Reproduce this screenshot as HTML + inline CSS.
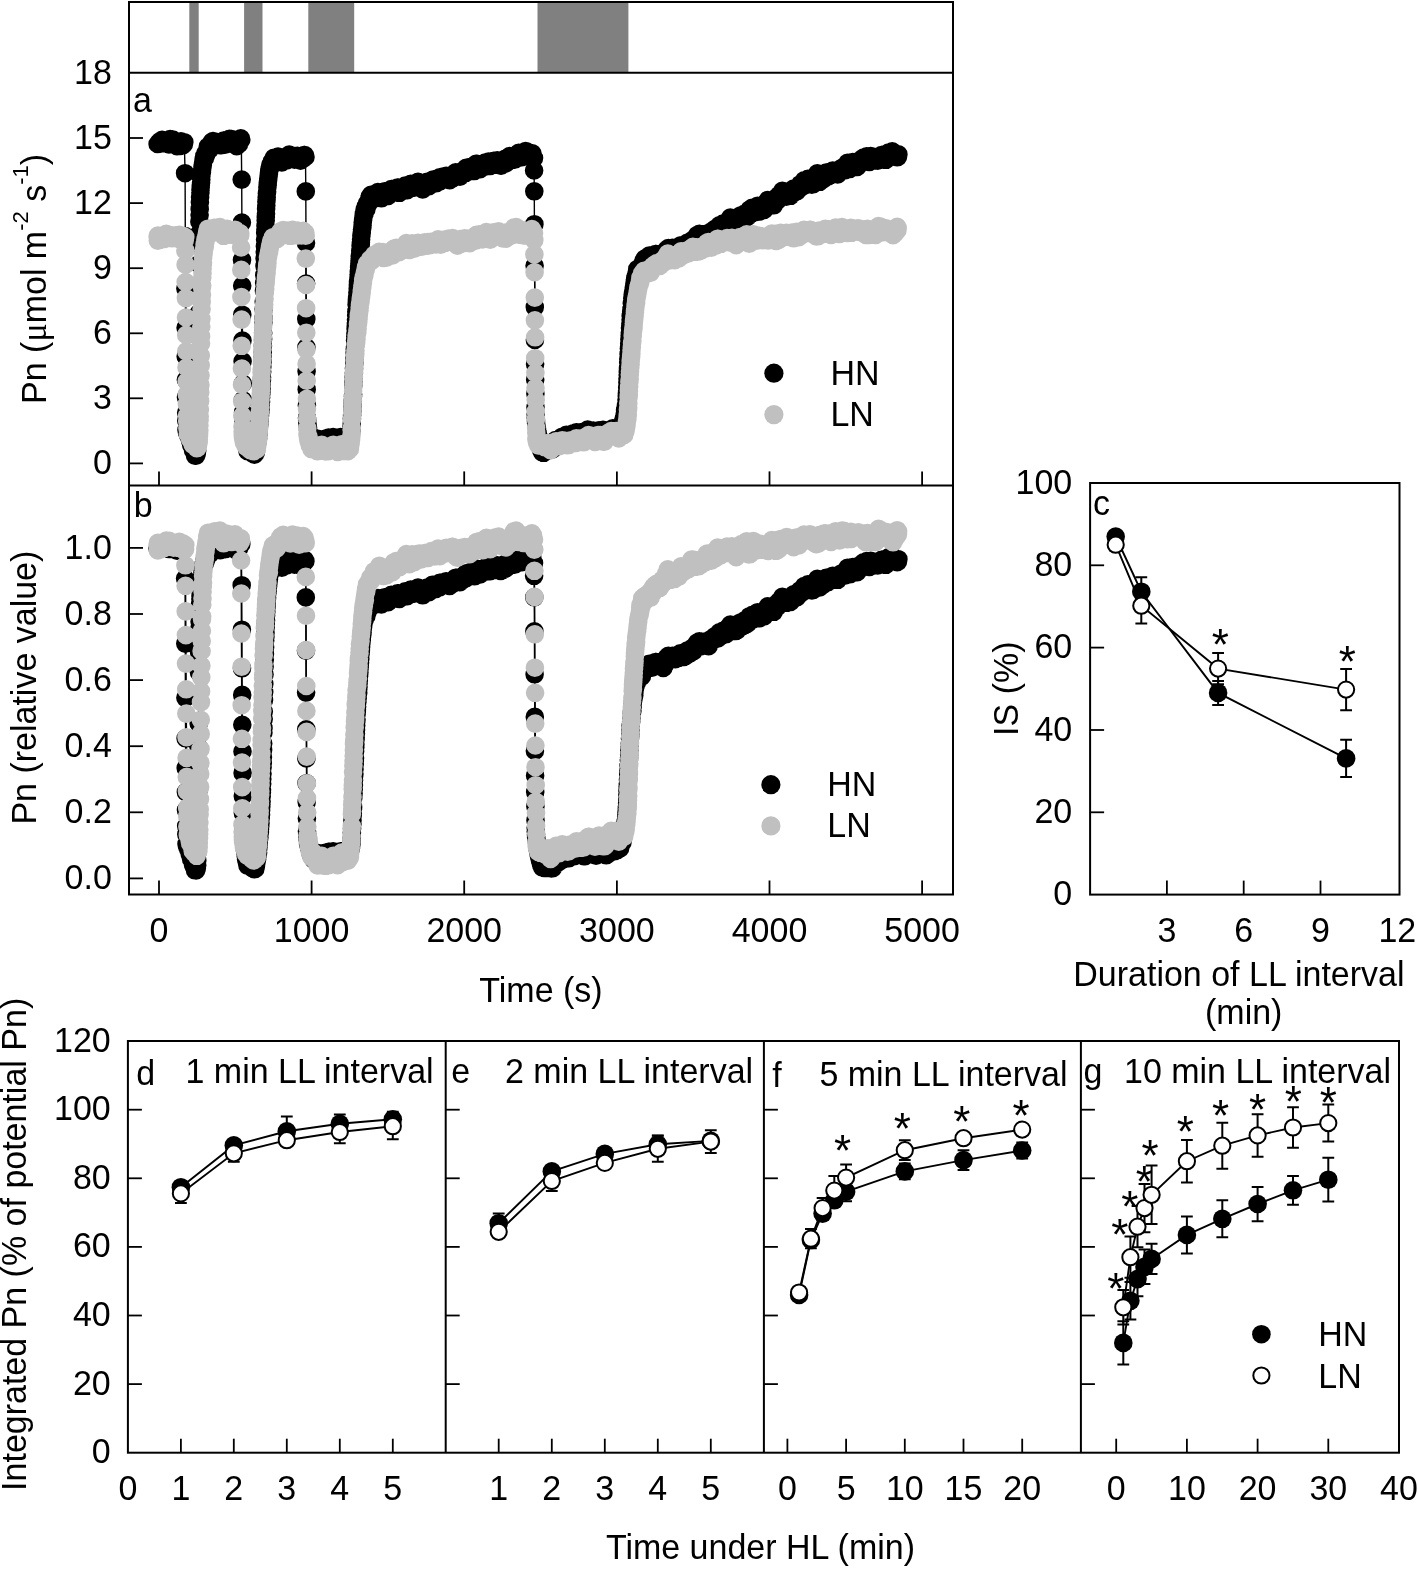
<!DOCTYPE html>
<html><head><meta charset="utf-8"><style>
html,body{margin:0;padding:0;background:#fff;}
svg{display:block;will-change:transform;}
text{font-family:"Liberation Sans",sans-serif;fill:#000;stroke:none;}
</style></head><body>
<svg width="1418" height="1570" viewBox="0 0 1418 1570" stroke="#000" fill="none">
<rect x="0" y="0" width="1418" height="1570" fill="#fff" stroke="none"/>
<g stroke="none" fill="#000">
</g>
<rect x="189.3" y="3.0" width="9.4" height="69.8" fill="#808080" stroke="none"/>
<rect x="244.1" y="3.0" width="18.4" height="69.8" fill="#808080" stroke="none"/>
<rect x="308.3" y="3.0" width="45.9" height="69.8" fill="#808080" stroke="none"/>
<rect x="537.5" y="3.0" width="90.9" height="69.8" fill="#808080" stroke="none"/>
<polyline points="157.6,144.0 158.7,142.6 160.2,141.0 160.4,143.6 160.5,141.5 161.6,143.0 161.7,141.5 162.1,139.9 162.2,141.4 162.5,143.1 162.7,141.0 163.0,142.8 163.1,140.7 163.4,142.9 163.7,140.8 164.0,143.3 164.2,141.7 164.6,143.3 165.1,141.2 166.5,142.6 167.5,141.4 168.2,143.9 168.3,141.8 168.5,143.7 168.6,140.7 168.9,144.5 169.1,141.7 169.5,144.0 169.8,141.1 170.1,139.0 170.3,141.3 170.4,142.9 170.6,139.4 170.8,142.4 171.2,140.7 171.5,142.6 172.0,141.1 172.9,139.6 173.2,141.8 174.1,143.8 174.4,142.2 175.3,144.0 175.6,141.5 175.8,143.1 176.2,144.9 176.7,143.0 177.0,146.2 177.3,143.2 177.6,144.7 178.2,143.3 178.5,145.3 179.5,143.2 180.1,146.0 180.2,142.8 180.5,145.0 181.0,141.4 181.1,143.9 181.3,142.0 181.4,143.6 182.7,145.4 183.9,144.1 184.3,142.2 185.1,173.2 185.3,236.1 185.4,288.6 185.6,327.8 185.7,356.5 185.9,379.8 186.0,397.3 186.2,412.8 186.3,420.7 186.5,430.1 186.9,432.0 188.0,434.0 188.3,435.7 189.2,437.3 190.0,440.4 190.3,438.9 190.6,441.1 191.1,444.6 191.2,441.8 191.4,445.2 191.8,442.6 192.0,445.0 192.7,447.8 193.0,450.2 193.2,448.5 193.3,450.2 193.5,448.6 193.8,451.8 194.9,453.3 195.0,455.6 195.9,454.2 196.1,455.7 196.7,452.0 196.8,453.8 197.2,450.7 197.3,446.0 197.5,438.1 197.6,432.4 197.8,421.4 197.9,412.0 198.1,396.5 198.2,379.8 198.4,359.5 198.5,336.2 198.7,313.4 198.8,287.6 199.0,264.0 199.1,244.6 199.3,233.4 199.4,221.7 199.6,214.9 199.7,209.2 199.9,202.3 200.1,197.3 200.4,192.8 200.5,190.2 200.7,187.3 200.8,185.4 201.1,182.7 201.3,179.6 201.4,175.9 201.9,172.6 202.0,170.5 202.5,167.2 202.8,165.3 203.1,162.7 203.6,159.4 204.3,156.0 204.9,158.2 205.2,154.7 205.4,156.8 205.5,153.4 205.9,155.1 206.0,152.3 206.3,154.2 206.5,151.8 207.5,148.9 207.8,146.7 208.0,148.5 208.6,146.6 209.8,149.5 210.0,144.9 210.3,147.1 210.9,144.4 211.5,142.3 212.0,143.8 212.1,141.5 212.3,143.5 212.4,141.8 212.9,143.7 213.0,141.1 213.2,142.7 213.8,141.2 213.9,143.0 214.1,141.2 214.4,143.1 214.6,144.7 214.7,143.1 215.8,144.2 215.9,142.4 216.1,145.1 216.2,143.2 217.3,144.5 217.9,142.4 218.2,144.0 219.4,142.8 220.0,145.3 220.8,143.4 221.1,145.1 221.3,143.6 222.5,144.8 222.6,142.7 222.8,144.3 223.6,140.6 223.9,143.8 224.0,141.5 224.2,143.1 225.1,144.7 225.2,142.5 225.7,144.5 225.8,142.9 226.5,141.1 227.2,139.7 228.4,141.9 228.6,140.2 229.5,138.9 229.7,141.2 231.2,141.3 231.6,139.0 231.8,142.6 232.1,140.2 232.9,143.7 233.8,141.9 234.1,143.6 234.4,141.1 234.5,143.7 235.9,142.4 236.4,144.1 236.7,146.2 236.8,143.8 237.0,145.5 237.6,143.3 238.8,141.8 239.0,144.2 239.4,140.0 239.6,142.1 240.2,140.2 240.8,138.4 241.3,139.8 241.7,179.6 241.9,222.6 242.0,260.0 242.2,285.8 242.3,314.7 242.5,340.6 242.6,361.3 242.8,383.5 242.9,400.1 243.1,412.4 243.2,415.3 243.4,417.5 243.6,421.8 244.0,426.5 244.3,429.8 244.6,431.8 244.8,435.0 245.1,437.2 245.5,439.2 245.8,442.2 246.1,445.1 246.8,447.8 246.9,445.5 247.1,449.1 247.2,447.1 247.5,451.1 247.8,448.4 248.0,450.0 248.9,448.5 249.5,450.2 250.1,448.9 250.3,446.5 250.6,449.2 250.7,451.2 250.9,449.2 251.3,446.8 251.5,450.2 251.8,448.4 251.9,450.8 252.3,453.5 252.4,448.5 252.6,450.2 253.0,452.3 253.9,453.6 254.2,450.8 254.4,454.6 254.5,452.5 255.0,454.0 255.6,451.7 255.8,449.1 255.9,451.9 256.1,450.0 256.5,448.1 256.7,446.5 257.3,442.8 257.7,439.4 257.9,436.5 258.1,438.6 258.2,435.2 258.4,433.5 258.7,430.2 258.8,428.5 259.1,425.9 259.4,423.9 259.7,419.9 260.0,415.8 260.3,412.5 260.5,410.1 260.8,404.8 261.0,402.0 261.1,397.5 261.3,394.0 261.4,391.9 261.6,389.0 261.7,384.0 261.9,380.2 262.0,377.6 262.2,371.8 262.3,367.1 262.5,362.2 262.6,355.8 262.8,351.9 262.9,346.1 263.1,339.2 263.2,332.9 263.4,322.3 263.5,318.0 263.7,309.0 263.8,301.8 264.0,290.7 264.2,283.0 264.3,275.2 264.5,266.0 264.6,258.5 264.8,251.8 264.9,246.3 265.1,239.7 265.2,233.1 265.4,229.7 265.5,226.0 265.7,220.4 265.8,217.2 266.0,213.7 266.1,209.0 266.3,205.6 266.4,201.7 266.6,199.8 266.7,197.4 266.9,193.4 267.1,191.7 267.4,187.4 267.7,185.0 267.8,182.7 268.1,180.6 268.3,178.5 268.6,176.3 268.9,174.1 269.2,171.2 269.6,169.2 270.1,165.9 270.4,167.6 270.7,164.4 271.8,163.2 271.9,164.8 272.1,161.2 272.2,163.7 272.9,162.1 273.6,160.8 273.8,157.8 274.1,159.9 274.5,158.1 274.7,160.7 275.1,158.8 276.2,160.3 276.5,158.5 276.8,160.2 277.0,158.3 277.1,160.0 277.4,157.6 277.6,159.4 278.0,156.6 278.2,159.2 279.0,157.2 279.1,158.7 279.7,157.1 280.0,159.1 280.3,157.0 280.5,158.7 280.6,160.9 280.8,157.5 280.9,161.3 281.9,162.5 282.0,159.9 282.5,161.3 283.7,159.4 285.1,156.9 285.2,159.3 285.4,157.7 285.5,159.9 285.8,158.2 286.0,160.3 286.6,158.6 286.7,160.4 286.9,157.7 287.5,159.6 287.8,157.9 288.0,155.7 288.3,158.2 288.6,156.1 289.2,154.6 289.3,157.6 289.5,156.1 290.7,157.3 291.0,155.5 291.2,158.1 292.5,157.4 293.6,156.2 294.5,159.7 294.7,156.1 295.0,158.3 295.1,156.5 295.6,158.5 295.7,156.4 295.9,159.3 296.2,157.7 297.0,156.4 297.1,158.0 297.3,155.7 297.7,157.2 298.2,159.5 298.3,157.0 298.5,158.6 298.6,157.0 300.2,156.9 300.5,160.6 300.8,157.4 301.1,158.9 302.2,157.9 303.2,156.4 303.7,158.3 304.0,155.0 304.3,156.8 304.8,155.0 305.5,156.9 305.8,191.4 306.0,242.9 306.1,283.5 306.3,319.0 306.4,347.3 306.6,371.3 306.7,389.4 306.9,405.4 307.0,417.9 307.2,420.2 307.3,422.7 307.7,426.0 308.0,427.6 308.1,430.2 309.0,432.9 309.5,434.3 309.9,436.0 310.2,438.2 310.7,436.4 310.9,439.2 311.3,440.9 312.1,442.2 312.8,443.6 313.5,445.0 314.2,443.7 314.4,445.5 314.5,443.4 315.9,441.8 316.2,443.3 316.4,439.9 316.5,442.0 317.4,439.4 317.7,441.4 317.9,438.8 318.2,442.2 318.3,440.4 318.5,442.1 319.4,440.8 319.6,443.4 319.7,441.7 320.3,444.4 320.8,441.7 322.2,440.7 322.6,443.3 322.8,441.7 323.7,439.0 323.8,441.0 325.4,440.7 326.6,438.4 326.9,439.9 327.0,438.2 327.6,439.7 328.4,441.8 328.6,437.6 328.7,439.4 329.2,437.8 329.3,440.0 329.9,442.1 330.1,440.5 331.3,438.0 331.8,441.5 331.9,439.7 333.1,437.1 333.3,439.0 334.5,440.0 334.7,437.6 335.4,439.0 336.6,441.7 336.8,439.6 337.1,441.9 337.6,443.7 337.9,441.4 338.9,439.5 339.4,441.1 340.3,439.1 340.6,437.1 340.8,439.8 340.9,437.5 341.2,439.2 341.8,437.4 342.0,439.5 342.3,441.6 342.4,440.0 343.4,442.7 343.5,439.9 343.7,441.8 343.8,439.8 344.1,442.3 344.6,440.4 344.9,442.2 345.0,439.1 346.6,439.2 347.5,437.1 347.6,438.6 348.6,440.6 348.9,438.3 349.0,439.8 349.9,437.7 350.5,435.3 350.8,432.2 351.0,434.1 351.1,432.2 351.5,430.1 351.6,426.4 351.8,424.0 351.9,419.1 352.1,415.2 352.4,410.9 352.5,407.3 352.7,402.7 352.8,400.4 353.0,396.3 353.1,394.5 353.3,385.5 353.4,383.0 353.6,381.3 353.7,377.3 353.9,372.9 354.0,368.4 354.2,363.9 354.4,362.2 354.5,357.8 354.7,353.1 354.8,349.3 355.0,346.8 355.1,340.4 355.3,336.5 355.4,333.7 355.6,329.0 355.7,327.2 355.9,323.3 356.0,319.8 356.2,315.4 356.3,311.8 356.5,309.8 356.6,304.5 356.8,302.3 356.9,300.2 357.1,297.3 357.4,292.7 357.7,289.1 357.9,285.2 358.0,282.1 358.2,284.1 358.3,280.2 358.5,278.0 358.6,274.8 358.8,272.1 359.1,267.3 359.2,265.8 359.4,264.0 359.5,260.9 359.7,259.0 359.8,256.8 360.0,254.7 360.3,251.0 360.6,246.0 360.8,244.4 360.9,242.4 361.1,239.5 361.4,236.0 361.5,234.5 361.8,232.5 362.0,229.8 362.4,227.4 362.6,225.3 362.7,222.7 363.1,220.0 363.5,217.2 363.8,214.2 364.4,212.7 364.6,209.7 364.7,213.1 364.9,211.1 365.0,208.9 365.8,206.4 366.4,209.3 366.6,205.3 367.3,203.2 367.5,205.6 367.6,203.5 367.9,202.0 368.7,203.3 369.0,199.8 369.5,198.1 370.1,196.2 371.0,194.8 371.3,196.9 371.4,195.0 371.8,196.6 372.8,198.1 373.1,196.4 373.4,198.8 373.6,197.0 374.8,196.0 375.6,194.1 375.7,195.9 376.2,194.2 377.4,192.9 377.7,194.9 377.9,192.0 378.2,194.2 378.6,192.6 378.9,194.3 379.1,196.6 379.2,194.6 380.1,196.4 380.3,194.8 380.5,197.8 380.9,196.3 381.4,198.3 382.4,195.9 383.0,192.7 383.2,196.5 383.4,194.3 384.4,192.3 384.6,194.4 384.7,191.4 384.9,193.5 385.2,191.6 385.3,193.5 385.6,191.2 385.8,193.5 386.3,191.6 386.4,194.0 387.5,192.8 387.9,194.2 388.1,196.0 388.4,193.9 389.8,192.9 389.9,194.4 390.1,191.2 391.3,189.0 391.6,191.9 391.7,189.5 392.8,190.7 393.4,188.8 393.7,190.7 393.9,189.1 394.0,191.3 394.2,189.6 394.6,192.3 394.8,188.8 396.3,188.4 397.5,187.5 397.7,190.4 398.2,187.5 398.5,189.9 399.2,187.8 399.4,192.8 399.5,190.0 401.1,189.3 401.7,187.5 402.1,189.1 402.9,190.6 403.2,189.0 403.5,187.2 404.0,189.1 404.3,186.9 405.0,188.2 405.2,185.5 405.3,187.9 405.6,185.9 405.9,188.8 406.1,186.2 406.2,187.8 407.2,190.1 407.3,186.0 407.5,189.0 407.8,187.0 407.9,189.3 408.5,187.2 409.3,185.5 410.2,184.2 410.5,186.4 410.8,183.9 411.1,186.8 412.0,184.9 412.3,187.1 413.3,185.5 414.2,187.7 414.9,185.6 415.4,187.1 415.9,184.7 416.0,187.2 416.2,184.8 417.2,183.7 417.5,185.2 417.7,183.5 418.0,181.9 418.5,184.0 419.2,185.3 420.1,187.2 420.3,183.4 420.4,185.3 421.2,187.2 421.4,184.5 421.8,186.2 422.3,188.2 422.4,186.5 422.7,189.4 423.0,185.6 423.2,187.7 423.9,186.1 424.7,183.5 425.0,185.7 425.2,182.8 425.5,184.3 426.1,182.5 426.5,185.2 426.7,183.3 427.0,181.9 427.2,184.1 427.3,181.9 427.6,184.6 428.2,183.1 428.4,184.8 429.0,186.2 429.3,184.2 430.2,182.8 431.0,181.3 431.3,183.3 431.4,180.7 431.6,182.7 431.7,180.6 433.0,179.6 433.7,181.1 434.5,179.3 434.6,180.9 434.8,182.7 435.1,181.1 436.0,183.3 436.2,178.8 436.5,182.2 437.4,180.9 437.5,179.2 437.8,181.3 438.1,179.8 438.3,181.6 438.6,179.5 439.5,181.7 439.7,177.4 440.0,179.0 440.9,180.4 441.0,178.9 442.6,178.2 442.9,176.6 443.8,178.5 444.1,176.5 445.2,177.8 446.1,175.9 446.2,178.2 447.6,178.9 448.2,177.4 448.8,178.8 449.7,180.2 449.9,176.9 450.0,178.4 450.4,176.8 450.5,178.4 451.3,175.7 451.6,178.5 451.9,176.0 453.1,174.3 453.4,177.8 453.6,175.1 455.1,175.6 455.4,173.9 455.7,172.3 455.8,174.3 456.2,172.5 456.3,174.5 457.1,172.7 457.5,174.7 457.7,176.3 458.3,173.6 458.4,175.9 459.8,175.0 460.0,176.7 460.1,175.0 461.0,173.4 461.3,171.9 462.6,173.9 462.9,170.6 463.0,173.5 463.2,170.5 463.5,172.4 464.4,173.6 464.7,171.8 465.8,172.9 465.9,170.9 466.1,167.9 466.4,170.1 467.3,168.5 468.5,170.7 469.0,168.8 469.6,170.2 470.5,166.8 470.7,170.7 472.0,169.9 473.5,169.0 474.5,170.9 474.6,167.3 475.4,166.0 476.0,163.8 476.8,165.3 477.1,163.8 478.3,164.9 479.2,167.6 480.1,169.2 480.3,166.3 480.9,168.2 481.0,166.3 481.3,164.4 481.5,166.9 481.6,165.0 482.4,166.3 482.6,164.1 483.3,165.6 483.6,163.8 485.0,164.6 485.1,162.5 485.3,164.8 485.8,162.7 485.9,166.5 486.1,164.5 486.2,162.8 486.4,165.4 486.7,163.4 486.8,165.0 487.1,162.4 487.6,164.5 487.7,162.3 487.9,164.0 488.2,161.7 488.4,163.7 488.5,161.5 489.1,163.6 489.3,161.7 489.6,164.8 489.9,162.9 490.2,165.9 490.3,163.0 490.5,165.2 491.3,163.3 491.6,165.3 491.7,163.6 492.2,161.7 492.5,164.4 492.9,162.3 493.8,160.9 494.5,164.8 494.6,161.7 494.9,164.1 495.1,161.5 495.4,163.3 496.0,161.6 496.4,163.3 497.2,160.3 497.4,162.7 498.6,163.8 498.9,162.1 499.2,164.1 499.3,162.0 499.5,163.6 499.6,161.8 499.8,165.2 500.3,163.5 500.7,165.7 501.0,163.6 501.2,165.6 501.5,162.8 501.9,164.7 502.1,162.5 502.2,164.5 502.5,160.3 502.9,164.7 503.0,161.0 503.6,159.6 504.2,161.1 504.4,159.2 504.7,161.3 505.0,158.9 505.3,163.5 505.4,160.9 506.4,162.9 506.5,160.3 506.8,162.4 507.0,160.7 508.0,158.7 508.2,160.7 508.5,158.8 508.8,157.3 509.0,160.5 509.3,157.4 509.6,156.0 509.9,159.9 510.3,157.7 510.8,159.3 511.4,157.6 512.3,159.8 512.6,156.8 513.1,159.0 513.8,157.6 515.1,159.4 515.2,157.9 515.8,155.8 516.1,157.6 516.3,156.0 516.4,158.0 516.6,156.4 516.7,154.7 516.9,156.6 517.5,154.6 518.6,155.9 518.7,152.9 518.9,155.3 519.2,153.2 519.3,155.1 519.8,153.1 519.9,155.4 520.4,157.4 520.6,154.5 521.2,156.3 521.5,154.8 521.9,157.2 522.1,155.3 523.2,156.5 523.3,154.8 524.4,156.3 524.5,154.0 524.7,151.9 525.1,153.8 525.6,151.1 526.2,152.5 526.4,154.2 526.5,151.4 526.8,154.2 527.1,152.6 527.4,154.6 528.2,152.3 528.3,156.5 528.5,154.6 530.0,153.3 530.2,154.9 530.6,153.5 531.1,155.0 532.3,153.3 532.6,155.0 532.8,156.5 534.0,158.1 534.1,170.5 534.3,191.3 534.4,224.2 534.6,265.8 534.8,307.1 534.9,339.9 535.1,363.9 535.2,379.7 535.4,393.7 535.5,407.3 535.7,414.5 535.8,418.1 536.0,421.1 536.1,423.2 536.4,425.3 536.6,427.0 537.0,428.6 537.3,431.7 537.7,435.6 537.8,433.4 538.0,436.3 538.3,438.8 538.6,436.7 538.7,440.6 539.0,442.2 539.5,443.8 539.9,445.8 540.7,448.6 541.3,450.4 542.2,452.3 542.5,450.7 542.7,452.3 543.4,450.7 543.6,452.8 544.1,449.4 544.2,452.0 544.8,450.2 545.1,448.6 545.7,450.0 545.9,448.1 546.7,446.2 546.8,449.2 547.0,447.5 547.7,445.9 547.9,448.5 548.5,450.1 548.8,448.3 549.4,449.9 549.7,447.6 550.5,449.0 551.2,447.6 551.4,449.7 551.7,446.8 552.0,448.3 552.5,446.1 552.8,449.2 552.9,444.9 553.1,447.9 553.2,445.0 554.4,442.2 554.9,443.7 555.5,440.0 555.7,443.1 556.4,441.3 557.5,442.8 557.9,441.4 559.0,442.6 559.5,440.7 559.6,439.1 559.8,440.9 560.1,438.6 560.7,440.7 561.0,438.4 561.2,440.1 561.8,438.6 562.1,436.7 562.2,439.3 562.8,437.1 563.0,439.2 563.1,437.3 563.6,439.8 564.1,436.4 564.2,438.2 564.7,436.1 564.8,438.6 565.6,435.7 565.7,437.8 566.3,434.8 566.5,436.4 568.0,436.6 569.1,439.0 569.2,436.9 570.5,435.5 570.6,437.5 570.8,435.9 572.1,436.6 572.3,433.8 572.6,435.5 573.4,433.4 573.7,436.3 573.8,433.2 574.0,437.1 574.3,433.7 574.4,435.4 574.7,433.6 575.0,436.4 575.2,434.6 575.3,433.0 575.5,435.8 576.0,434.2 576.3,432.4 576.4,434.8 576.7,432.4 577.5,435.2 578.2,433.8 578.9,435.3 579.0,433.0 579.3,435.9 579.5,434.0 580.5,435.2 580.8,433.6 581.5,432.1 581.6,436.4 581.8,434.3 582.2,436.1 582.8,433.4 583.1,436.6 583.6,433.8 583.7,437.1 583.9,434.7 584.4,432.9 584.5,435.1 584.8,433.5 585.0,436.9 585.1,433.7 585.3,435.5 585.6,432.3 585.7,434.0 585.9,432.5 587.1,431.3 587.6,433.0 587.7,429.5 588.2,431.3 588.8,433.1 589.4,430.7 589.7,432.5 590.0,434.8 590.2,430.3 590.3,432.3 590.6,433.9 590.9,431.3 591.2,433.6 592.3,432.2 592.6,434.1 592.7,432.6 593.1,430.5 593.2,432.4 593.5,434.0 594.7,435.8 596.1,436.5 596.9,433.6 597.2,435.5 597.3,433.3 598.7,432.5 599.0,430.4 599.2,432.9 599.6,431.0 600.4,432.4 601.4,434.0 601.6,431.5 601.8,433.1 602.1,430.8 602.4,432.8 603.0,429.7 603.3,431.2 604.0,433.0 604.5,431.5 604.8,433.3 605.0,430.8 605.1,435.0 605.9,433.0 606.2,436.2 606.3,433.9 607.9,435.0 608.0,433.1 608.6,434.6 608.9,432.6 609.4,431.0 609.5,433.5 610.0,432.1 610.8,430.4 612.0,429.4 612.9,428.2 613.0,431.8 613.3,430.1 614.4,432.6 614.7,429.8 614.9,431.6 615.6,430.2 616.9,432.3 617.0,430.6 617.5,428.5 618.1,430.9 618.2,428.6 618.5,430.7 618.7,428.9 619.0,430.6 619.1,429.1 619.3,431.0 619.9,428.7 620.1,431.5 620.2,428.9 621.4,426.4 622.2,424.6 622.4,426.8 622.5,423.0 622.7,425.1 622.8,423.2 623.1,421.3 623.6,418.9 624.2,416.9 624.8,413.6 625.1,410.2 625.6,408.3 625.9,406.2 626.2,403.8 626.5,399.9 626.8,396.2 626.9,394.0 627.1,390.9 627.2,387.4 627.4,382.4 627.5,378.8 627.7,374.9 627.8,372.0 628.0,368.2 628.2,362.4 628.3,359.3 628.6,354.2 628.9,348.5 629.1,346.7 629.2,343.6 629.4,339.4 629.7,336.1 629.8,332.9 630.0,327.9 630.3,325.5 630.4,323.7 630.6,319.8 630.7,316.0 631.2,311.4 631.5,307.9 631.8,303.3 632.1,301.7 632.3,298.4 632.4,301.3 632.6,297.6 632.7,294.7 633.0,292.5 633.5,289.9 633.8,287.7 634.3,286.1 634.4,283.7 634.9,279.9 635.3,278.1 635.8,276.3 636.4,274.4 636.7,272.5 636.9,274.0 637.0,272.5 637.3,269.0 637.5,271.6 638.5,269.3 639.8,267.5 640.5,268.9 640.8,266.7 641.3,268.3 641.7,265.4 642.0,267.3 642.3,265.5 643.0,264.0 643.1,262.3 643.7,260.4 643.9,262.5 644.2,260.0 644.6,261.8 644.8,258.5 645.2,261.2 645.4,258.4 645.7,260.5 646.0,259.0 647.5,259.1 648.3,257.7 649.2,255.6 649.4,257.6 650.3,255.5 650.6,258.0 651.4,259.5 651.5,256.9 652.0,259.4 652.9,257.4 653.5,255.9 653.6,257.7 654.1,256.1 654.6,258.0 654.7,255.8 655.5,254.0 655.8,255.8 656.1,254.0 656.2,257.3 656.5,255.1 656.7,256.7 657.2,254.4 657.3,256.4 657.6,254.7 657.8,256.5 657.9,254.8 658.1,256.5 658.4,254.8 658.5,257.2 658.8,255.6 659.0,254.0 660.2,255.2 661.6,256.6 662.5,258.5 662.8,256.4 663.3,259.7 663.4,256.8 663.7,258.4 664.5,255.8 665.1,254.3 665.5,252.9 666.2,251.3 666.3,254.0 666.5,251.7 666.6,249.6 668.1,250.0 668.3,248.0 668.6,250.2 669.1,248.7 669.2,250.7 669.5,249.2 670.1,250.9 670.7,249.4 672.1,250.3 672.4,247.8 672.6,249.4 673.3,252.0 673.5,250.4 674.9,251.8 675.2,249.2 675.3,251.2 675.5,249.3 676.4,247.9 676.8,249.4 678.4,249.8 678.5,248.1 678.8,246.5 680.3,245.5 680.7,247.3 681.0,245.4 681.9,248.2 682.0,245.4 682.2,247.8 682.5,245.9 683.1,247.3 683.2,245.3 683.4,248.2 683.7,246.5 684.0,249.1 684.2,245.8 684.3,247.7 684.6,246.1 684.8,248.4 684.9,245.6 685.5,247.8 685.7,245.0 685.8,247.9 686.0,246.0 686.5,244.3 687.1,246.0 687.2,242.9 688.1,245.0 688.3,243.1 688.7,245.1 688.9,242.7 689.4,244.2 690.1,245.6 690.4,244.1 690.9,242.0 691.3,243.8 691.5,241.6 691.6,244.0 691.8,242.3 691.9,240.4 692.1,242.5 692.4,241.0 693.2,242.3 693.3,240.1 693.6,243.4 693.8,240.1 693.9,241.9 694.1,240.3 694.4,242.2 694.7,239.2 695.9,237.7 696.4,236.2 697.0,238.5 697.1,235.1 697.3,237.7 697.4,235.3 697.7,237.4 699.1,238.6 699.3,233.9 699.4,237.5 699.7,235.6 699.9,237.6 700.6,239.0 700.8,236.2 701.4,237.8 701.9,234.2 702.0,236.3 703.5,236.3 704.8,237.5 704.9,235.1 706.0,233.8 706.3,236.4 706.4,234.4 707.5,236.2 708.1,234.1 708.4,236.0 708.6,238.6 708.7,236.1 709.3,234.0 710.7,231.8 711.0,233.8 711.9,231.7 713.2,230.6 714.1,232.3 714.4,229.3 714.7,232.0 715.0,228.8 715.3,230.6 715.8,229.1 716.2,230.6 717.1,228.8 717.9,231.1 718.0,229.1 718.5,227.5 719.4,225.3 719.6,227.4 720.3,225.5 720.8,226.9 721.1,225.4 721.3,227.8 721.6,225.9 721.9,228.5 722.2,226.9 722.3,224.5 722.5,227.8 722.8,225.4 722.9,223.6 723.1,227.5 723.2,225.4 723.7,227.1 724.3,225.5 725.1,223.8 725.5,225.9 725.7,223.7 725.8,227.1 726.0,225.3 726.3,223.8 726.6,226.5 726.7,224.8 726.9,223.0 727.1,225.3 727.4,223.6 727.7,225.2 727.8,221.0 728.0,224.3 728.1,222.2 729.0,220.2 729.8,218.7 730.1,220.4 730.3,217.6 731.3,221.3 731.6,219.2 732.1,221.5 732.2,219.8 733.6,221.1 733.9,218.6 734.1,220.8 734.8,222.7 735.0,218.9 735.1,222.1 735.3,220.5 735.6,222.6 736.5,224.3 736.7,220.5 736.8,223.3 737.0,220.2 737.1,223.4 738.2,221.3 738.5,219.7 738.7,221.3 738.8,219.6 739.3,217.9 739.9,215.9 740.9,217.3 741.2,215.4 741.7,218.0 741.9,216.1 742.3,219.5 742.5,215.4 743.1,218.4 743.2,216.5 744.3,213.9 744.5,218.0 745.1,215.0 745.2,217.9 745.4,215.9 746.3,214.4 746.4,216.9 746.6,215.4 746.7,217.3 746.9,215.7 747.4,213.0 747.5,214.5 748.0,216.3 748.1,212.9 749.0,214.1 749.2,212.5 749.5,209.6 749.9,211.9 750.1,210.3 750.9,211.8 751.5,209.8 751.9,207.8 752.1,211.1 752.4,208.3 752.5,210.3 752.7,212.9 752.8,209.5 753.5,211.9 753.6,209.9 755.1,210.3 755.6,211.9 756.0,208.5 756.8,210.3 757.0,207.3 757.6,205.7 757.7,209.9 757.9,207.7 758.8,209.2 759.6,207.5 759.7,211.5 759.9,207.7 760.0,210.5 760.2,208.3 760.8,210.0 761.5,207.4 762.6,209.7 762.9,207.6 764.1,209.9 764.3,205.2 764.4,207.7 765.2,205.6 765.7,207.1 766.3,204.3 767.2,202.3 767.8,200.1 768.0,202.4 768.4,200.5 768.6,202.7 768.9,200.6 769.2,203.4 769.3,201.9 769.5,204.2 769.6,201.1 769.8,203.9 770.1,201.8 770.4,203.7 770.5,201.5 770.7,204.0 771.0,200.4 771.2,203.1 771.6,200.0 771.8,203.5 772.2,201.6 772.7,203.8 772.8,201.4 773.3,203.7 773.4,202.0 773.8,205.3 773.9,202.8 774.4,201.2 775.1,199.1 775.3,201.9 775.7,199.8 776.5,198.1 776.7,199.7 777.0,197.1 777.1,198.6 777.6,200.4 777.7,198.6 778.9,195.2 779.1,197.2 780.3,195.2 780.6,197.7 780.8,194.1 780.9,196.2 781.4,194.7 781.8,192.8 782.3,190.8 782.5,194.8 782.6,193.2 784.1,193.8 784.6,196.4 784.9,194.5 785.4,196.5 785.8,193.9 786.0,196.1 786.1,194.0 786.3,196.6 786.4,194.9 786.9,192.2 787.0,193.9 787.8,191.5 787.9,193.3 789.3,194.1 789.5,192.0 790.1,193.9 790.5,195.8 790.7,193.1 791.3,191.3 791.6,193.1 792.4,191.2 793.1,192.9 793.4,190.8 793.6,188.5 793.7,190.7 794.7,192.2 795.0,190.4 795.3,192.0 796.8,191.3 797.6,188.1 797.7,189.8 797.9,187.7 798.3,189.6 798.6,188.0 798.8,186.3 800.2,184.2 800.3,185.8 801.4,184.5 801.5,187.1 802.4,185.6 803.7,184.6 804.1,180.4 804.3,184.0 805.2,181.5 805.3,184.8 805.5,181.9 806.9,180.3 807.3,182.3 807.9,178.8 808.1,180.5 809.0,183.9 809.2,180.8 809.9,182.1 810.2,184.0 810.4,182.1 810.7,184.1 811.3,181.0 811.6,182.7 811.9,184.6 812.2,182.2 813.3,184.1 813.4,182.1 814.0,180.0 814.4,181.5 814.7,179.8 815.4,177.5 816.2,175.5 816.5,177.4 817.3,173.4 817.6,177.5 818.8,179.1 818.9,177.6 819.1,179.7 819.7,181.8 819.8,180.0 820.8,178.8 821.5,180.2 822.3,176.6 822.9,178.3 823.2,175.3 823.4,179.1 823.7,177.0 824.1,175.4 824.4,176.9 824.6,174.4 824.7,176.4 825.5,174.7 826.1,172.5 826.7,174.6 827.0,172.5 827.2,174.0 828.4,176.5 828.5,173.0 829.5,175.3 829.8,173.0 830.8,174.9 831.1,172.5 831.7,174.4 832.1,172.8 832.7,170.6 833.0,173.4 833.3,171.7 833.4,174.0 834.0,172.3 834.6,173.8 834.8,171.3 835.4,173.9 835.6,170.8 836.0,173.1 836.3,171.4 836.6,173.0 837.7,174.4 837.9,171.3 839.2,169.9 839.7,171.8 839.8,170.1 840.6,168.6 840.8,171.0 840.9,168.9 841.5,171.0 841.7,168.2 841.8,169.7 842.4,167.6 842.6,169.7 843.2,167.7 844.1,170.0 845.0,168.3 845.3,170.1 845.9,168.7 846.4,166.4 847.0,168.8 847.2,165.9 847.5,162.8 847.6,166.5 847.9,164.6 848.1,166.6 848.5,168.2 849.9,169.0 850.1,167.2 850.8,165.1 851.1,166.6 851.4,164.6 851.6,166.1 852.0,163.9 852.4,162.4 852.5,165.1 852.8,162.1 853.4,164.9 853.6,163.0 854.9,164.8 855.1,162.8 855.3,164.7 856.3,161.7 856.5,163.9 856.6,166.1 856.8,163.8 857.2,166.9 857.4,164.8 857.5,166.5 858.5,165.2 858.9,162.4 859.2,164.0 859.7,162.0 860.0,160.2 860.3,161.9 860.9,159.7 861.8,161.1 862.4,158.4 862.7,160.0 863.5,157.5 863.6,159.6 864.3,158.1 864.7,160.4 865.3,158.2 866.4,159.5 866.7,156.2 866.9,159.5 867.0,161.2 868.5,161.5 869.3,159.4 869.4,161.9 869.6,157.9 869.8,160.0 870.5,158.5 870.8,156.0 871.0,158.1 871.4,159.5 872.0,158.0 872.2,159.9 873.7,160.5 874.3,158.3 874.5,160.5 874.6,157.6 874.9,159.8 875.4,157.6 875.6,159.2 876.0,157.3 876.3,160.3 876.6,158.4 877.7,160.6 877.8,158.5 878.9,156.2 879.1,158.0 879.5,156.6 880.6,159.1 880.7,157.5 881.4,155.1 881.5,156.8 881.8,155.1 882.3,156.8 883.3,155.5 883.6,157.9 884.1,155.8 884.4,157.6 885.8,159.8 885.9,157.7 886.7,155.9 887.9,154.6 888.5,152.6 888.7,156.0 888.8,152.5 889.1,154.1 889.9,156.1 890.0,154.2 890.7,155.9 891.0,153.1 891.1,155.2 891.6,153.6 892.2,151.4 892.3,154.4 892.6,152.2 892.8,154.6 892.9,152.3 893.1,154.5 893.6,152.9 893.7,154.4 894.5,156.3 895.1,154.8 895.7,156.7 896.9,155.5 897.2,157.3 897.7,154.3 898.0,156.8 898.4,154.4" fill="none" stroke="#000" stroke-width="1.4"/>
<path d="M157.6 144.0h0M158.7 142.6h0M160.2 141.0h0M160.4 143.6h0M160.5 141.5h0M161.6 143.0h0M161.7 141.5h0M162.1 139.9h0M162.2 141.4h0M162.5 143.1h0M162.7 141.0h0M163.0 142.8h0M163.1 140.7h0M163.4 142.9h0M163.7 140.8h0M164.0 143.3h0M164.2 141.7h0M164.6 143.3h0M165.1 141.2h0M166.5 142.6h0M167.5 141.4h0M168.2 143.9h0M168.3 141.8h0M168.5 143.7h0M168.6 140.7h0M168.9 144.5h0M169.1 141.7h0M169.5 144.0h0M169.8 141.1h0M170.1 139.0h0M170.3 141.3h0M170.4 142.9h0M170.6 139.4h0M170.8 142.4h0M171.2 140.7h0M171.5 142.6h0M172.0 141.1h0M172.9 139.6h0M173.2 141.8h0M174.1 143.8h0M174.4 142.2h0M175.3 144.0h0M175.6 141.5h0M175.8 143.1h0M176.2 144.9h0M176.7 143.0h0M177.0 146.2h0M177.3 143.2h0M177.6 144.7h0M178.2 143.3h0M178.5 145.3h0M179.5 143.2h0M180.1 146.0h0M180.2 142.8h0M180.5 145.0h0M181.0 141.4h0M181.1 143.9h0M181.3 142.0h0M181.4 143.6h0M182.7 145.4h0M183.9 144.1h0M184.3 142.2h0M185.1 173.2h0M185.3 236.1h0M185.4 288.6h0M185.6 327.8h0M185.7 356.5h0M185.9 379.8h0M186.0 397.3h0M186.2 412.8h0M186.3 420.7h0M186.5 430.1h0M186.9 432.0h0M188.0 434.0h0M188.3 435.7h0M189.2 437.3h0M190.0 440.4h0M190.3 438.9h0M190.6 441.1h0M191.1 444.6h0M191.2 441.8h0M191.4 445.2h0M191.8 442.6h0M192.0 445.0h0M192.7 447.8h0M193.0 450.2h0M193.2 448.5h0M193.3 450.2h0M193.5 448.6h0M193.8 451.8h0M194.9 453.3h0M195.0 455.6h0M195.9 454.2h0M196.1 455.7h0M196.7 452.0h0M196.8 453.8h0M197.2 450.7h0M197.3 446.0h0M197.5 438.1h0M197.6 432.4h0M197.8 421.4h0M197.9 412.0h0M198.1 396.5h0M198.2 379.8h0M198.4 359.5h0M198.5 336.2h0M198.7 313.4h0M198.8 287.6h0M199.0 264.0h0M199.1 244.6h0M199.3 233.4h0M199.4 221.7h0M199.6 214.9h0M199.7 209.2h0M199.9 202.3h0M200.1 197.3h0M200.4 192.8h0M200.5 190.2h0M200.7 187.3h0M200.8 185.4h0M201.1 182.7h0M201.3 179.6h0M201.4 175.9h0M201.9 172.6h0M202.0 170.5h0M202.5 167.2h0M202.8 165.3h0M203.1 162.7h0M203.6 159.4h0M204.3 156.0h0M204.9 158.2h0M205.2 154.7h0M205.4 156.8h0M205.5 153.4h0M205.9 155.1h0M206.0 152.3h0M206.3 154.2h0M206.5 151.8h0M207.5 148.9h0M207.8 146.7h0M208.0 148.5h0M208.6 146.6h0M209.8 149.5h0M210.0 144.9h0M210.3 147.1h0M210.9 144.4h0M211.5 142.3h0M212.0 143.8h0M212.1 141.5h0M212.3 143.5h0M212.4 141.8h0M212.9 143.7h0M213.0 141.1h0M213.2 142.7h0M213.8 141.2h0M213.9 143.0h0M214.1 141.2h0M214.4 143.1h0M214.6 144.7h0M214.7 143.1h0M215.8 144.2h0M215.9 142.4h0M216.1 145.1h0M216.2 143.2h0M217.3 144.5h0M217.9 142.4h0M218.2 144.0h0M219.4 142.8h0M220.0 145.3h0M220.8 143.4h0M221.1 145.1h0M221.3 143.6h0M222.5 144.8h0M222.6 142.7h0M222.8 144.3h0M223.6 140.6h0M223.9 143.8h0M224.0 141.5h0M224.2 143.1h0M225.1 144.7h0M225.2 142.5h0M225.7 144.5h0M225.8 142.9h0M226.5 141.1h0M227.2 139.7h0M228.4 141.9h0M228.6 140.2h0M229.5 138.9h0M229.7 141.2h0M231.2 141.3h0M231.6 139.0h0M231.8 142.6h0M232.1 140.2h0M232.9 143.7h0M233.8 141.9h0M234.1 143.6h0M234.4 141.1h0M234.5 143.7h0M235.9 142.4h0M236.4 144.1h0M236.7 146.2h0M236.8 143.8h0M237.0 145.5h0M237.6 143.3h0M238.8 141.8h0M239.0 144.2h0M239.4 140.0h0M239.6 142.1h0M240.2 140.2h0M240.8 138.4h0M241.3 139.8h0M241.7 179.6h0M241.9 222.6h0M242.0 260.0h0M242.2 285.8h0M242.3 314.7h0M242.5 340.6h0M242.6 361.3h0M242.8 383.5h0M242.9 400.1h0M243.1 412.4h0M243.2 415.3h0M243.4 417.5h0M243.6 421.8h0M244.0 426.5h0M244.3 429.8h0M244.6 431.8h0M244.8 435.0h0M245.1 437.2h0M245.5 439.2h0M245.8 442.2h0M246.1 445.1h0M246.8 447.8h0M246.9 445.5h0M247.1 449.1h0M247.2 447.1h0M247.5 451.1h0M247.8 448.4h0M248.0 450.0h0M248.9 448.5h0M249.5 450.2h0M250.1 448.9h0M250.3 446.5h0M250.6 449.2h0M250.7 451.2h0M250.9 449.2h0M251.3 446.8h0M251.5 450.2h0M251.8 448.4h0M251.9 450.8h0M252.3 453.5h0M252.4 448.5h0M252.6 450.2h0M253.0 452.3h0M253.9 453.6h0M254.2 450.8h0M254.4 454.6h0M254.5 452.5h0M255.0 454.0h0M255.6 451.7h0M255.8 449.1h0M255.9 451.9h0M256.1 450.0h0M256.5 448.1h0M256.7 446.5h0M257.3 442.8h0M257.7 439.4h0M257.9 436.5h0M258.1 438.6h0M258.2 435.2h0M258.4 433.5h0M258.7 430.2h0M258.8 428.5h0M259.1 425.9h0M259.4 423.9h0M259.7 419.9h0M260.0 415.8h0M260.3 412.5h0M260.5 410.1h0M260.8 404.8h0M261.0 402.0h0M261.1 397.5h0M261.3 394.0h0M261.4 391.9h0M261.6 389.0h0M261.7 384.0h0M261.9 380.2h0M262.0 377.6h0M262.2 371.8h0M262.3 367.1h0M262.5 362.2h0M262.6 355.8h0M262.8 351.9h0M262.9 346.1h0M263.1 339.2h0M263.2 332.9h0M263.4 322.3h0M263.5 318.0h0M263.7 309.0h0M263.8 301.8h0M264.0 290.7h0M264.2 283.0h0M264.3 275.2h0M264.5 266.0h0M264.6 258.5h0M264.8 251.8h0M264.9 246.3h0M265.1 239.7h0M265.2 233.1h0M265.4 229.7h0M265.5 226.0h0M265.7 220.4h0M265.8 217.2h0M266.0 213.7h0M266.1 209.0h0M266.3 205.6h0M266.4 201.7h0M266.6 199.8h0M266.7 197.4h0M266.9 193.4h0M267.1 191.7h0M267.4 187.4h0M267.7 185.0h0M267.8 182.7h0M268.1 180.6h0M268.3 178.5h0M268.6 176.3h0M268.9 174.1h0M269.2 171.2h0M269.6 169.2h0M270.1 165.9h0M270.4 167.6h0M270.7 164.4h0M271.8 163.2h0M271.9 164.8h0M272.1 161.2h0M272.2 163.7h0M272.9 162.1h0M273.6 160.8h0M273.8 157.8h0M274.1 159.9h0M274.5 158.1h0M274.7 160.7h0M275.1 158.8h0M276.2 160.3h0M276.5 158.5h0M276.8 160.2h0M277.0 158.3h0M277.1 160.0h0M277.4 157.6h0M277.6 159.4h0M278.0 156.6h0M278.2 159.2h0M279.0 157.2h0M279.1 158.7h0M279.7 157.1h0M280.0 159.1h0M280.3 157.0h0M280.5 158.7h0M280.6 160.9h0M280.8 157.5h0M280.9 161.3h0M281.9 162.5h0M282.0 159.9h0M282.5 161.3h0M283.7 159.4h0M285.1 156.9h0M285.2 159.3h0M285.4 157.7h0M285.5 159.9h0M285.8 158.2h0M286.0 160.3h0M286.6 158.6h0M286.7 160.4h0M286.9 157.7h0M287.5 159.6h0M287.8 157.9h0M288.0 155.7h0M288.3 158.2h0M288.6 156.1h0M289.2 154.6h0M289.3 157.6h0M289.5 156.1h0M290.7 157.3h0M291.0 155.5h0M291.2 158.1h0M292.5 157.4h0M293.6 156.2h0M294.5 159.7h0M294.7 156.1h0M295.0 158.3h0M295.1 156.5h0M295.6 158.5h0M295.7 156.4h0M295.9 159.3h0M296.2 157.7h0M297.0 156.4h0M297.1 158.0h0M297.3 155.7h0M297.7 157.2h0M298.2 159.5h0M298.3 157.0h0M298.5 158.6h0M298.6 157.0h0M300.2 156.9h0M300.5 160.6h0M300.8 157.4h0M301.1 158.9h0M302.2 157.9h0M303.2 156.4h0M303.7 158.3h0M304.0 155.0h0M304.3 156.8h0M304.8 155.0h0M305.5 156.9h0M305.8 191.4h0M306.0 242.9h0M306.1 283.5h0M306.3 319.0h0M306.4 347.3h0M306.6 371.3h0M306.7 389.4h0M306.9 405.4h0M307.0 417.9h0M307.2 420.2h0M307.3 422.7h0M307.7 426.0h0M308.0 427.6h0M308.1 430.2h0M309.0 432.9h0M309.5 434.3h0M309.9 436.0h0M310.2 438.2h0M310.7 436.4h0M310.9 439.2h0M311.3 440.9h0M312.1 442.2h0M312.8 443.6h0M313.5 445.0h0M314.2 443.7h0M314.4 445.5h0M314.5 443.4h0M315.9 441.8h0M316.2 443.3h0M316.4 439.9h0M316.5 442.0h0M317.4 439.4h0M317.7 441.4h0M317.9 438.8h0M318.2 442.2h0M318.3 440.4h0M318.5 442.1h0M319.4 440.8h0M319.6 443.4h0M319.7 441.7h0M320.3 444.4h0M320.8 441.7h0M322.2 440.7h0M322.6 443.3h0M322.8 441.7h0M323.7 439.0h0M323.8 441.0h0M325.4 440.7h0M326.6 438.4h0M326.9 439.9h0M327.0 438.2h0M327.6 439.7h0M328.4 441.8h0M328.6 437.6h0M328.7 439.4h0M329.2 437.8h0M329.3 440.0h0M329.9 442.1h0M330.1 440.5h0M331.3 438.0h0M331.8 441.5h0M331.9 439.7h0M333.1 437.1h0M333.3 439.0h0M334.5 440.0h0M334.7 437.6h0M335.4 439.0h0M336.6 441.7h0M336.8 439.6h0M337.1 441.9h0M337.6 443.7h0M337.9 441.4h0M338.9 439.5h0M339.4 441.1h0M340.3 439.1h0M340.6 437.1h0M340.8 439.8h0M340.9 437.5h0M341.2 439.2h0M341.8 437.4h0M342.0 439.5h0M342.3 441.6h0M342.4 440.0h0M343.4 442.7h0M343.5 439.9h0M343.7 441.8h0M343.8 439.8h0M344.1 442.3h0M344.6 440.4h0M344.9 442.2h0M345.0 439.1h0M346.6 439.2h0M347.5 437.1h0M347.6 438.6h0M348.6 440.6h0M348.9 438.3h0M349.0 439.8h0M349.9 437.7h0M350.5 435.3h0M350.8 432.2h0M351.0 434.1h0M351.1 432.2h0M351.5 430.1h0M351.6 426.4h0M351.8 424.0h0M351.9 419.1h0M352.1 415.2h0M352.4 410.9h0M352.5 407.3h0M352.7 402.7h0M352.8 400.4h0M353.0 396.3h0M353.1 394.5h0M353.3 385.5h0M353.4 383.0h0M353.6 381.3h0M353.7 377.3h0M353.9 372.9h0M354.0 368.4h0M354.2 363.9h0M354.4 362.2h0M354.5 357.8h0M354.7 353.1h0M354.8 349.3h0M355.0 346.8h0M355.1 340.4h0M355.3 336.5h0M355.4 333.7h0M355.6 329.0h0M355.7 327.2h0M355.9 323.3h0M356.0 319.8h0M356.2 315.4h0M356.3 311.8h0M356.5 309.8h0M356.6 304.5h0M356.8 302.3h0M356.9 300.2h0M357.1 297.3h0M357.4 292.7h0M357.7 289.1h0M357.9 285.2h0M358.0 282.1h0M358.2 284.1h0M358.3 280.2h0M358.5 278.0h0M358.6 274.8h0M358.8 272.1h0M359.1 267.3h0M359.2 265.8h0M359.4 264.0h0M359.5 260.9h0M359.7 259.0h0M359.8 256.8h0M360.0 254.7h0M360.3 251.0h0M360.6 246.0h0M360.8 244.4h0M360.9 242.4h0M361.1 239.5h0M361.4 236.0h0M361.5 234.5h0M361.8 232.5h0M362.0 229.8h0M362.4 227.4h0M362.6 225.3h0M362.7 222.7h0M363.1 220.0h0M363.5 217.2h0M363.8 214.2h0M364.4 212.7h0M364.6 209.7h0M364.7 213.1h0M364.9 211.1h0M365.0 208.9h0M365.8 206.4h0M366.4 209.3h0M366.6 205.3h0M367.3 203.2h0M367.5 205.6h0M367.6 203.5h0M367.9 202.0h0M368.7 203.3h0M369.0 199.8h0M369.5 198.1h0M370.1 196.2h0M371.0 194.8h0M371.3 196.9h0M371.4 195.0h0M371.8 196.6h0M372.8 198.1h0M373.1 196.4h0M373.4 198.8h0M373.6 197.0h0M374.8 196.0h0M375.6 194.1h0M375.7 195.9h0M376.2 194.2h0M377.4 192.9h0M377.7 194.9h0M377.9 192.0h0M378.2 194.2h0M378.6 192.6h0M378.9 194.3h0M379.1 196.6h0M379.2 194.6h0M380.1 196.4h0M380.3 194.8h0M380.5 197.8h0M380.9 196.3h0M381.4 198.3h0M382.4 195.9h0M383.0 192.7h0M383.2 196.5h0M383.4 194.3h0M384.4 192.3h0M384.6 194.4h0M384.7 191.4h0M384.9 193.5h0M385.2 191.6h0M385.3 193.5h0M385.6 191.2h0M385.8 193.5h0M386.3 191.6h0M386.4 194.0h0M387.5 192.8h0M387.9 194.2h0M388.1 196.0h0M388.4 193.9h0M389.8 192.9h0M389.9 194.4h0M390.1 191.2h0M391.3 189.0h0M391.6 191.9h0M391.7 189.5h0M392.8 190.7h0M393.4 188.8h0M393.7 190.7h0M393.9 189.1h0M394.0 191.3h0M394.2 189.6h0M394.6 192.3h0M394.8 188.8h0M396.3 188.4h0M397.5 187.5h0M397.7 190.4h0M398.2 187.5h0M398.5 189.9h0M399.2 187.8h0M399.4 192.8h0M399.5 190.0h0M401.1 189.3h0M401.7 187.5h0M402.1 189.1h0M402.9 190.6h0M403.2 189.0h0M403.5 187.2h0M404.0 189.1h0M404.3 186.9h0M405.0 188.2h0M405.2 185.5h0M405.3 187.9h0M405.6 185.9h0M405.9 188.8h0M406.1 186.2h0M406.2 187.8h0M407.2 190.1h0M407.3 186.0h0M407.5 189.0h0M407.8 187.0h0M407.9 189.3h0M408.5 187.2h0M409.3 185.5h0M410.2 184.2h0M410.5 186.4h0M410.8 183.9h0M411.1 186.8h0M412.0 184.9h0M412.3 187.1h0M413.3 185.5h0M414.2 187.7h0M414.9 185.6h0M415.4 187.1h0M415.9 184.7h0M416.0 187.2h0M416.2 184.8h0M417.2 183.7h0M417.5 185.2h0M417.7 183.5h0M418.0 181.9h0M418.5 184.0h0M419.2 185.3h0M420.1 187.2h0M420.3 183.4h0M420.4 185.3h0M421.2 187.2h0M421.4 184.5h0M421.8 186.2h0M422.3 188.2h0M422.4 186.5h0M422.7 189.4h0M423.0 185.6h0M423.2 187.7h0M423.9 186.1h0M424.7 183.5h0M425.0 185.7h0M425.2 182.8h0M425.5 184.3h0M426.1 182.5h0M426.5 185.2h0M426.7 183.3h0M427.0 181.9h0M427.2 184.1h0M427.3 181.9h0M427.6 184.6h0M428.2 183.1h0M428.4 184.8h0M429.0 186.2h0M429.3 184.2h0M430.2 182.8h0M431.0 181.3h0M431.3 183.3h0M431.4 180.7h0M431.6 182.7h0M431.7 180.6h0M433.0 179.6h0M433.7 181.1h0M434.5 179.3h0M434.6 180.9h0M434.8 182.7h0M435.1 181.1h0M436.0 183.3h0M436.2 178.8h0M436.5 182.2h0M437.4 180.9h0M437.5 179.2h0M437.8 181.3h0M438.1 179.8h0M438.3 181.6h0M438.6 179.5h0M439.5 181.7h0M439.7 177.4h0M440.0 179.0h0M440.9 180.4h0M441.0 178.9h0M442.6 178.2h0M442.9 176.6h0M443.8 178.5h0M444.1 176.5h0M445.2 177.8h0M446.1 175.9h0M446.2 178.2h0M447.6 178.9h0M448.2 177.4h0M448.8 178.8h0M449.7 180.2h0M449.9 176.9h0M450.0 178.4h0M450.4 176.8h0M450.5 178.4h0M451.3 175.7h0M451.6 178.5h0M451.9 176.0h0M453.1 174.3h0M453.4 177.8h0M453.6 175.1h0M455.1 175.6h0M455.4 173.9h0M455.7 172.3h0M455.8 174.3h0M456.2 172.5h0M456.3 174.5h0M457.1 172.7h0M457.5 174.7h0M457.7 176.3h0M458.3 173.6h0M458.4 175.9h0M459.8 175.0h0M460.0 176.7h0M460.1 175.0h0M461.0 173.4h0M461.3 171.9h0M462.6 173.9h0M462.9 170.6h0M463.0 173.5h0M463.2 170.5h0M463.5 172.4h0M464.4 173.6h0M464.7 171.8h0M465.8 172.9h0M465.9 170.9h0M466.1 167.9h0M466.4 170.1h0M467.3 168.5h0M468.5 170.7h0M469.0 168.8h0M469.6 170.2h0M470.5 166.8h0M470.7 170.7h0M472.0 169.9h0M473.5 169.0h0M474.5 170.9h0M474.6 167.3h0M475.4 166.0h0M476.0 163.8h0M476.8 165.3h0M477.1 163.8h0M478.3 164.9h0M479.2 167.6h0M480.1 169.2h0M480.3 166.3h0M480.9 168.2h0M481.0 166.3h0M481.3 164.4h0M481.5 166.9h0M481.6 165.0h0M482.4 166.3h0M482.6 164.1h0M483.3 165.6h0M483.6 163.8h0M485.0 164.6h0M485.1 162.5h0M485.3 164.8h0M485.8 162.7h0M485.9 166.5h0M486.1 164.5h0M486.2 162.8h0M486.4 165.4h0M486.7 163.4h0M486.8 165.0h0M487.1 162.4h0M487.6 164.5h0M487.7 162.3h0M487.9 164.0h0M488.2 161.7h0M488.4 163.7h0M488.5 161.5h0M489.1 163.6h0M489.3 161.7h0M489.6 164.8h0M489.9 162.9h0M490.2 165.9h0M490.3 163.0h0M490.5 165.2h0M491.3 163.3h0M491.6 165.3h0M491.7 163.6h0M492.2 161.7h0M492.5 164.4h0M492.9 162.3h0M493.8 160.9h0M494.5 164.8h0M494.6 161.7h0M494.9 164.1h0M495.1 161.5h0M495.4 163.3h0M496.0 161.6h0M496.4 163.3h0M497.2 160.3h0M497.4 162.7h0M498.6 163.8h0M498.9 162.1h0M499.2 164.1h0M499.3 162.0h0M499.5 163.6h0M499.6 161.8h0M499.8 165.2h0M500.3 163.5h0M500.7 165.7h0M501.0 163.6h0M501.2 165.6h0M501.5 162.8h0M501.9 164.7h0M502.1 162.5h0M502.2 164.5h0M502.5 160.3h0M502.9 164.7h0M503.0 161.0h0M503.6 159.6h0M504.2 161.1h0M504.4 159.2h0M504.7 161.3h0M505.0 158.9h0M505.3 163.5h0M505.4 160.9h0M506.4 162.9h0M506.5 160.3h0M506.8 162.4h0M507.0 160.7h0M508.0 158.7h0M508.2 160.7h0M508.5 158.8h0M508.8 157.3h0M509.0 160.5h0M509.3 157.4h0M509.6 156.0h0M509.9 159.9h0M510.3 157.7h0M510.8 159.3h0M511.4 157.6h0M512.3 159.8h0M512.6 156.8h0M513.1 159.0h0M513.8 157.6h0M515.1 159.4h0M515.2 157.9h0M515.8 155.8h0M516.1 157.6h0M516.3 156.0h0M516.4 158.0h0M516.6 156.4h0M516.7 154.7h0M516.9 156.6h0M517.5 154.6h0M518.6 155.9h0M518.7 152.9h0M518.9 155.3h0M519.2 153.2h0M519.3 155.1h0M519.8 153.1h0M519.9 155.4h0M520.4 157.4h0M520.6 154.5h0M521.2 156.3h0M521.5 154.8h0M521.9 157.2h0M522.1 155.3h0M523.2 156.5h0M523.3 154.8h0M524.4 156.3h0M524.5 154.0h0M524.7 151.9h0M525.1 153.8h0M525.6 151.1h0M526.2 152.5h0M526.4 154.2h0M526.5 151.4h0M526.8 154.2h0M527.1 152.6h0M527.4 154.6h0M528.2 152.3h0M528.3 156.5h0M528.5 154.6h0M530.0 153.3h0M530.2 154.9h0M530.6 153.5h0M531.1 155.0h0M532.3 153.3h0M532.6 155.0h0M532.8 156.5h0M534.0 158.1h0M534.1 170.5h0M534.3 191.3h0M534.4 224.2h0M534.6 265.8h0M534.8 307.1h0M534.9 339.9h0M535.1 363.9h0M535.2 379.7h0M535.4 393.7h0M535.5 407.3h0M535.7 414.5h0M535.8 418.1h0M536.0 421.1h0M536.1 423.2h0M536.4 425.3h0M536.6 427.0h0M537.0 428.6h0M537.3 431.7h0M537.7 435.6h0M537.8 433.4h0M538.0 436.3h0M538.3 438.8h0M538.6 436.7h0M538.7 440.6h0M539.0 442.2h0M539.5 443.8h0M539.9 445.8h0M540.7 448.6h0M541.3 450.4h0M542.2 452.3h0M542.5 450.7h0M542.7 452.3h0M543.4 450.7h0M543.6 452.8h0M544.1 449.4h0M544.2 452.0h0M544.8 450.2h0M545.1 448.6h0M545.7 450.0h0M545.9 448.1h0M546.7 446.2h0M546.8 449.2h0M547.0 447.5h0M547.7 445.9h0M547.9 448.5h0M548.5 450.1h0M548.8 448.3h0M549.4 449.9h0M549.7 447.6h0M550.5 449.0h0M551.2 447.6h0M551.4 449.7h0M551.7 446.8h0M552.0 448.3h0M552.5 446.1h0M552.8 449.2h0M552.9 444.9h0M553.1 447.9h0M553.2 445.0h0M554.4 442.2h0M554.9 443.7h0M555.5 440.0h0M555.7 443.1h0M556.4 441.3h0M557.5 442.8h0M557.9 441.4h0M559.0 442.6h0M559.5 440.7h0M559.6 439.1h0M559.8 440.9h0M560.1 438.6h0M560.7 440.7h0M561.0 438.4h0M561.2 440.1h0M561.8 438.6h0M562.1 436.7h0M562.2 439.3h0M562.8 437.1h0M563.0 439.2h0M563.1 437.3h0M563.6 439.8h0M564.1 436.4h0M564.2 438.2h0M564.7 436.1h0M564.8 438.6h0M565.6 435.7h0M565.7 437.8h0M566.3 434.8h0M566.5 436.4h0M568.0 436.6h0M569.1 439.0h0M569.2 436.9h0M570.5 435.5h0M570.6 437.5h0M570.8 435.9h0M572.1 436.6h0M572.3 433.8h0M572.6 435.5h0M573.4 433.4h0M573.7 436.3h0M573.8 433.2h0M574.0 437.1h0M574.3 433.7h0M574.4 435.4h0M574.7 433.6h0M575.0 436.4h0M575.2 434.6h0M575.3 433.0h0M575.5 435.8h0M576.0 434.2h0M576.3 432.4h0M576.4 434.8h0M576.7 432.4h0M577.5 435.2h0M578.2 433.8h0M578.9 435.3h0M579.0 433.0h0M579.3 435.9h0M579.5 434.0h0M580.5 435.2h0M580.8 433.6h0M581.5 432.1h0M581.6 436.4h0M581.8 434.3h0M582.2 436.1h0M582.8 433.4h0M583.1 436.6h0M583.6 433.8h0M583.7 437.1h0M583.9 434.7h0M584.4 432.9h0M584.5 435.1h0M584.8 433.5h0M585.0 436.9h0M585.1 433.7h0M585.3 435.5h0M585.6 432.3h0M585.7 434.0h0M585.9 432.5h0M587.1 431.3h0M587.6 433.0h0M587.7 429.5h0M588.2 431.3h0M588.8 433.1h0M589.4 430.7h0M589.7 432.5h0M590.0 434.8h0M590.2 430.3h0M590.3 432.3h0M590.6 433.9h0M590.9 431.3h0M591.2 433.6h0M592.3 432.2h0M592.6 434.1h0M592.7 432.6h0M593.1 430.5h0M593.2 432.4h0M593.5 434.0h0M594.7 435.8h0M596.1 436.5h0M596.9 433.6h0M597.2 435.5h0M597.3 433.3h0M598.7 432.5h0M599.0 430.4h0M599.2 432.9h0M599.6 431.0h0M600.4 432.4h0M601.4 434.0h0M601.6 431.5h0M601.8 433.1h0M602.1 430.8h0M602.4 432.8h0M603.0 429.7h0M603.3 431.2h0M604.0 433.0h0M604.5 431.5h0M604.8 433.3h0M605.0 430.8h0M605.1 435.0h0M605.9 433.0h0M606.2 436.2h0M606.3 433.9h0M607.9 435.0h0M608.0 433.1h0M608.6 434.6h0M608.9 432.6h0M609.4 431.0h0M609.5 433.5h0M610.0 432.1h0M610.8 430.4h0M612.0 429.4h0M612.9 428.2h0M613.0 431.8h0M613.3 430.1h0M614.4 432.6h0M614.7 429.8h0M614.9 431.6h0M615.6 430.2h0M616.9 432.3h0M617.0 430.6h0M617.5 428.5h0M618.1 430.9h0M618.2 428.6h0M618.5 430.7h0M618.7 428.9h0M619.0 430.6h0M619.1 429.1h0M619.3 431.0h0M619.9 428.7h0M620.1 431.5h0M620.2 428.9h0M621.4 426.4h0M622.2 424.6h0M622.4 426.8h0M622.5 423.0h0M622.7 425.1h0M622.8 423.2h0M623.1 421.3h0M623.6 418.9h0M624.2 416.9h0M624.8 413.6h0M625.1 410.2h0M625.6 408.3h0M625.9 406.2h0M626.2 403.8h0M626.5 399.9h0M626.8 396.2h0M626.9 394.0h0M627.1 390.9h0M627.2 387.4h0M627.4 382.4h0M627.5 378.8h0M627.7 374.9h0M627.8 372.0h0M628.0 368.2h0M628.2 362.4h0M628.3 359.3h0M628.6 354.2h0M628.9 348.5h0M629.1 346.7h0M629.2 343.6h0M629.4 339.4h0M629.7 336.1h0M629.8 332.9h0M630.0 327.9h0M630.3 325.5h0M630.4 323.7h0M630.6 319.8h0M630.7 316.0h0M631.2 311.4h0M631.5 307.9h0M631.8 303.3h0M632.1 301.7h0M632.3 298.4h0M632.4 301.3h0M632.6 297.6h0M632.7 294.7h0M633.0 292.5h0M633.5 289.9h0M633.8 287.7h0M634.3 286.1h0M634.4 283.7h0M634.9 279.9h0M635.3 278.1h0M635.8 276.3h0M636.4 274.4h0M636.7 272.5h0M636.9 274.0h0M637.0 272.5h0M637.3 269.0h0M637.5 271.6h0M638.5 269.3h0M639.8 267.5h0M640.5 268.9h0M640.8 266.7h0M641.3 268.3h0M641.7 265.4h0M642.0 267.3h0M642.3 265.5h0M643.0 264.0h0M643.1 262.3h0M643.7 260.4h0M643.9 262.5h0M644.2 260.0h0M644.6 261.8h0M644.8 258.5h0M645.2 261.2h0M645.4 258.4h0M645.7 260.5h0M646.0 259.0h0M647.5 259.1h0M648.3 257.7h0M649.2 255.6h0M649.4 257.6h0M650.3 255.5h0M650.6 258.0h0M651.4 259.5h0M651.5 256.9h0M652.0 259.4h0M652.9 257.4h0M653.5 255.9h0M653.6 257.7h0M654.1 256.1h0M654.6 258.0h0M654.7 255.8h0M655.5 254.0h0M655.8 255.8h0M656.1 254.0h0M656.2 257.3h0M656.5 255.1h0M656.7 256.7h0M657.2 254.4h0M657.3 256.4h0M657.6 254.7h0M657.8 256.5h0M657.9 254.8h0M658.1 256.5h0M658.4 254.8h0M658.5 257.2h0M658.8 255.6h0M659.0 254.0h0M660.2 255.2h0M661.6 256.6h0M662.5 258.5h0M662.8 256.4h0M663.3 259.7h0M663.4 256.8h0M663.7 258.4h0M664.5 255.8h0M665.1 254.3h0M665.5 252.9h0M666.2 251.3h0M666.3 254.0h0M666.5 251.7h0M666.6 249.6h0M668.1 250.0h0M668.3 248.0h0M668.6 250.2h0M669.1 248.7h0M669.2 250.7h0M669.5 249.2h0M670.1 250.9h0M670.7 249.4h0M672.1 250.3h0M672.4 247.8h0M672.6 249.4h0M673.3 252.0h0M673.5 250.4h0M674.9 251.8h0M675.2 249.2h0M675.3 251.2h0M675.5 249.3h0M676.4 247.9h0M676.8 249.4h0M678.4 249.8h0M678.5 248.1h0M678.8 246.5h0M680.3 245.5h0M680.7 247.3h0M681.0 245.4h0M681.9 248.2h0M682.0 245.4h0M682.2 247.8h0M682.5 245.9h0M683.1 247.3h0M683.2 245.3h0M683.4 248.2h0M683.7 246.5h0M684.0 249.1h0M684.2 245.8h0M684.3 247.7h0M684.6 246.1h0M684.8 248.4h0M684.9 245.6h0M685.5 247.8h0M685.7 245.0h0M685.8 247.9h0M686.0 246.0h0M686.5 244.3h0M687.1 246.0h0M687.2 242.9h0M688.1 245.0h0M688.3 243.1h0M688.7 245.1h0M688.9 242.7h0M689.4 244.2h0M690.1 245.6h0M690.4 244.1h0M690.9 242.0h0M691.3 243.8h0M691.5 241.6h0M691.6 244.0h0M691.8 242.3h0M691.9 240.4h0M692.1 242.5h0M692.4 241.0h0M693.2 242.3h0M693.3 240.1h0M693.6 243.4h0M693.8 240.1h0M693.9 241.9h0M694.1 240.3h0M694.4 242.2h0M694.7 239.2h0M695.9 237.7h0M696.4 236.2h0M697.0 238.5h0M697.1 235.1h0M697.3 237.7h0M697.4 235.3h0M697.7 237.4h0M699.1 238.6h0M699.3 233.9h0M699.4 237.5h0M699.7 235.6h0M699.9 237.6h0M700.6 239.0h0M700.8 236.2h0M701.4 237.8h0M701.9 234.2h0M702.0 236.3h0M703.5 236.3h0M704.8 237.5h0M704.9 235.1h0M706.0 233.8h0M706.3 236.4h0M706.4 234.4h0M707.5 236.2h0M708.1 234.1h0M708.4 236.0h0M708.6 238.6h0M708.7 236.1h0M709.3 234.0h0M710.7 231.8h0M711.0 233.8h0M711.9 231.7h0M713.2 230.6h0M714.1 232.3h0M714.4 229.3h0M714.7 232.0h0M715.0 228.8h0M715.3 230.6h0M715.8 229.1h0M716.2 230.6h0M717.1 228.8h0M717.9 231.1h0M718.0 229.1h0M718.5 227.5h0M719.4 225.3h0M719.6 227.4h0M720.3 225.5h0M720.8 226.9h0M721.1 225.4h0M721.3 227.8h0M721.6 225.9h0M721.9 228.5h0M722.2 226.9h0M722.3 224.5h0M722.5 227.8h0M722.8 225.4h0M722.9 223.6h0M723.1 227.5h0M723.2 225.4h0M723.7 227.1h0M724.3 225.5h0M725.1 223.8h0M725.5 225.9h0M725.7 223.7h0M725.8 227.1h0M726.0 225.3h0M726.3 223.8h0M726.6 226.5h0M726.7 224.8h0M726.9 223.0h0M727.1 225.3h0M727.4 223.6h0M727.7 225.2h0M727.8 221.0h0M728.0 224.3h0M728.1 222.2h0M729.0 220.2h0M729.8 218.7h0M730.1 220.4h0M730.3 217.6h0M731.3 221.3h0M731.6 219.2h0M732.1 221.5h0M732.2 219.8h0M733.6 221.1h0M733.9 218.6h0M734.1 220.8h0M734.8 222.7h0M735.0 218.9h0M735.1 222.1h0M735.3 220.5h0M735.6 222.6h0M736.5 224.3h0M736.7 220.5h0M736.8 223.3h0M737.0 220.2h0M737.1 223.4h0M738.2 221.3h0M738.5 219.7h0M738.7 221.3h0M738.8 219.6h0M739.3 217.9h0M739.9 215.9h0M740.9 217.3h0M741.2 215.4h0M741.7 218.0h0M741.9 216.1h0M742.3 219.5h0M742.5 215.4h0M743.1 218.4h0M743.2 216.5h0M744.3 213.9h0M744.5 218.0h0M745.1 215.0h0M745.2 217.9h0M745.4 215.9h0M746.3 214.4h0M746.4 216.9h0M746.6 215.4h0M746.7 217.3h0M746.9 215.7h0M747.4 213.0h0M747.5 214.5h0M748.0 216.3h0M748.1 212.9h0M749.0 214.1h0M749.2 212.5h0M749.5 209.6h0M749.9 211.9h0M750.1 210.3h0M750.9 211.8h0M751.5 209.8h0M751.9 207.8h0M752.1 211.1h0M752.4 208.3h0M752.5 210.3h0M752.7 212.9h0M752.8 209.5h0M753.5 211.9h0M753.6 209.9h0M755.1 210.3h0M755.6 211.9h0M756.0 208.5h0M756.8 210.3h0M757.0 207.3h0M757.6 205.7h0M757.7 209.9h0M757.9 207.7h0M758.8 209.2h0M759.6 207.5h0M759.7 211.5h0M759.9 207.7h0M760.0 210.5h0M760.2 208.3h0M760.8 210.0h0M761.5 207.4h0M762.6 209.7h0M762.9 207.6h0M764.1 209.9h0M764.3 205.2h0M764.4 207.7h0M765.2 205.6h0M765.7 207.1h0M766.3 204.3h0M767.2 202.3h0M767.8 200.1h0M768.0 202.4h0M768.4 200.5h0M768.6 202.7h0M768.9 200.6h0M769.2 203.4h0M769.3 201.9h0M769.5 204.2h0M769.6 201.1h0M769.8 203.9h0M770.1 201.8h0M770.4 203.7h0M770.5 201.5h0M770.7 204.0h0M771.0 200.4h0M771.2 203.1h0M771.6 200.0h0M771.8 203.5h0M772.2 201.6h0M772.7 203.8h0M772.8 201.4h0M773.3 203.7h0M773.4 202.0h0M773.8 205.3h0M773.9 202.8h0M774.4 201.2h0M775.1 199.1h0M775.3 201.9h0M775.7 199.8h0M776.5 198.1h0M776.7 199.7h0M777.0 197.1h0M777.1 198.6h0M777.6 200.4h0M777.7 198.6h0M778.9 195.2h0M779.1 197.2h0M780.3 195.2h0M780.6 197.7h0M780.8 194.1h0M780.9 196.2h0M781.4 194.7h0M781.8 192.8h0M782.3 190.8h0M782.5 194.8h0M782.6 193.2h0M784.1 193.8h0M784.6 196.4h0M784.9 194.5h0M785.4 196.5h0M785.8 193.9h0M786.0 196.1h0M786.1 194.0h0M786.3 196.6h0M786.4 194.9h0M786.9 192.2h0M787.0 193.9h0M787.8 191.5h0M787.9 193.3h0M789.3 194.1h0M789.5 192.0h0M790.1 193.9h0M790.5 195.8h0M790.7 193.1h0M791.3 191.3h0M791.6 193.1h0M792.4 191.2h0M793.1 192.9h0M793.4 190.8h0M793.6 188.5h0M793.7 190.7h0M794.7 192.2h0M795.0 190.4h0M795.3 192.0h0M796.8 191.3h0M797.6 188.1h0M797.7 189.8h0M797.9 187.7h0M798.3 189.6h0M798.6 188.0h0M798.8 186.3h0M800.2 184.2h0M800.3 185.8h0M801.4 184.5h0M801.5 187.1h0M802.4 185.6h0M803.7 184.6h0M804.1 180.4h0M804.3 184.0h0M805.2 181.5h0M805.3 184.8h0M805.5 181.9h0M806.9 180.3h0M807.3 182.3h0M807.9 178.8h0M808.1 180.5h0M809.0 183.9h0M809.2 180.8h0M809.9 182.1h0M810.2 184.0h0M810.4 182.1h0M810.7 184.1h0M811.3 181.0h0M811.6 182.7h0M811.9 184.6h0M812.2 182.2h0M813.3 184.1h0M813.4 182.1h0M814.0 180.0h0M814.4 181.5h0M814.7 179.8h0M815.4 177.5h0M816.2 175.5h0M816.5 177.4h0M817.3 173.4h0M817.6 177.5h0M818.8 179.1h0M818.9 177.6h0M819.1 179.7h0M819.7 181.8h0M819.8 180.0h0M820.8 178.8h0M821.5 180.2h0M822.3 176.6h0M822.9 178.3h0M823.2 175.3h0M823.4 179.1h0M823.7 177.0h0M824.1 175.4h0M824.4 176.9h0M824.6 174.4h0M824.7 176.4h0M825.5 174.7h0M826.1 172.5h0M826.7 174.6h0M827.0 172.5h0M827.2 174.0h0M828.4 176.5h0M828.5 173.0h0M829.5 175.3h0M829.8 173.0h0M830.8 174.9h0M831.1 172.5h0M831.7 174.4h0M832.1 172.8h0M832.7 170.6h0M833.0 173.4h0M833.3 171.7h0M833.4 174.0h0M834.0 172.3h0M834.6 173.8h0M834.8 171.3h0M835.4 173.9h0M835.6 170.8h0M836.0 173.1h0M836.3 171.4h0M836.6 173.0h0M837.7 174.4h0M837.9 171.3h0M839.2 169.9h0M839.7 171.8h0M839.8 170.1h0M840.6 168.6h0M840.8 171.0h0M840.9 168.9h0M841.5 171.0h0M841.7 168.2h0M841.8 169.7h0M842.4 167.6h0M842.6 169.7h0M843.2 167.7h0M844.1 170.0h0M845.0 168.3h0M845.3 170.1h0M845.9 168.7h0M846.4 166.4h0M847.0 168.8h0M847.2 165.9h0M847.5 162.8h0M847.6 166.5h0M847.9 164.6h0M848.1 166.6h0M848.5 168.2h0M849.9 169.0h0M850.1 167.2h0M850.8 165.1h0M851.1 166.6h0M851.4 164.6h0M851.6 166.1h0M852.0 163.9h0M852.4 162.4h0M852.5 165.1h0M852.8 162.1h0M853.4 164.9h0M853.6 163.0h0M854.9 164.8h0M855.1 162.8h0M855.3 164.7h0M856.3 161.7h0M856.5 163.9h0M856.6 166.1h0M856.8 163.8h0M857.2 166.9h0M857.4 164.8h0M857.5 166.5h0M858.5 165.2h0M858.9 162.4h0M859.2 164.0h0M859.7 162.0h0M860.0 160.2h0M860.3 161.9h0M860.9 159.7h0M861.8 161.1h0M862.4 158.4h0M862.7 160.0h0M863.5 157.5h0M863.6 159.6h0M864.3 158.1h0M864.7 160.4h0M865.3 158.2h0M866.4 159.5h0M866.7 156.2h0M866.9 159.5h0M867.0 161.2h0M868.5 161.5h0M869.3 159.4h0M869.4 161.9h0M869.6 157.9h0M869.8 160.0h0M870.5 158.5h0M870.8 156.0h0M871.0 158.1h0M871.4 159.5h0M872.0 158.0h0M872.2 159.9h0M873.7 160.5h0M874.3 158.3h0M874.5 160.5h0M874.6 157.6h0M874.9 159.8h0M875.4 157.6h0M875.6 159.2h0M876.0 157.3h0M876.3 160.3h0M876.6 158.4h0M877.7 160.6h0M877.8 158.5h0M878.9 156.2h0M879.1 158.0h0M879.5 156.6h0M880.6 159.1h0M880.7 157.5h0M881.4 155.1h0M881.5 156.8h0M881.8 155.1h0M882.3 156.8h0M883.3 155.5h0M883.6 157.9h0M884.1 155.8h0M884.4 157.6h0M885.8 159.8h0M885.9 157.7h0M886.7 155.9h0M887.9 154.6h0M888.5 152.6h0M888.7 156.0h0M888.8 152.5h0M889.1 154.1h0M889.9 156.1h0M890.0 154.2h0M890.7 155.9h0M891.0 153.1h0M891.1 155.2h0M891.6 153.6h0M892.2 151.4h0M892.3 154.4h0M892.6 152.2h0M892.8 154.6h0M892.9 152.3h0M893.1 154.5h0M893.6 152.9h0M893.7 154.4h0M894.5 156.3h0M895.1 154.8h0M895.7 156.7h0M896.9 155.5h0M897.2 157.3h0M897.7 154.3h0M898.0 156.8h0M898.4 154.4h0" fill="none" stroke="#000" stroke-width="18.6" stroke-linecap="round"/>
<polyline points="157.6,236.7 157.8,240.6 157.9,235.5 158.1,238.8 159.6,239.9 160.2,238.1 160.8,239.6 161.0,237.0 161.7,239.1 162.5,237.1 162.8,238.6 163.0,236.7 163.3,239.0 163.4,237.5 164.2,238.9 164.3,235.6 165.4,236.9 165.7,235.3 166.0,236.9 166.3,233.9 166.5,235.5 166.6,237.8 166.8,235.8 167.9,237.2 168.8,235.5 170.3,236.7 170.4,235.1 170.8,236.6 171.7,235.2 172.1,238.3 172.3,236.6 173.0,237.9 174.0,236.0 174.9,237.2 175.3,235.5 175.5,237.0 175.6,235.4 176.4,236.7 177.8,237.4 178.5,235.9 179.1,238.9 179.3,234.7 179.5,236.6 180.5,238.0 180.8,236.3 181.1,238.5 181.3,236.7 182.2,238.3 182.7,235.7 183.1,237.5 183.7,240.4 183.9,236.3 184.0,238.9 184.3,237.2 184.8,240.0 185.3,237.0 185.4,250.7 185.6,264.7 185.7,282.1 185.9,298.1 186.0,317.5 186.2,334.9 186.3,351.4 186.5,367.5 186.6,381.5 186.8,394.4 186.9,404.1 187.1,415.5 187.2,421.3 187.4,428.3 187.8,433.9 189.1,434.8 189.5,437.2 190.1,439.5 190.3,437.6 190.4,435.9 190.6,438.0 190.7,436.3 190.9,438.7 191.2,440.7 192.3,442.9 192.4,440.7 192.6,442.2 192.7,444.7 192.9,442.1 193.0,444.7 193.2,441.7 193.5,444.8 194.4,443.2 194.7,445.5 195.2,443.9 195.3,446.3 196.1,444.7 196.2,446.4 196.7,448.1 197.3,446.2 197.5,447.8 197.6,445.9 198.2,443.7 198.7,442.2 198.8,439.5 199.0,436.1 199.1,433.4 199.3,430.4 199.4,425.5 199.6,419.9 199.7,416.5 199.9,409.6 200.1,401.2 200.2,392.4 200.4,384.9 200.5,375.6 200.7,365.3 200.8,355.6 201.0,343.6 201.1,336.4 201.3,326.8 201.4,319.0 201.6,308.9 201.7,302.1 201.9,295.2 202.0,287.3 202.2,285.5 202.3,277.5 202.5,273.3 202.6,268.7 202.8,265.1 203.0,262.5 203.1,258.1 203.4,255.1 203.6,253.5 203.9,250.5 204.3,247.7 204.6,244.4 204.8,246.7 205.1,242.6 205.4,239.6 205.5,241.5 205.7,239.8 206.0,237.7 206.5,235.6 207.2,231.5 207.4,233.0 208.0,228.7 208.1,232.7 208.3,229.9 208.4,232.0 209.2,233.9 209.4,230.5 209.7,232.3 210.0,234.0 210.3,231.6 210.9,233.2 211.5,231.2 212.4,232.5 212.6,230.2 213.3,228.0 214.6,229.3 214.7,227.7 215.2,230.9 215.3,228.7 215.9,230.7 216.2,228.6 216.4,230.5 216.7,232.1 217.6,230.7 218.2,232.3 218.5,230.1 218.7,227.7 219.1,229.5 219.9,227.1 220.2,229.2 221.4,230.4 221.9,232.7 222.3,230.7 222.5,233.0 222.6,231.2 223.1,232.9 223.6,235.8 223.9,232.6 224.8,234.7 225.1,233.0 225.5,230.8 226.3,229.2 226.5,230.9 227.1,228.8 227.2,230.5 228.0,232.2 228.6,230.2 229.2,232.0 230.6,231.3 231.6,234.8 231.8,233.2 232.3,230.6 232.4,233.7 232.9,232.2 233.3,233.9 233.8,231.8 234.1,230.1 234.2,232.6 234.4,230.8 234.5,233.2 234.9,231.7 235.0,229.7 235.2,232.1 236.7,232.8 237.6,234.1 239.1,234.2 239.9,233.0 240.2,235.5 240.3,233.5 241.1,247.5 241.3,269.9 241.4,297.0 241.6,319.6 241.7,345.8 241.9,368.6 242.0,384.7 242.2,401.4 242.3,415.8 242.5,426.7 242.6,431.8 242.8,435.0 242.9,437.1 243.1,438.8 243.2,437.1 243.4,438.7 243.9,442.4 244.0,440.8 244.2,442.5 244.9,444.2 246.1,446.8 246.3,445.1 246.9,446.7 248.4,446.6 249.5,448.1 250.3,450.1 250.4,447.9 251.2,449.3 252.1,450.7 252.7,448.1 253.2,449.8 253.5,451.3 253.6,449.4 253.8,447.3 254.1,450.2 255.0,447.3 255.2,449.9 256.1,448.0 256.4,449.5 256.7,447.4 256.8,449.3 257.0,447.5 257.4,445.2 257.7,442.4 258.1,440.3 258.4,437.4 258.7,432.7 258.8,430.8 259.1,428.4 259.3,425.1 259.4,423.4 259.6,419.8 259.7,417.4 259.9,413.1 260.0,411.3 260.2,406.7 260.3,404.3 260.5,400.1 260.6,397.1 260.8,393.6 261.0,390.0 261.1,387.2 261.3,383.8 261.4,378.5 261.6,372.7 261.7,369.5 261.9,363.8 262.0,361.2 262.2,354.9 262.3,349.7 262.5,345.6 262.6,340.4 262.8,337.2 262.9,332.8 263.1,327.2 263.2,325.3 263.4,320.4 263.5,318.1 263.7,311.9 264.0,307.4 264.2,304.6 264.5,298.9 264.8,293.1 265.2,288.9 265.4,284.8 265.7,282.7 265.8,280.3 266.0,278.1 266.3,274.8 266.6,272.9 266.7,270.3 267.1,267.3 267.2,265.2 267.5,262.8 268.0,257.6 268.3,255.6 269.0,252.4 269.3,250.6 269.8,248.3 270.1,246.3 270.9,242.7 271.3,240.9 272.4,239.3 273.0,237.2 273.3,238.9 273.8,237.1 274.1,239.6 274.5,237.1 275.9,238.3 277.0,236.8 277.3,238.8 277.7,236.7 278.8,234.2 279.3,235.9 279.7,234.2 279.9,236.0 280.0,232.0 280.2,235.1 280.5,233.0 280.8,235.4 280.9,231.0 281.1,233.2 282.3,231.9 282.6,233.9 283.2,230.1 283.4,234.9 284.3,232.9 285.7,233.6 286.6,232.2 286.7,230.6 287.0,232.4 287.8,231.0 288.0,233.2 288.6,231.7 289.2,234.1 289.5,231.5 289.6,234.4 290.3,232.1 290.4,235.8 290.7,233.9 291.6,231.6 292.5,229.9 293.2,232.5 293.6,230.6 293.9,235.3 294.1,231.4 295.1,232.5 296.7,232.6 297.3,230.5 297.4,234.3 297.6,232.1 298.0,235.5 298.5,233.4 298.8,235.2 300.0,233.3 300.6,234.9 301.1,232.6 301.4,235.5 301.5,232.7 302.0,234.6 302.3,233.0 303.2,230.9 303.8,232.9 305.1,234.8 305.4,232.8 305.7,235.7 305.8,258.6 306.0,285.0 306.1,308.2 306.3,332.7 306.4,349.6 306.6,363.9 306.7,380.7 306.9,398.8 307.0,408.9 307.2,418.7 307.3,428.4 307.5,434.3 307.7,436.1 308.1,438.9 308.6,436.8 308.7,441.7 309.2,439.8 309.3,442.4 309.8,445.5 310.9,446.6 311.5,449.0 311.8,447.0 311.9,449.3 312.1,447.3 312.7,445.7 313.0,447.6 313.1,445.4 314.1,446.7 315.0,447.9 316.4,449.2 317.6,451.3 317.7,448.5 317.9,450.7 318.0,448.6 318.2,450.6 318.5,448.5 318.6,451.0 318.8,448.2 319.6,449.7 320.2,448.2 320.9,445.9 321.1,447.6 321.5,450.4 321.7,444.7 321.8,446.3 322.2,448.8 322.5,446.8 322.8,448.4 323.2,447.0 323.8,448.6 324.9,450.7 325.2,446.9 325.4,450.0 325.7,451.5 326.0,447.8 326.4,450.8 326.6,449.2 327.0,450.8 327.2,448.3 327.5,450.7 328.3,448.4 328.4,451.1 328.6,449.6 329.2,447.9 329.5,449.5 329.8,446.9 330.9,448.4 331.0,446.8 331.2,448.3 331.3,445.9 331.6,448.2 332.2,445.9 332.4,448.9 332.5,446.6 333.1,448.5 333.3,444.7 333.7,446.7 334.1,448.3 335.1,449.5 335.9,447.6 336.0,450.7 337.6,451.9 337.9,448.5 338.2,450.5 338.3,448.9 339.1,447.6 340.0,449.5 340.2,446.4 340.3,448.1 340.5,446.5 340.9,448.2 341.1,446.1 341.7,444.2 341.8,447.6 342.0,446.0 342.4,448.0 342.8,450.9 342.9,449.1 343.4,447.3 343.5,450.0 344.1,447.5 344.3,449.7 344.6,447.9 344.7,449.8 344.9,448.0 345.0,450.5 345.2,446.7 345.3,448.6 346.9,448.2 347.5,449.6 347.6,447.8 347.9,451.2 348.1,447.0 348.4,449.7 349.0,447.2 349.2,449.2 349.3,446.3 349.9,449.0 350.1,446.6 350.5,444.4 350.7,442.9 351.1,439.7 351.3,437.1 351.5,435.3 351.6,429.8 351.8,427.8 351.9,419.6 352.1,417.9 352.2,413.2 352.4,411.2 352.5,408.2 352.7,402.6 352.8,400.3 353.0,396.5 353.1,391.3 353.4,387.0 353.6,383.4 353.7,380.2 353.9,376.4 354.0,372.1 354.2,370.1 354.4,365.8 354.7,360.8 355.0,357.0 355.3,354.1 355.4,350.7 355.7,345.1 356.2,342.8 356.3,340.6 356.5,339.0 356.6,335.7 357.3,332.8 357.4,330.5 357.6,328.9 358.0,324.2 358.3,321.8 358.6,318.8 358.8,315.7 358.9,313.9 359.5,310.5 359.7,307.5 360.0,304.4 360.5,302.1 360.8,299.1 361.1,297.2 361.4,294.6 361.7,293.1 361.8,290.5 362.3,287.5 362.4,285.8 362.9,283.3 363.2,280.0 363.7,277.4 364.3,275.7 364.7,272.9 365.2,270.8 365.8,269.2 366.1,267.0 367.0,263.7 368.5,262.6 369.3,261.1 370.2,259.3 370.4,261.7 371.0,260.1 371.3,258.4 371.8,260.6 372.2,258.6 373.4,257.2 374.2,254.8 374.3,256.5 375.3,254.9 376.2,256.7 376.3,255.1 377.7,253.1 378.0,254.7 378.6,253.2 379.1,251.8 379.5,254.3 379.7,252.7 379.8,254.9 380.1,252.8 380.6,254.7 380.9,252.7 381.1,254.3 382.0,256.6 382.1,254.9 382.6,252.0 382.7,255.3 383.0,257.0 383.2,254.9 383.5,257.9 383.7,255.8 384.3,253.8 384.4,256.1 385.5,255.0 385.9,253.2 386.1,255.6 386.3,254.1 386.4,257.6 386.6,255.2 386.7,253.5 387.0,255.5 387.3,253.9 388.7,254.6 388.8,252.1 389.9,253.6 390.4,251.9 390.5,253.5 391.0,254.9 391.1,253.0 391.3,254.5 391.6,252.7 392.5,255.4 392.7,252.2 393.4,250.4 394.0,248.6 394.6,250.2 395.0,248.6 396.0,250.4 396.2,247.8 397.1,249.3 397.7,250.9 397.9,248.9 398.6,250.7 399.2,252.1 399.5,249.4 400.8,251.2 401.5,248.9 402.9,247.7 404.1,248.6 404.9,246.0 405.2,247.9 405.6,245.3 405.8,247.5 405.9,244.7 406.1,247.2 406.2,245.1 406.4,243.0 406.5,245.4 407.0,243.6 407.2,245.1 408.1,243.9 408.4,246.5 409.4,250.0 409.6,248.4 411.0,246.5 411.1,249.4 411.3,246.6 411.6,248.1 412.0,246.3 412.3,243.3 412.5,245.5 413.0,247.0 413.3,245.3 413.7,246.9 414.0,244.1 414.2,246.0 414.3,248.6 414.5,245.0 415.1,247.9 415.4,244.0 416.9,244.1 417.1,246.0 417.2,243.9 417.8,245.7 418.0,242.9 418.3,244.4 419.4,246.5 419.8,244.0 420.6,246.4 420.7,244.7 421.2,246.7 421.7,243.7 422.6,244.9 423.0,242.9 423.2,244.7 423.3,246.2 423.5,244.4 424.7,242.4 425.2,244.4 426.2,243.3 427.5,245.5 427.6,243.8 427.9,242.1 428.1,245.7 428.2,243.6 429.6,245.3 430.1,243.3 431.1,241.7 431.6,243.4 432.5,242.0 433.6,244.1 434.0,242.2 434.2,243.7 435.5,243.0 436.2,244.5 436.3,241.3 436.8,243.0 437.4,241.0 438.1,239.4 438.3,241.6 439.1,243.2 439.8,244.5 440.3,242.9 440.7,244.6 440.9,243.1 441.8,240.7 442.0,242.4 442.1,240.7 442.6,242.1 443.9,241.4 444.9,242.8 445.5,240.9 445.6,239.2 446.4,240.7 446.5,239.2 446.7,240.8 447.3,239.1 447.5,240.7 447.6,239.2 447.9,240.7 448.8,238.5 449.3,241.7 449.7,240.3 450.4,241.8 451.0,240.0 451.9,241.3 452.2,238.2 452.5,241.7 452.6,238.1 452.9,239.7 454.2,238.8 454.3,241.5 455.2,243.0 456.0,244.5 457.4,243.4 457.5,245.6 457.8,243.6 458.4,242.1 459.2,244.0 459.4,242.5 459.7,240.5 460.1,239.0 460.3,242.2 460.4,239.7 460.6,243.9 460.7,240.3 461.2,243.1 461.3,241.1 462.7,239.8 462.9,243.2 463.0,240.3 464.4,239.5 464.5,241.6 464.7,238.4 464.9,241.3 465.0,239.6 465.9,241.3 466.1,239.5 466.4,242.1 466.5,239.7 467.8,238.6 468.1,240.3 469.6,238.8 469.7,243.1 469.9,241.0 470.0,238.9 471.0,240.1 471.6,238.3 472.0,240.7 472.2,238.8 473.1,240.4 473.2,238.2 473.4,240.8 473.5,239.2 474.6,240.5 475.1,237.2 475.7,240.6 475.8,237.2 476.4,234.9 476.8,237.7 477.4,236.3 478.4,234.6 479.7,236.8 480.0,234.3 480.1,235.8 480.9,238.5 482.2,237.6 482.4,239.4 483.3,237.9 484.2,235.9 484.7,233.4 484.8,236.7 485.1,233.3 485.5,234.9 485.9,232.4 486.1,234.6 486.4,232.0 486.5,233.6 486.7,235.2 486.8,232.8 487.1,235.3 487.3,233.4 487.4,235.0 487.6,233.1 487.7,236.3 488.8,237.5 490.2,239.7 490.5,236.9 491.4,234.8 491.6,237.3 491.7,235.3 492.8,236.7 492.9,234.2 493.1,235.9 493.2,233.4 493.4,236.8 493.5,232.2 493.7,234.3 493.8,232.5 494.0,234.2 494.3,232.7 494.6,235.0 494.9,233.2 495.2,234.9 495.4,232.3 496.7,233.9 497.2,232.0 497.5,234.0 497.7,232.5 498.4,234.8 498.6,231.3 498.7,233.3 500.3,234.5 500.6,232.9 500.7,235.2 502.1,236.9 502.9,238.5 503.0,236.2 504.4,237.3 504.7,235.3 505.3,237.1 505.6,232.6 505.8,238.6 505.9,236.7 506.1,233.7 506.5,236.7 506.7,233.3 506.8,235.3 507.4,232.8 508.2,235.7 508.5,234.0 508.7,236.6 508.8,234.9 510.2,235.7 510.3,233.5 510.5,235.4 511.4,233.6 511.9,235.2 512.2,232.9 512.8,230.4 514.0,227.6 514.1,230.9 514.3,228.1 514.5,230.4 515.2,229.0 515.4,230.5 516.1,227.1 516.3,233.1 516.7,230.6 517.5,232.6 518.6,234.6 519.3,232.3 519.8,234.7 519.9,231.7 521.2,233.0 521.5,230.4 521.9,232.3 522.4,230.5 522.7,232.5 523.0,234.8 523.2,232.0 523.3,230.4 523.5,235.5 523.8,232.1 524.2,234.7 524.7,232.6 525.0,235.4 525.1,232.7 525.4,235.3 525.6,233.7 526.2,232.1 526.4,235.6 526.5,233.8 527.3,232.5 527.7,234.1 528.8,231.9 529.0,233.4 529.3,230.7 529.4,233.1 529.7,231.5 530.9,229.9 531.2,231.9 531.4,230.2 531.7,232.2 531.9,229.0 532.0,231.4 533.1,233.8 533.2,231.7 534.0,233.3 534.3,240.1 534.4,254.4 534.6,272.2 534.8,297.6 534.9,320.3 535.1,337.3 535.2,358.2 535.4,373.1 535.5,387.9 535.7,400.1 535.8,411.3 536.0,419.1 536.1,427.6 536.3,433.1 536.4,439.0 536.6,440.5 537.0,442.3 537.5,440.3 537.7,443.8 537.8,441.8 538.3,445.5 538.4,442.3 538.9,444.0 539.2,445.5 540.7,443.4 540.9,445.3 541.6,442.7 541.9,445.3 543.4,446.0 544.1,443.4 544.2,445.6 544.7,447.2 544.8,445.0 545.0,447.1 545.6,444.0 545.9,446.0 546.3,444.2 546.8,446.6 547.1,444.3 547.3,446.9 547.4,444.7 547.9,443.0 548.0,446.2 548.6,444.5 548.8,447.4 548.9,445.8 549.1,447.9 549.2,445.5 549.6,448.4 549.7,446.4 549.9,447.9 550.3,449.8 550.5,448.2 550.6,450.2 551.2,448.2 552.1,445.2 552.3,447.6 552.5,446.0 552.8,447.6 552.9,444.2 553.1,446.6 553.5,443.9 554.4,442.1 554.6,444.2 554.7,442.0 555.4,443.9 556.1,441.3 556.3,444.5 556.9,442.7 557.0,444.5 557.5,442.7 557.9,444.8 559.2,446.2 559.3,443.0 559.8,445.3 560.8,443.5 561.2,445.1 561.3,443.0 561.6,440.5 561.8,443.2 562.2,440.3 562.4,442.1 562.5,443.7 563.1,442.1 563.4,444.5 563.6,442.5 563.9,444.5 564.4,442.9 564.7,444.4 564.8,442.4 565.1,440.8 565.3,442.8 566.2,444.2 567.3,442.7 567.6,445.3 567.7,443.6 568.6,441.2 568.9,444.8 569.4,441.8 569.9,443.4 570.0,441.5 570.9,440.3 571.1,442.5 571.4,440.8 571.5,443.1 571.7,441.5 571.8,443.4 573.1,440.9 573.4,443.2 573.8,441.1 574.1,442.8 574.6,440.2 575.7,443.0 575.8,439.9 576.4,438.2 576.6,440.0 576.9,441.7 577.2,440.1 578.2,438.7 578.4,440.5 578.9,438.6 579.5,442.0 579.6,439.4 580.2,441.6 581.8,441.7 582.5,439.6 583.0,441.5 583.1,439.9 583.7,442.3 583.9,439.3 584.7,437.7 586.2,436.5 586.6,438.1 587.1,436.3 588.3,438.5 588.5,435.1 589.2,437.1 590.5,435.5 591.2,439.1 591.4,437.6 592.1,436.3 592.6,438.2 593.5,439.6 593.8,438.0 594.1,440.4 595.0,441.9 595.2,439.9 596.0,437.1 596.3,439.4 596.4,436.9 596.6,439.4 596.9,436.7 598.1,435.0 598.5,437.9 598.9,435.5 599.9,437.0 600.1,435.1 600.5,436.7 601.1,435.2 601.3,437.0 601.9,439.5 602.1,437.8 602.4,440.9 602.5,439.0 603.0,441.6 603.1,439.9 604.5,441.6 604.8,438.2 605.0,440.2 605.7,438.7 606.3,437.1 607.4,436.0 608.0,434.0 608.2,436.1 608.3,432.9 608.6,434.7 608.9,433.1 609.2,435.2 609.8,433.7 610.4,435.2 610.6,433.7 611.2,431.1 611.4,434.1 611.5,431.5 611.7,434.0 612.1,431.8 612.3,434.1 612.6,432.3 612.7,434.0 612.9,436.2 613.2,434.6 614.1,435.9 614.4,434.2 615.3,435.9 615.5,432.8 616.1,431.1 616.4,432.7 616.9,431.2 617.0,433.8 617.3,436.5 617.5,433.3 617.9,436.4 618.2,434.9 618.8,438.5 619.0,436.9 619.9,435.2 621.0,432.9 621.1,434.6 621.6,431.9 621.7,435.1 622.0,433.1 622.2,435.5 622.4,432.9 622.7,435.3 623.0,433.5 624.2,435.0 624.3,432.8 624.5,431.3 624.9,429.4 625.3,431.7 625.4,428.7 625.7,430.2 626.0,427.7 626.2,424.9 626.3,426.7 626.6,424.8 626.8,422.4 627.4,419.2 627.7,416.1 627.8,414.4 628.0,410.0 628.2,407.7 628.3,403.4 628.6,397.3 628.8,395.0 628.9,391.1 629.1,387.0 629.4,382.0 629.7,378.9 629.8,374.8 630.0,371.6 630.3,367.4 630.6,364.4 630.7,361.2 631.1,357.7 631.2,356.2 631.4,353.5 631.5,350.5 631.8,347.4 632.1,343.2 632.4,340.9 632.7,336.0 633.0,332.1 633.2,330.2 633.5,328.6 633.6,326.7 633.8,323.8 634.0,321.2 634.3,318.8 634.4,317.3 634.6,315.7 634.9,312.6 635.0,310.5 635.2,308.9 635.5,306.4 635.6,304.5 636.1,303.0 636.2,300.2 636.5,298.4 636.9,296.4 637.5,293.3 637.8,290.9 638.2,289.2 638.4,287.4 639.1,285.2 639.8,283.8 639.9,282.2 640.2,279.6 640.4,278.0 640.5,281.2 640.7,279.1 640.8,277.2 641.0,279.4 641.3,277.6 641.7,275.4 642.3,273.1 642.7,274.8 643.7,273.2 644.0,270.9 644.2,274.9 645.1,273.3 646.0,271.1 646.2,272.9 647.1,271.6 647.2,273.4 647.5,270.2 647.7,273.1 647.8,271.3 648.3,273.2 648.5,270.2 648.8,272.1 648.9,270.6 649.1,272.1 649.2,270.4 649.4,272.0 649.7,268.8 649.8,271.9 650.1,269.9 650.6,272.7 650.7,270.2 651.8,268.6 652.7,266.0 653.5,267.8 653.9,266.1 654.9,264.3 655.0,266.6 655.3,264.6 655.5,266.7 655.8,264.7 656.5,263.3 656.7,265.0 657.9,263.3 658.7,264.9 659.4,263.5 659.9,266.0 660.1,264.2 661.1,262.5 661.3,264.5 661.4,262.6 662.2,260.5 662.5,262.7 663.3,260.8 663.4,262.9 663.9,261.3 664.3,259.5 664.5,261.3 664.9,259.3 665.5,261.5 665.7,259.2 666.0,256.5 667.5,256.2 667.7,257.9 667.8,253.5 668.0,256.2 668.1,258.4 668.3,256.6 668.9,258.6 669.8,259.9 670.4,255.5 670.6,260.1 671.0,258.4 672.0,257.1 672.1,259.0 672.6,256.1 672.7,259.3 672.9,256.3 673.0,258.7 673.2,255.3 673.5,258.2 674.4,256.3 674.7,260.1 674.9,257.6 675.0,256.1 675.2,258.8 676.2,257.1 677.3,255.5 677.5,257.9 677.6,255.9 678.8,258.4 679.0,253.6 680.5,253.3 681.1,251.4 681.3,253.5 682.0,252.1 682.2,255.5 682.3,253.8 683.2,255.4 683.9,253.9 684.6,252.2 685.7,250.7 686.0,254.0 686.3,251.8 686.5,253.5 687.1,251.2 687.7,253.7 688.0,250.8 688.3,253.4 688.6,250.6 688.7,253.0 689.4,250.0 690.3,251.5 690.4,249.8 691.3,248.1 692.7,249.1 692.9,246.8 693.0,249.2 693.2,247.5 693.5,249.5 694.8,248.7 695.0,251.8 695.2,249.7 696.2,248.0 696.5,249.6 696.7,247.4 697.1,248.9 698.4,247.6 699.0,251.4 699.1,248.5 699.3,250.9 699.6,249.1 700.5,247.5 700.6,249.4 701.3,247.6 701.7,250.1 701.9,248.6 702.0,246.5 702.2,249.5 702.8,246.3 703.2,248.5 703.9,247.1 704.2,248.7 705.2,246.4 705.8,248.4 706.0,244.3 706.9,242.9 707.8,244.3 708.4,242.0 708.7,243.6 710.1,245.1 710.3,247.0 710.6,244.0 710.7,247.1 710.9,244.9 711.3,247.6 711.5,243.7 711.6,245.4 712.2,242.8 712.4,246.0 712.7,241.9 712.9,243.6 713.8,241.8 714.2,243.8 715.1,240.9 715.3,243.7 715.9,245.7 716.1,242.0 716.5,243.7 717.0,240.9 717.1,243.0 717.4,240.8 717.6,238.7 717.7,242.2 718.0,238.9 718.2,242.5 718.5,239.4 718.7,242.1 719.0,240.7 719.4,243.1 719.6,241.2 720.5,239.9 720.8,242.3 720.9,243.8 721.1,241.9 721.9,240.1 722.0,242.2 722.3,240.8 722.6,242.4 723.1,240.8 723.5,242.3 724.2,240.0 724.5,241.6 724.6,239.5 724.8,241.7 725.2,240.0 726.7,239.9 727.1,238.0 727.2,241.0 727.5,239.2 727.8,241.0 729.2,241.7 730.3,240.0 730.4,242.7 730.6,239.3 730.7,241.2 731.9,237.8 732.1,241.6 732.2,240.1 733.5,238.4 733.6,240.4 734.8,241.3 735.3,242.9 735.4,241.0 735.9,243.4 736.2,245.2 736.4,242.8 737.0,240.7 738.2,241.7 738.3,239.2 739.0,240.6 739.6,238.7 740.0,237.1 740.3,239.2 740.9,237.2 741.7,238.6 743.1,237.2 743.2,238.7 743.5,236.7 743.7,238.3 744.1,235.8 744.3,237.7 745.2,236.1 746.3,238.4 746.4,235.4 746.6,237.6 746.7,234.4 746.9,239.2 747.8,240.6 748.0,238.6 748.1,240.3 748.4,242.1 749.2,243.7 749.9,241.3 750.1,243.1 750.6,241.5 750.9,238.9 751.2,240.6 751.5,238.6 751.9,237.0 752.7,235.7 753.3,234.3 753.5,237.7 753.8,234.8 753.9,236.6 754.7,234.7 754.8,239.0 755.1,237.1 755.3,235.6 755.7,238.2 756.4,239.9 756.5,237.6 757.0,235.6 757.1,239.8 757.6,238.3 757.7,240.4 757.9,238.8 758.5,237.1 758.8,239.8 758.9,236.4 759.6,238.1 759.9,236.1 760.0,238.2 760.3,236.4 761.4,238.5 761.7,236.6 762.0,238.5 762.5,236.9 762.6,240.2 762.8,236.6 763.2,238.6 763.4,237.0 763.7,239.6 764.0,238.1 765.1,236.6 765.4,239.6 765.5,237.2 766.3,238.7 767.2,240.0 767.3,237.3 767.6,239.8 768.3,237.2 768.4,240.4 768.6,238.3 769.0,236.8 769.2,239.4 769.3,236.6 769.9,238.1 770.1,235.3 770.9,237.7 771.0,234.6 771.6,236.6 771.8,233.6 771.9,235.6 772.1,237.8 772.2,235.9 773.6,234.3 774.1,236.0 775.0,233.7 775.1,237.6 776.2,240.9 776.3,237.6 776.7,239.1 777.3,240.6 777.4,238.5 777.7,240.3 777.9,237.5 778.0,240.2 778.8,238.8 778.9,237.0 779.1,239.6 779.7,237.7 779.9,236.1 780.3,238.8 780.5,237.0 780.6,232.9 780.8,235.4 780.9,233.8 781.4,235.5 782.3,236.9 782.5,235.2 783.1,237.3 783.2,235.7 783.7,237.2 783.8,235.3 785.2,234.5 786.4,232.8 787.0,234.2 787.3,236.6 787.5,234.3 788.1,236.3 789.2,234.4 789.5,236.3 789.9,234.0 790.1,236.8 790.7,234.2 791.2,236.8 791.9,234.7 792.1,232.6 792.2,235.7 793.0,237.1 793.3,234.9 793.4,236.4 793.6,238.3 793.7,235.5 794.4,237.6 794.5,235.4 795.3,233.8 795.9,236.5 796.2,232.7 796.3,236.1 796.5,231.9 796.6,235.4 796.8,233.0 797.6,236.1 798.0,232.7 798.2,234.4 798.8,237.2 798.9,234.7 800.0,233.4 800.5,235.8 800.6,234.2 801.1,232.7 801.2,234.3 801.4,232.3 801.7,234.3 802.3,232.6 802.9,231.0 803.1,233.0 803.2,230.7 803.8,232.3 804.0,229.9 804.3,231.8 805.0,233.2 806.0,231.3 806.4,233.3 806.9,231.6 807.9,232.7 809.0,230.3 809.2,233.0 809.8,229.7 809.9,232.9 810.5,229.9 810.7,232.6 811.3,230.4 811.5,233.4 811.6,231.8 812.5,233.2 812.8,230.9 813.0,232.9 814.2,234.8 814.4,232.8 814.5,234.5 815.3,232.0 815.4,234.1 815.9,236.1 816.0,233.6 816.3,236.4 816.5,234.1 817.1,235.8 817.3,233.1 817.6,234.6 818.2,236.1 818.3,233.4 819.1,230.6 819.2,234.1 819.4,230.9 820.1,232.4 820.8,231.0 821.4,232.8 821.5,231.2 822.7,232.2 823.4,230.0 823.5,232.2 823.7,230.5 824.7,232.2 824.9,229.5 825.0,231.1 825.2,228.9 825.3,232.6 825.6,230.1 825.9,232.4 826.1,230.5 826.4,233.8 826.9,231.8 827.2,233.4 827.3,230.2 827.5,232.9 827.9,230.8 828.2,229.2 828.4,232.6 828.7,231.0 829.3,232.4 829.5,230.4 829.8,233.1 829.9,231.3 831.0,232.9 831.1,234.9 831.4,230.5 831.6,232.2 833.0,231.3 833.1,228.7 833.3,231.5 833.4,230.0 833.7,232.5 834.0,229.6 835.1,228.4 835.4,230.4 835.6,227.6 835.7,231.2 836.0,227.9 836.2,230.7 836.3,228.4 836.6,230.8 836.8,229.1 837.9,231.8 838.0,233.3 838.2,230.9 838.5,229.2 838.6,231.1 838.9,229.4 839.2,232.0 839.4,230.4 839.5,233.9 839.7,231.8 840.0,228.9 840.3,231.3 840.6,232.9 840.8,228.9 841.1,230.6 841.8,229.0 842.0,227.1 842.1,230.5 842.3,228.4 842.4,230.2 843.2,228.1 843.5,230.1 843.7,227.9 844.4,229.7 845.2,228.2 845.5,231.1 845.6,229.1 846.4,230.7 847.3,233.0 847.5,231.3 847.6,229.7 848.1,231.2 849.0,232.8 849.1,229.5 849.5,231.3 849.8,229.3 849.9,231.9 850.1,229.8 850.5,232.3 850.7,230.5 850.8,227.9 851.0,230.8 851.3,232.8 851.7,229.7 853.3,229.1 853.9,231.6 854.3,229.8 855.1,231.3 855.3,229.1 855.9,230.9 856.3,228.6 856.5,231.5 857.1,230.1 857.8,231.5 858.0,229.5 858.2,231.5 858.3,228.4 858.5,230.1 859.8,231.9 860.0,230.1 861.4,230.7 861.7,229.1 862.0,230.8 862.4,229.2 862.7,230.9 863.8,233.2 864.0,231.5 864.4,233.8 864.7,229.2 864.9,231.9 865.0,234.5 865.2,231.8 865.6,233.5 865.8,235.0 865.9,232.1 866.7,230.7 866.9,232.4 867.2,230.3 867.6,228.8 867.8,232.2 868.7,230.1 869.3,235.0 869.4,232.0 869.9,233.9 870.8,232.1 871.7,230.5 872.8,231.7 873.1,229.7 873.3,231.7 874.2,233.9 874.5,231.5 875.7,234.9 876.0,231.6 877.1,230.0 877.5,228.2 877.8,230.1 878.0,228.2 878.5,226.0 878.6,229.2 879.2,227.7 880.0,230.1 880.4,226.6 880.6,228.2 880.9,229.9 881.8,228.5 882.3,230.0 882.6,231.5 882.7,229.8 883.3,232.1 883.9,228.5 884.1,231.7 884.9,229.9 885.9,228.2 887.0,229.3 887.9,230.6 888.7,232.7 890.2,232.8 890.5,231.2 890.7,232.8 891.0,231.2 892.0,229.8 892.2,232.6 892.6,230.8 892.9,233.5 893.1,235.1 893.4,232.2 894.2,233.5 894.3,231.9 894.9,233.5 895.1,230.1 895.2,232.4 895.8,231.1 896.6,229.1 896.8,231.0 896.9,229.2 897.2,226.9 897.5,230.1 897.7,228.0" fill="none" stroke="#000" stroke-width="1.4"/>
<path d="M157.6 236.7h0M157.8 240.6h0M157.9 235.5h0M158.1 238.8h0M159.6 239.9h0M160.2 238.1h0M160.8 239.6h0M161.0 237.0h0M161.7 239.1h0M162.5 237.1h0M162.8 238.6h0M163.0 236.7h0M163.3 239.0h0M163.4 237.5h0M164.2 238.9h0M164.3 235.6h0M165.4 236.9h0M165.7 235.3h0M166.0 236.9h0M166.3 233.9h0M166.5 235.5h0M166.6 237.8h0M166.8 235.8h0M167.9 237.2h0M168.8 235.5h0M170.3 236.7h0M170.4 235.1h0M170.8 236.6h0M171.7 235.2h0M172.1 238.3h0M172.3 236.6h0M173.0 237.9h0M174.0 236.0h0M174.9 237.2h0M175.3 235.5h0M175.5 237.0h0M175.6 235.4h0M176.4 236.7h0M177.8 237.4h0M178.5 235.9h0M179.1 238.9h0M179.3 234.7h0M179.5 236.6h0M180.5 238.0h0M180.8 236.3h0M181.1 238.5h0M181.3 236.7h0M182.2 238.3h0M182.7 235.7h0M183.1 237.5h0M183.7 240.4h0M183.9 236.3h0M184.0 238.9h0M184.3 237.2h0M184.8 240.0h0M185.3 237.0h0M185.4 250.7h0M185.6 264.7h0M185.7 282.1h0M185.9 298.1h0M186.0 317.5h0M186.2 334.9h0M186.3 351.4h0M186.5 367.5h0M186.6 381.5h0M186.8 394.4h0M186.9 404.1h0M187.1 415.5h0M187.2 421.3h0M187.4 428.3h0M187.8 433.9h0M189.1 434.8h0M189.5 437.2h0M190.1 439.5h0M190.3 437.6h0M190.4 435.9h0M190.6 438.0h0M190.7 436.3h0M190.9 438.7h0M191.2 440.7h0M192.3 442.9h0M192.4 440.7h0M192.6 442.2h0M192.7 444.7h0M192.9 442.1h0M193.0 444.7h0M193.2 441.7h0M193.5 444.8h0M194.4 443.2h0M194.7 445.5h0M195.2 443.9h0M195.3 446.3h0M196.1 444.7h0M196.2 446.4h0M196.7 448.1h0M197.3 446.2h0M197.5 447.8h0M197.6 445.9h0M198.2 443.7h0M198.7 442.2h0M198.8 439.5h0M199.0 436.1h0M199.1 433.4h0M199.3 430.4h0M199.4 425.5h0M199.6 419.9h0M199.7 416.5h0M199.9 409.6h0M200.1 401.2h0M200.2 392.4h0M200.4 384.9h0M200.5 375.6h0M200.7 365.3h0M200.8 355.6h0M201.0 343.6h0M201.1 336.4h0M201.3 326.8h0M201.4 319.0h0M201.6 308.9h0M201.7 302.1h0M201.9 295.2h0M202.0 287.3h0M202.2 285.5h0M202.3 277.5h0M202.5 273.3h0M202.6 268.7h0M202.8 265.1h0M203.0 262.5h0M203.1 258.1h0M203.4 255.1h0M203.6 253.5h0M203.9 250.5h0M204.3 247.7h0M204.6 244.4h0M204.8 246.7h0M205.1 242.6h0M205.4 239.6h0M205.5 241.5h0M205.7 239.8h0M206.0 237.7h0M206.5 235.6h0M207.2 231.5h0M207.4 233.0h0M208.0 228.7h0M208.1 232.7h0M208.3 229.9h0M208.4 232.0h0M209.2 233.9h0M209.4 230.5h0M209.7 232.3h0M210.0 234.0h0M210.3 231.6h0M210.9 233.2h0M211.5 231.2h0M212.4 232.5h0M212.6 230.2h0M213.3 228.0h0M214.6 229.3h0M214.7 227.7h0M215.2 230.9h0M215.3 228.7h0M215.9 230.7h0M216.2 228.6h0M216.4 230.5h0M216.7 232.1h0M217.6 230.7h0M218.2 232.3h0M218.5 230.1h0M218.7 227.7h0M219.1 229.5h0M219.9 227.1h0M220.2 229.2h0M221.4 230.4h0M221.9 232.7h0M222.3 230.7h0M222.5 233.0h0M222.6 231.2h0M223.1 232.9h0M223.6 235.8h0M223.9 232.6h0M224.8 234.7h0M225.1 233.0h0M225.5 230.8h0M226.3 229.2h0M226.5 230.9h0M227.1 228.8h0M227.2 230.5h0M228.0 232.2h0M228.6 230.2h0M229.2 232.0h0M230.6 231.3h0M231.6 234.8h0M231.8 233.2h0M232.3 230.6h0M232.4 233.7h0M232.9 232.2h0M233.3 233.9h0M233.8 231.8h0M234.1 230.1h0M234.2 232.6h0M234.4 230.8h0M234.5 233.2h0M234.9 231.7h0M235.0 229.7h0M235.2 232.1h0M236.7 232.8h0M237.6 234.1h0M239.1 234.2h0M239.9 233.0h0M240.2 235.5h0M240.3 233.5h0M241.1 247.5h0M241.3 269.9h0M241.4 297.0h0M241.6 319.6h0M241.7 345.8h0M241.9 368.6h0M242.0 384.7h0M242.2 401.4h0M242.3 415.8h0M242.5 426.7h0M242.6 431.8h0M242.8 435.0h0M242.9 437.1h0M243.1 438.8h0M243.2 437.1h0M243.4 438.7h0M243.9 442.4h0M244.0 440.8h0M244.2 442.5h0M244.9 444.2h0M246.1 446.8h0M246.3 445.1h0M246.9 446.7h0M248.4 446.6h0M249.5 448.1h0M250.3 450.1h0M250.4 447.9h0M251.2 449.3h0M252.1 450.7h0M252.7 448.1h0M253.2 449.8h0M253.5 451.3h0M253.6 449.4h0M253.8 447.3h0M254.1 450.2h0M255.0 447.3h0M255.2 449.9h0M256.1 448.0h0M256.4 449.5h0M256.7 447.4h0M256.8 449.3h0M257.0 447.5h0M257.4 445.2h0M257.7 442.4h0M258.1 440.3h0M258.4 437.4h0M258.7 432.7h0M258.8 430.8h0M259.1 428.4h0M259.3 425.1h0M259.4 423.4h0M259.6 419.8h0M259.7 417.4h0M259.9 413.1h0M260.0 411.3h0M260.2 406.7h0M260.3 404.3h0M260.5 400.1h0M260.6 397.1h0M260.8 393.6h0M261.0 390.0h0M261.1 387.2h0M261.3 383.8h0M261.4 378.5h0M261.6 372.7h0M261.7 369.5h0M261.9 363.8h0M262.0 361.2h0M262.2 354.9h0M262.3 349.7h0M262.5 345.6h0M262.6 340.4h0M262.8 337.2h0M262.9 332.8h0M263.1 327.2h0M263.2 325.3h0M263.4 320.4h0M263.5 318.1h0M263.7 311.9h0M264.0 307.4h0M264.2 304.6h0M264.5 298.9h0M264.8 293.1h0M265.2 288.9h0M265.4 284.8h0M265.7 282.7h0M265.8 280.3h0M266.0 278.1h0M266.3 274.8h0M266.6 272.9h0M266.7 270.3h0M267.1 267.3h0M267.2 265.2h0M267.5 262.8h0M268.0 257.6h0M268.3 255.6h0M269.0 252.4h0M269.3 250.6h0M269.8 248.3h0M270.1 246.3h0M270.9 242.7h0M271.3 240.9h0M272.4 239.3h0M273.0 237.2h0M273.3 238.9h0M273.8 237.1h0M274.1 239.6h0M274.5 237.1h0M275.9 238.3h0M277.0 236.8h0M277.3 238.8h0M277.7 236.7h0M278.8 234.2h0M279.3 235.9h0M279.7 234.2h0M279.9 236.0h0M280.0 232.0h0M280.2 235.1h0M280.5 233.0h0M280.8 235.4h0M280.9 231.0h0M281.1 233.2h0M282.3 231.9h0M282.6 233.9h0M283.2 230.1h0M283.4 234.9h0M284.3 232.9h0M285.7 233.6h0M286.6 232.2h0M286.7 230.6h0M287.0 232.4h0M287.8 231.0h0M288.0 233.2h0M288.6 231.7h0M289.2 234.1h0M289.5 231.5h0M289.6 234.4h0M290.3 232.1h0M290.4 235.8h0M290.7 233.9h0M291.6 231.6h0M292.5 229.9h0M293.2 232.5h0M293.6 230.6h0M293.9 235.3h0M294.1 231.4h0M295.1 232.5h0M296.7 232.6h0M297.3 230.5h0M297.4 234.3h0M297.6 232.1h0M298.0 235.5h0M298.5 233.4h0M298.8 235.2h0M300.0 233.3h0M300.6 234.9h0M301.1 232.6h0M301.4 235.5h0M301.5 232.7h0M302.0 234.6h0M302.3 233.0h0M303.2 230.9h0M303.8 232.9h0M305.1 234.8h0M305.4 232.8h0M305.7 235.7h0M305.8 258.6h0M306.0 285.0h0M306.1 308.2h0M306.3 332.7h0M306.4 349.6h0M306.6 363.9h0M306.7 380.7h0M306.9 398.8h0M307.0 408.9h0M307.2 418.7h0M307.3 428.4h0M307.5 434.3h0M307.7 436.1h0M308.1 438.9h0M308.6 436.8h0M308.7 441.7h0M309.2 439.8h0M309.3 442.4h0M309.8 445.5h0M310.9 446.6h0M311.5 449.0h0M311.8 447.0h0M311.9 449.3h0M312.1 447.3h0M312.7 445.7h0M313.0 447.6h0M313.1 445.4h0M314.1 446.7h0M315.0 447.9h0M316.4 449.2h0M317.6 451.3h0M317.7 448.5h0M317.9 450.7h0M318.0 448.6h0M318.2 450.6h0M318.5 448.5h0M318.6 451.0h0M318.8 448.2h0M319.6 449.7h0M320.2 448.2h0M320.9 445.9h0M321.1 447.6h0M321.5 450.4h0M321.7 444.7h0M321.8 446.3h0M322.2 448.8h0M322.5 446.8h0M322.8 448.4h0M323.2 447.0h0M323.8 448.6h0M324.9 450.7h0M325.2 446.9h0M325.4 450.0h0M325.7 451.5h0M326.0 447.8h0M326.4 450.8h0M326.6 449.2h0M327.0 450.8h0M327.2 448.3h0M327.5 450.7h0M328.3 448.4h0M328.4 451.1h0M328.6 449.6h0M329.2 447.9h0M329.5 449.5h0M329.8 446.9h0M330.9 448.4h0M331.0 446.8h0M331.2 448.3h0M331.3 445.9h0M331.6 448.2h0M332.2 445.9h0M332.4 448.9h0M332.5 446.6h0M333.1 448.5h0M333.3 444.7h0M333.7 446.7h0M334.1 448.3h0M335.1 449.5h0M335.9 447.6h0M336.0 450.7h0M337.6 451.9h0M337.9 448.5h0M338.2 450.5h0M338.3 448.9h0M339.1 447.6h0M340.0 449.5h0M340.2 446.4h0M340.3 448.1h0M340.5 446.5h0M340.9 448.2h0M341.1 446.1h0M341.7 444.2h0M341.8 447.6h0M342.0 446.0h0M342.4 448.0h0M342.8 450.9h0M342.9 449.1h0M343.4 447.3h0M343.5 450.0h0M344.1 447.5h0M344.3 449.7h0M344.6 447.9h0M344.7 449.8h0M344.9 448.0h0M345.0 450.5h0M345.2 446.7h0M345.3 448.6h0M346.9 448.2h0M347.5 449.6h0M347.6 447.8h0M347.9 451.2h0M348.1 447.0h0M348.4 449.7h0M349.0 447.2h0M349.2 449.2h0M349.3 446.3h0M349.9 449.0h0M350.1 446.6h0M350.5 444.4h0M350.7 442.9h0M351.1 439.7h0M351.3 437.1h0M351.5 435.3h0M351.6 429.8h0M351.8 427.8h0M351.9 419.6h0M352.1 417.9h0M352.2 413.2h0M352.4 411.2h0M352.5 408.2h0M352.7 402.6h0M352.8 400.3h0M353.0 396.5h0M353.1 391.3h0M353.4 387.0h0M353.6 383.4h0M353.7 380.2h0M353.9 376.4h0M354.0 372.1h0M354.2 370.1h0M354.4 365.8h0M354.7 360.8h0M355.0 357.0h0M355.3 354.1h0M355.4 350.7h0M355.7 345.1h0M356.2 342.8h0M356.3 340.6h0M356.5 339.0h0M356.6 335.7h0M357.3 332.8h0M357.4 330.5h0M357.6 328.9h0M358.0 324.2h0M358.3 321.8h0M358.6 318.8h0M358.8 315.7h0M358.9 313.9h0M359.5 310.5h0M359.7 307.5h0M360.0 304.4h0M360.5 302.1h0M360.8 299.1h0M361.1 297.2h0M361.4 294.6h0M361.7 293.1h0M361.8 290.5h0M362.3 287.5h0M362.4 285.8h0M362.9 283.3h0M363.2 280.0h0M363.7 277.4h0M364.3 275.7h0M364.7 272.9h0M365.2 270.8h0M365.8 269.2h0M366.1 267.0h0M367.0 263.7h0M368.5 262.6h0M369.3 261.1h0M370.2 259.3h0M370.4 261.7h0M371.0 260.1h0M371.3 258.4h0M371.8 260.6h0M372.2 258.6h0M373.4 257.2h0M374.2 254.8h0M374.3 256.5h0M375.3 254.9h0M376.2 256.7h0M376.3 255.1h0M377.7 253.1h0M378.0 254.7h0M378.6 253.2h0M379.1 251.8h0M379.5 254.3h0M379.7 252.7h0M379.8 254.9h0M380.1 252.8h0M380.6 254.7h0M380.9 252.7h0M381.1 254.3h0M382.0 256.6h0M382.1 254.9h0M382.6 252.0h0M382.7 255.3h0M383.0 257.0h0M383.2 254.9h0M383.5 257.9h0M383.7 255.8h0M384.3 253.8h0M384.4 256.1h0M385.5 255.0h0M385.9 253.2h0M386.1 255.6h0M386.3 254.1h0M386.4 257.6h0M386.6 255.2h0M386.7 253.5h0M387.0 255.5h0M387.3 253.9h0M388.7 254.6h0M388.8 252.1h0M389.9 253.6h0M390.4 251.9h0M390.5 253.5h0M391.0 254.9h0M391.1 253.0h0M391.3 254.5h0M391.6 252.7h0M392.5 255.4h0M392.7 252.2h0M393.4 250.4h0M394.0 248.6h0M394.6 250.2h0M395.0 248.6h0M396.0 250.4h0M396.2 247.8h0M397.1 249.3h0M397.7 250.9h0M397.9 248.9h0M398.6 250.7h0M399.2 252.1h0M399.5 249.4h0M400.8 251.2h0M401.5 248.9h0M402.9 247.7h0M404.1 248.6h0M404.9 246.0h0M405.2 247.9h0M405.6 245.3h0M405.8 247.5h0M405.9 244.7h0M406.1 247.2h0M406.2 245.1h0M406.4 243.0h0M406.5 245.4h0M407.0 243.6h0M407.2 245.1h0M408.1 243.9h0M408.4 246.5h0M409.4 250.0h0M409.6 248.4h0M411.0 246.5h0M411.1 249.4h0M411.3 246.6h0M411.6 248.1h0M412.0 246.3h0M412.3 243.3h0M412.5 245.5h0M413.0 247.0h0M413.3 245.3h0M413.7 246.9h0M414.0 244.1h0M414.2 246.0h0M414.3 248.6h0M414.5 245.0h0M415.1 247.9h0M415.4 244.0h0M416.9 244.1h0M417.1 246.0h0M417.2 243.9h0M417.8 245.7h0M418.0 242.9h0M418.3 244.4h0M419.4 246.5h0M419.8 244.0h0M420.6 246.4h0M420.7 244.7h0M421.2 246.7h0M421.7 243.7h0M422.6 244.9h0M423.0 242.9h0M423.2 244.7h0M423.3 246.2h0M423.5 244.4h0M424.7 242.4h0M425.2 244.4h0M426.2 243.3h0M427.5 245.5h0M427.6 243.8h0M427.9 242.1h0M428.1 245.7h0M428.2 243.6h0M429.6 245.3h0M430.1 243.3h0M431.1 241.7h0M431.6 243.4h0M432.5 242.0h0M433.6 244.1h0M434.0 242.2h0M434.2 243.7h0M435.5 243.0h0M436.2 244.5h0M436.3 241.3h0M436.8 243.0h0M437.4 241.0h0M438.1 239.4h0M438.3 241.6h0M439.1 243.2h0M439.8 244.5h0M440.3 242.9h0M440.7 244.6h0M440.9 243.1h0M441.8 240.7h0M442.0 242.4h0M442.1 240.7h0M442.6 242.1h0M443.9 241.4h0M444.9 242.8h0M445.5 240.9h0M445.6 239.2h0M446.4 240.7h0M446.5 239.2h0M446.7 240.8h0M447.3 239.1h0M447.5 240.7h0M447.6 239.2h0M447.9 240.7h0M448.8 238.5h0M449.3 241.7h0M449.7 240.3h0M450.4 241.8h0M451.0 240.0h0M451.9 241.3h0M452.2 238.2h0M452.5 241.7h0M452.6 238.1h0M452.9 239.7h0M454.2 238.8h0M454.3 241.5h0M455.2 243.0h0M456.0 244.5h0M457.4 243.4h0M457.5 245.6h0M457.8 243.6h0M458.4 242.1h0M459.2 244.0h0M459.4 242.5h0M459.7 240.5h0M460.1 239.0h0M460.3 242.2h0M460.4 239.7h0M460.6 243.9h0M460.7 240.3h0M461.2 243.1h0M461.3 241.1h0M462.7 239.8h0M462.9 243.2h0M463.0 240.3h0M464.4 239.5h0M464.5 241.6h0M464.7 238.4h0M464.9 241.3h0M465.0 239.6h0M465.9 241.3h0M466.1 239.5h0M466.4 242.1h0M466.5 239.7h0M467.8 238.6h0M468.1 240.3h0M469.6 238.8h0M469.7 243.1h0M469.9 241.0h0M470.0 238.9h0M471.0 240.1h0M471.6 238.3h0M472.0 240.7h0M472.2 238.8h0M473.1 240.4h0M473.2 238.2h0M473.4 240.8h0M473.5 239.2h0M474.6 240.5h0M475.1 237.2h0M475.7 240.6h0M475.8 237.2h0M476.4 234.9h0M476.8 237.7h0M477.4 236.3h0M478.4 234.6h0M479.7 236.8h0M480.0 234.3h0M480.1 235.8h0M480.9 238.5h0M482.2 237.6h0M482.4 239.4h0M483.3 237.9h0M484.2 235.9h0M484.7 233.4h0M484.8 236.7h0M485.1 233.3h0M485.5 234.9h0M485.9 232.4h0M486.1 234.6h0M486.4 232.0h0M486.5 233.6h0M486.7 235.2h0M486.8 232.8h0M487.1 235.3h0M487.3 233.4h0M487.4 235.0h0M487.6 233.1h0M487.7 236.3h0M488.8 237.5h0M490.2 239.7h0M490.5 236.9h0M491.4 234.8h0M491.6 237.3h0M491.7 235.3h0M492.8 236.7h0M492.9 234.2h0M493.1 235.9h0M493.2 233.4h0M493.4 236.8h0M493.5 232.2h0M493.7 234.3h0M493.8 232.5h0M494.0 234.2h0M494.3 232.7h0M494.6 235.0h0M494.9 233.2h0M495.2 234.9h0M495.4 232.3h0M496.7 233.9h0M497.2 232.0h0M497.5 234.0h0M497.7 232.5h0M498.4 234.8h0M498.6 231.3h0M498.7 233.3h0M500.3 234.5h0M500.6 232.9h0M500.7 235.2h0M502.1 236.9h0M502.9 238.5h0M503.0 236.2h0M504.4 237.3h0M504.7 235.3h0M505.3 237.1h0M505.6 232.6h0M505.8 238.6h0M505.9 236.7h0M506.1 233.7h0M506.5 236.7h0M506.7 233.3h0M506.8 235.3h0M507.4 232.8h0M508.2 235.7h0M508.5 234.0h0M508.7 236.6h0M508.8 234.9h0M510.2 235.7h0M510.3 233.5h0M510.5 235.4h0M511.4 233.6h0M511.9 235.2h0M512.2 232.9h0M512.8 230.4h0M514.0 227.6h0M514.1 230.9h0M514.3 228.1h0M514.5 230.4h0M515.2 229.0h0M515.4 230.5h0M516.1 227.1h0M516.3 233.1h0M516.7 230.6h0M517.5 232.6h0M518.6 234.6h0M519.3 232.3h0M519.8 234.7h0M519.9 231.7h0M521.2 233.0h0M521.5 230.4h0M521.9 232.3h0M522.4 230.5h0M522.7 232.5h0M523.0 234.8h0M523.2 232.0h0M523.3 230.4h0M523.5 235.5h0M523.8 232.1h0M524.2 234.7h0M524.7 232.6h0M525.0 235.4h0M525.1 232.7h0M525.4 235.3h0M525.6 233.7h0M526.2 232.1h0M526.4 235.6h0M526.5 233.8h0M527.3 232.5h0M527.7 234.1h0M528.8 231.9h0M529.0 233.4h0M529.3 230.7h0M529.4 233.1h0M529.7 231.5h0M530.9 229.9h0M531.2 231.9h0M531.4 230.2h0M531.7 232.2h0M531.9 229.0h0M532.0 231.4h0M533.1 233.8h0M533.2 231.7h0M534.0 233.3h0M534.3 240.1h0M534.4 254.4h0M534.6 272.2h0M534.8 297.6h0M534.9 320.3h0M535.1 337.3h0M535.2 358.2h0M535.4 373.1h0M535.5 387.9h0M535.7 400.1h0M535.8 411.3h0M536.0 419.1h0M536.1 427.6h0M536.3 433.1h0M536.4 439.0h0M536.6 440.5h0M537.0 442.3h0M537.5 440.3h0M537.7 443.8h0M537.8 441.8h0M538.3 445.5h0M538.4 442.3h0M538.9 444.0h0M539.2 445.5h0M540.7 443.4h0M540.9 445.3h0M541.6 442.7h0M541.9 445.3h0M543.4 446.0h0M544.1 443.4h0M544.2 445.6h0M544.7 447.2h0M544.8 445.0h0M545.0 447.1h0M545.6 444.0h0M545.9 446.0h0M546.3 444.2h0M546.8 446.6h0M547.1 444.3h0M547.3 446.9h0M547.4 444.7h0M547.9 443.0h0M548.0 446.2h0M548.6 444.5h0M548.8 447.4h0M548.9 445.8h0M549.1 447.9h0M549.2 445.5h0M549.6 448.4h0M549.7 446.4h0M549.9 447.9h0M550.3 449.8h0M550.5 448.2h0M550.6 450.2h0M551.2 448.2h0M552.1 445.2h0M552.3 447.6h0M552.5 446.0h0M552.8 447.6h0M552.9 444.2h0M553.1 446.6h0M553.5 443.9h0M554.4 442.1h0M554.6 444.2h0M554.7 442.0h0M555.4 443.9h0M556.1 441.3h0M556.3 444.5h0M556.9 442.7h0M557.0 444.5h0M557.5 442.7h0M557.9 444.8h0M559.2 446.2h0M559.3 443.0h0M559.8 445.3h0M560.8 443.5h0M561.2 445.1h0M561.3 443.0h0M561.6 440.5h0M561.8 443.2h0M562.2 440.3h0M562.4 442.1h0M562.5 443.7h0M563.1 442.1h0M563.4 444.5h0M563.6 442.5h0M563.9 444.5h0M564.4 442.9h0M564.7 444.4h0M564.8 442.4h0M565.1 440.8h0M565.3 442.8h0M566.2 444.2h0M567.3 442.7h0M567.6 445.3h0M567.7 443.6h0M568.6 441.2h0M568.9 444.8h0M569.4 441.8h0M569.9 443.4h0M570.0 441.5h0M570.9 440.3h0M571.1 442.5h0M571.4 440.8h0M571.5 443.1h0M571.7 441.5h0M571.8 443.4h0M573.1 440.9h0M573.4 443.2h0M573.8 441.1h0M574.1 442.8h0M574.6 440.2h0M575.7 443.0h0M575.8 439.9h0M576.4 438.2h0M576.6 440.0h0M576.9 441.7h0M577.2 440.1h0M578.2 438.7h0M578.4 440.5h0M578.9 438.6h0M579.5 442.0h0M579.6 439.4h0M580.2 441.6h0M581.8 441.7h0M582.5 439.6h0M583.0 441.5h0M583.1 439.9h0M583.7 442.3h0M583.9 439.3h0M584.7 437.7h0M586.2 436.5h0M586.6 438.1h0M587.1 436.3h0M588.3 438.5h0M588.5 435.1h0M589.2 437.1h0M590.5 435.5h0M591.2 439.1h0M591.4 437.6h0M592.1 436.3h0M592.6 438.2h0M593.5 439.6h0M593.8 438.0h0M594.1 440.4h0M595.0 441.9h0M595.2 439.9h0M596.0 437.1h0M596.3 439.4h0M596.4 436.9h0M596.6 439.4h0M596.9 436.7h0M598.1 435.0h0M598.5 437.9h0M598.9 435.5h0M599.9 437.0h0M600.1 435.1h0M600.5 436.7h0M601.1 435.2h0M601.3 437.0h0M601.9 439.5h0M602.1 437.8h0M602.4 440.9h0M602.5 439.0h0M603.0 441.6h0M603.1 439.9h0M604.5 441.6h0M604.8 438.2h0M605.0 440.2h0M605.7 438.7h0M606.3 437.1h0M607.4 436.0h0M608.0 434.0h0M608.2 436.1h0M608.3 432.9h0M608.6 434.7h0M608.9 433.1h0M609.2 435.2h0M609.8 433.7h0M610.4 435.2h0M610.6 433.7h0M611.2 431.1h0M611.4 434.1h0M611.5 431.5h0M611.7 434.0h0M612.1 431.8h0M612.3 434.1h0M612.6 432.3h0M612.7 434.0h0M612.9 436.2h0M613.2 434.6h0M614.1 435.9h0M614.4 434.2h0M615.3 435.9h0M615.5 432.8h0M616.1 431.1h0M616.4 432.7h0M616.9 431.2h0M617.0 433.8h0M617.3 436.5h0M617.5 433.3h0M617.9 436.4h0M618.2 434.9h0M618.8 438.5h0M619.0 436.9h0M619.9 435.2h0M621.0 432.9h0M621.1 434.6h0M621.6 431.9h0M621.7 435.1h0M622.0 433.1h0M622.2 435.5h0M622.4 432.9h0M622.7 435.3h0M623.0 433.5h0M624.2 435.0h0M624.3 432.8h0M624.5 431.3h0M624.9 429.4h0M625.3 431.7h0M625.4 428.7h0M625.7 430.2h0M626.0 427.7h0M626.2 424.9h0M626.3 426.7h0M626.6 424.8h0M626.8 422.4h0M627.4 419.2h0M627.7 416.1h0M627.8 414.4h0M628.0 410.0h0M628.2 407.7h0M628.3 403.4h0M628.6 397.3h0M628.8 395.0h0M628.9 391.1h0M629.1 387.0h0M629.4 382.0h0M629.7 378.9h0M629.8 374.8h0M630.0 371.6h0M630.3 367.4h0M630.6 364.4h0M630.7 361.2h0M631.1 357.7h0M631.2 356.2h0M631.4 353.5h0M631.5 350.5h0M631.8 347.4h0M632.1 343.2h0M632.4 340.9h0M632.7 336.0h0M633.0 332.1h0M633.2 330.2h0M633.5 328.6h0M633.6 326.7h0M633.8 323.8h0M634.0 321.2h0M634.3 318.8h0M634.4 317.3h0M634.6 315.7h0M634.9 312.6h0M635.0 310.5h0M635.2 308.9h0M635.5 306.4h0M635.6 304.5h0M636.1 303.0h0M636.2 300.2h0M636.5 298.4h0M636.9 296.4h0M637.5 293.3h0M637.8 290.9h0M638.2 289.2h0M638.4 287.4h0M639.1 285.2h0M639.8 283.8h0M639.9 282.2h0M640.2 279.6h0M640.4 278.0h0M640.5 281.2h0M640.7 279.1h0M640.8 277.2h0M641.0 279.4h0M641.3 277.6h0M641.7 275.4h0M642.3 273.1h0M642.7 274.8h0M643.7 273.2h0M644.0 270.9h0M644.2 274.9h0M645.1 273.3h0M646.0 271.1h0M646.2 272.9h0M647.1 271.6h0M647.2 273.4h0M647.5 270.2h0M647.7 273.1h0M647.8 271.3h0M648.3 273.2h0M648.5 270.2h0M648.8 272.1h0M648.9 270.6h0M649.1 272.1h0M649.2 270.4h0M649.4 272.0h0M649.7 268.8h0M649.8 271.9h0M650.1 269.9h0M650.6 272.7h0M650.7 270.2h0M651.8 268.6h0M652.7 266.0h0M653.5 267.8h0M653.9 266.1h0M654.9 264.3h0M655.0 266.6h0M655.3 264.6h0M655.5 266.7h0M655.8 264.7h0M656.5 263.3h0M656.7 265.0h0M657.9 263.3h0M658.7 264.9h0M659.4 263.5h0M659.9 266.0h0M660.1 264.2h0M661.1 262.5h0M661.3 264.5h0M661.4 262.6h0M662.2 260.5h0M662.5 262.7h0M663.3 260.8h0M663.4 262.9h0M663.9 261.3h0M664.3 259.5h0M664.5 261.3h0M664.9 259.3h0M665.5 261.5h0M665.7 259.2h0M666.0 256.5h0M667.5 256.2h0M667.7 257.9h0M667.8 253.5h0M668.0 256.2h0M668.1 258.4h0M668.3 256.6h0M668.9 258.6h0M669.8 259.9h0M670.4 255.5h0M670.6 260.1h0M671.0 258.4h0M672.0 257.1h0M672.1 259.0h0M672.6 256.1h0M672.7 259.3h0M672.9 256.3h0M673.0 258.7h0M673.2 255.3h0M673.5 258.2h0M674.4 256.3h0M674.7 260.1h0M674.9 257.6h0M675.0 256.1h0M675.2 258.8h0M676.2 257.1h0M677.3 255.5h0M677.5 257.9h0M677.6 255.9h0M678.8 258.4h0M679.0 253.6h0M680.5 253.3h0M681.1 251.4h0M681.3 253.5h0M682.0 252.1h0M682.2 255.5h0M682.3 253.8h0M683.2 255.4h0M683.9 253.9h0M684.6 252.2h0M685.7 250.7h0M686.0 254.0h0M686.3 251.8h0M686.5 253.5h0M687.1 251.2h0M687.7 253.7h0M688.0 250.8h0M688.3 253.4h0M688.6 250.6h0M688.7 253.0h0M689.4 250.0h0M690.3 251.5h0M690.4 249.8h0M691.3 248.1h0M692.7 249.1h0M692.9 246.8h0M693.0 249.2h0M693.2 247.5h0M693.5 249.5h0M694.8 248.7h0M695.0 251.8h0M695.2 249.7h0M696.2 248.0h0M696.5 249.6h0M696.7 247.4h0M697.1 248.9h0M698.4 247.6h0M699.0 251.4h0M699.1 248.5h0M699.3 250.9h0M699.6 249.1h0M700.5 247.5h0M700.6 249.4h0M701.3 247.6h0M701.7 250.1h0M701.9 248.6h0M702.0 246.5h0M702.2 249.5h0M702.8 246.3h0M703.2 248.5h0M703.9 247.1h0M704.2 248.7h0M705.2 246.4h0M705.8 248.4h0M706.0 244.3h0M706.9 242.9h0M707.8 244.3h0M708.4 242.0h0M708.7 243.6h0M710.1 245.1h0M710.3 247.0h0M710.6 244.0h0M710.7 247.1h0M710.9 244.9h0M711.3 247.6h0M711.5 243.7h0M711.6 245.4h0M712.2 242.8h0M712.4 246.0h0M712.7 241.9h0M712.9 243.6h0M713.8 241.8h0M714.2 243.8h0M715.1 240.9h0M715.3 243.7h0M715.9 245.7h0M716.1 242.0h0M716.5 243.7h0M717.0 240.9h0M717.1 243.0h0M717.4 240.8h0M717.6 238.7h0M717.7 242.2h0M718.0 238.9h0M718.2 242.5h0M718.5 239.4h0M718.7 242.1h0M719.0 240.7h0M719.4 243.1h0M719.6 241.2h0M720.5 239.9h0M720.8 242.3h0M720.9 243.8h0M721.1 241.9h0M721.9 240.1h0M722.0 242.2h0M722.3 240.8h0M722.6 242.4h0M723.1 240.8h0M723.5 242.3h0M724.2 240.0h0M724.5 241.6h0M724.6 239.5h0M724.8 241.7h0M725.2 240.0h0M726.7 239.9h0M727.1 238.0h0M727.2 241.0h0M727.5 239.2h0M727.8 241.0h0M729.2 241.7h0M730.3 240.0h0M730.4 242.7h0M730.6 239.3h0M730.7 241.2h0M731.9 237.8h0M732.1 241.6h0M732.2 240.1h0M733.5 238.4h0M733.6 240.4h0M734.8 241.3h0M735.3 242.9h0M735.4 241.0h0M735.9 243.4h0M736.2 245.2h0M736.4 242.8h0M737.0 240.7h0M738.2 241.7h0M738.3 239.2h0M739.0 240.6h0M739.6 238.7h0M740.0 237.1h0M740.3 239.2h0M740.9 237.2h0M741.7 238.6h0M743.1 237.2h0M743.2 238.7h0M743.5 236.7h0M743.7 238.3h0M744.1 235.8h0M744.3 237.7h0M745.2 236.1h0M746.3 238.4h0M746.4 235.4h0M746.6 237.6h0M746.7 234.4h0M746.9 239.2h0M747.8 240.6h0M748.0 238.6h0M748.1 240.3h0M748.4 242.1h0M749.2 243.7h0M749.9 241.3h0M750.1 243.1h0M750.6 241.5h0M750.9 238.9h0M751.2 240.6h0M751.5 238.6h0M751.9 237.0h0M752.7 235.7h0M753.3 234.3h0M753.5 237.7h0M753.8 234.8h0M753.9 236.6h0M754.7 234.7h0M754.8 239.0h0M755.1 237.1h0M755.3 235.6h0M755.7 238.2h0M756.4 239.9h0M756.5 237.6h0M757.0 235.6h0M757.1 239.8h0M757.6 238.3h0M757.7 240.4h0M757.9 238.8h0M758.5 237.1h0M758.8 239.8h0M758.9 236.4h0M759.6 238.1h0M759.9 236.1h0M760.0 238.2h0M760.3 236.4h0M761.4 238.5h0M761.7 236.6h0M762.0 238.5h0M762.5 236.9h0M762.6 240.2h0M762.8 236.6h0M763.2 238.6h0M763.4 237.0h0M763.7 239.6h0M764.0 238.1h0M765.1 236.6h0M765.4 239.6h0M765.5 237.2h0M766.3 238.7h0M767.2 240.0h0M767.3 237.3h0M767.6 239.8h0M768.3 237.2h0M768.4 240.4h0M768.6 238.3h0M769.0 236.8h0M769.2 239.4h0M769.3 236.6h0M769.9 238.1h0M770.1 235.3h0M770.9 237.7h0M771.0 234.6h0M771.6 236.6h0M771.8 233.6h0M771.9 235.6h0M772.1 237.8h0M772.2 235.9h0M773.6 234.3h0M774.1 236.0h0M775.0 233.7h0M775.1 237.6h0M776.2 240.9h0M776.3 237.6h0M776.7 239.1h0M777.3 240.6h0M777.4 238.5h0M777.7 240.3h0M777.9 237.5h0M778.0 240.2h0M778.8 238.8h0M778.9 237.0h0M779.1 239.6h0M779.7 237.7h0M779.9 236.1h0M780.3 238.8h0M780.5 237.0h0M780.6 232.9h0M780.8 235.4h0M780.9 233.8h0M781.4 235.5h0M782.3 236.9h0M782.5 235.2h0M783.1 237.3h0M783.2 235.7h0M783.7 237.2h0M783.8 235.3h0M785.2 234.5h0M786.4 232.8h0M787.0 234.2h0M787.3 236.6h0M787.5 234.3h0M788.1 236.3h0M789.2 234.4h0M789.5 236.3h0M789.9 234.0h0M790.1 236.8h0M790.7 234.2h0M791.2 236.8h0M791.9 234.7h0M792.1 232.6h0M792.2 235.7h0M793.0 237.1h0M793.3 234.9h0M793.4 236.4h0M793.6 238.3h0M793.7 235.5h0M794.4 237.6h0M794.5 235.4h0M795.3 233.8h0M795.9 236.5h0M796.2 232.7h0M796.3 236.1h0M796.5 231.9h0M796.6 235.4h0M796.8 233.0h0M797.6 236.1h0M798.0 232.7h0M798.2 234.4h0M798.8 237.2h0M798.9 234.7h0M800.0 233.4h0M800.5 235.8h0M800.6 234.2h0M801.1 232.7h0M801.2 234.3h0M801.4 232.3h0M801.7 234.3h0M802.3 232.6h0M802.9 231.0h0M803.1 233.0h0M803.2 230.7h0M803.8 232.3h0M804.0 229.9h0M804.3 231.8h0M805.0 233.2h0M806.0 231.3h0M806.4 233.3h0M806.9 231.6h0M807.9 232.7h0M809.0 230.3h0M809.2 233.0h0M809.8 229.7h0M809.9 232.9h0M810.5 229.9h0M810.7 232.6h0M811.3 230.4h0M811.5 233.4h0M811.6 231.8h0M812.5 233.2h0M812.8 230.9h0M813.0 232.9h0M814.2 234.8h0M814.4 232.8h0M814.5 234.5h0M815.3 232.0h0M815.4 234.1h0M815.9 236.1h0M816.0 233.6h0M816.3 236.4h0M816.5 234.1h0M817.1 235.8h0M817.3 233.1h0M817.6 234.6h0M818.2 236.1h0M818.3 233.4h0M819.1 230.6h0M819.2 234.1h0M819.4 230.9h0M820.1 232.4h0M820.8 231.0h0M821.4 232.8h0M821.5 231.2h0M822.7 232.2h0M823.4 230.0h0M823.5 232.2h0M823.7 230.5h0M824.7 232.2h0M824.9 229.5h0M825.0 231.1h0M825.2 228.9h0M825.3 232.6h0M825.6 230.1h0M825.9 232.4h0M826.1 230.5h0M826.4 233.8h0M826.9 231.8h0M827.2 233.4h0M827.3 230.2h0M827.5 232.9h0M827.9 230.8h0M828.2 229.2h0M828.4 232.6h0M828.7 231.0h0M829.3 232.4h0M829.5 230.4h0M829.8 233.1h0M829.9 231.3h0M831.0 232.9h0M831.1 234.9h0M831.4 230.5h0M831.6 232.2h0M833.0 231.3h0M833.1 228.7h0M833.3 231.5h0M833.4 230.0h0M833.7 232.5h0M834.0 229.6h0M835.1 228.4h0M835.4 230.4h0M835.6 227.6h0M835.7 231.2h0M836.0 227.9h0M836.2 230.7h0M836.3 228.4h0M836.6 230.8h0M836.8 229.1h0M837.9 231.8h0M838.0 233.3h0M838.2 230.9h0M838.5 229.2h0M838.6 231.1h0M838.9 229.4h0M839.2 232.0h0M839.4 230.4h0M839.5 233.9h0M839.7 231.8h0M840.0 228.9h0M840.3 231.3h0M840.6 232.9h0M840.8 228.9h0M841.1 230.6h0M841.8 229.0h0M842.0 227.1h0M842.1 230.5h0M842.3 228.4h0M842.4 230.2h0M843.2 228.1h0M843.5 230.1h0M843.7 227.9h0M844.4 229.7h0M845.2 228.2h0M845.5 231.1h0M845.6 229.1h0M846.4 230.7h0M847.3 233.0h0M847.5 231.3h0M847.6 229.7h0M848.1 231.2h0M849.0 232.8h0M849.1 229.5h0M849.5 231.3h0M849.8 229.3h0M849.9 231.9h0M850.1 229.8h0M850.5 232.3h0M850.7 230.5h0M850.8 227.9h0M851.0 230.8h0M851.3 232.8h0M851.7 229.7h0M853.3 229.1h0M853.9 231.6h0M854.3 229.8h0M855.1 231.3h0M855.3 229.1h0M855.9 230.9h0M856.3 228.6h0M856.5 231.5h0M857.1 230.1h0M857.8 231.5h0M858.0 229.5h0M858.2 231.5h0M858.3 228.4h0M858.5 230.1h0M859.8 231.9h0M860.0 230.1h0M861.4 230.7h0M861.7 229.1h0M862.0 230.8h0M862.4 229.2h0M862.7 230.9h0M863.8 233.2h0M864.0 231.5h0M864.4 233.8h0M864.7 229.2h0M864.9 231.9h0M865.0 234.5h0M865.2 231.8h0M865.6 233.5h0M865.8 235.0h0M865.9 232.1h0M866.7 230.7h0M866.9 232.4h0M867.2 230.3h0M867.6 228.8h0M867.8 232.2h0M868.7 230.1h0M869.3 235.0h0M869.4 232.0h0M869.9 233.9h0M870.8 232.1h0M871.7 230.5h0M872.8 231.7h0M873.1 229.7h0M873.3 231.7h0M874.2 233.9h0M874.5 231.5h0M875.7 234.9h0M876.0 231.6h0M877.1 230.0h0M877.5 228.2h0M877.8 230.1h0M878.0 228.2h0M878.5 226.0h0M878.6 229.2h0M879.2 227.7h0M880.0 230.1h0M880.4 226.6h0M880.6 228.2h0M880.9 229.9h0M881.8 228.5h0M882.3 230.0h0M882.6 231.5h0M882.7 229.8h0M883.3 232.1h0M883.9 228.5h0M884.1 231.7h0M884.9 229.9h0M885.9 228.2h0M887.0 229.3h0M887.9 230.6h0M888.7 232.7h0M890.2 232.8h0M890.5 231.2h0M890.7 232.8h0M891.0 231.2h0M892.0 229.8h0M892.2 232.6h0M892.6 230.8h0M892.9 233.5h0M893.1 235.1h0M893.4 232.2h0M894.2 233.5h0M894.3 231.9h0M894.9 233.5h0M895.1 230.1h0M895.2 232.4h0M895.8 231.1h0M896.6 229.1h0M896.8 231.0h0M896.9 229.2h0M897.2 226.9h0M897.5 230.1h0M897.7 228.0h0" fill="none" stroke="#c0c0c0" stroke-width="18.6" stroke-linecap="round"/>
<polyline points="157.6,548.5 158.7,547.0 160.2,545.3 160.4,548.0 160.5,545.9 161.6,547.4 161.7,545.8 162.1,544.2 162.2,545.7 162.4,547.3 162.7,545.4 163.0,547.2 163.1,545.1 163.4,547.3 163.7,545.1 164.0,547.8 164.2,546.1 164.6,547.7 165.1,545.5 166.5,546.9 167.5,545.8 168.2,548.4 168.3,546.2 168.5,548.2 168.6,545.0 168.9,548.9 169.1,546.1 169.5,548.5 169.8,545.4 170.1,543.3 170.3,545.6 170.4,547.3 170.6,543.7 170.8,546.8 171.2,545.0 171.5,547.0 172.0,545.5 172.9,543.9 173.2,546.1 174.1,548.2 174.4,546.6 175.3,548.4 175.6,545.9 175.8,547.6 176.2,549.3 176.7,547.4 177.0,550.7 177.3,547.7 177.6,549.2 178.2,547.7 178.5,549.7 179.5,547.7 179.8,549.2 179.9,547.1 180.1,550.5 180.2,547.2 180.5,549.5 181.0,545.7 181.1,548.4 181.3,546.4 181.4,548.1 182.7,549.9 183.9,548.5 184.3,546.5 185.1,578.6 185.3,643.6 185.4,697.8 185.6,738.3 185.7,768.0 185.9,792.1 186.0,810.1 186.2,826.1 186.3,834.3 186.5,844.0 186.8,845.5 187.4,846.9 187.5,845.1 187.7,847.1 188.2,849.0 189.1,850.8 189.5,852.9 190.0,854.7 190.3,853.1 190.6,855.3 191.1,859.0 191.2,856.1 191.4,859.6 191.8,856.9 192.0,859.4 192.7,862.3 193.0,864.7 193.2,863.0 193.3,864.8 193.5,863.1 193.8,866.4 194.9,868.0 195.0,870.3 195.9,868.9 196.1,870.4 196.7,866.6 196.8,868.5 197.2,865.3 197.3,860.4 197.5,852.2 197.6,846.4 197.8,835.1 197.9,825.3 198.1,809.3 198.2,792.0 198.4,771.1 198.5,747.0 198.7,723.5 198.8,696.8 199.0,672.4 199.1,652.4 199.3,640.8 199.4,628.7 199.6,621.7 199.7,615.8 199.9,608.7 200.1,603.5 200.4,598.9 200.5,596.2 200.7,593.2 200.8,591.2 201.1,588.4 201.3,585.2 201.4,581.4 201.9,578.0 202.0,575.8 202.5,572.4 202.8,570.5 203.1,567.8 203.6,564.3 204.3,560.9 204.9,563.1 205.2,559.5 205.4,561.7 205.5,558.2 205.9,559.9 206.0,557.0 206.3,559.0 206.5,556.5 207.5,553.5 207.7,555.0 207.8,551.3 208.0,553.1 208.6,551.1 209.8,554.1 210.0,549.3 210.3,551.7 210.9,548.8 211.5,546.7 212.0,548.3 212.1,545.9 212.3,548.0 212.4,546.1 212.9,548.1 213.0,545.5 213.2,547.1 213.8,545.6 213.9,547.4 214.1,545.6 214.4,547.6 214.6,549.2 214.7,547.5 215.8,548.6 215.9,546.8 216.1,549.6 216.2,547.6 217.3,548.9 217.9,546.8 218.2,548.4 219.4,547.2 219.7,548.7 220.2,550.2 220.8,547.8 221.1,549.6 221.3,548.0 222.5,549.3 222.6,547.1 222.8,548.8 223.6,544.9 223.7,546.4 223.9,548.3 224.0,545.9 224.2,547.5 225.1,549.2 225.2,546.9 225.7,548.9 225.8,547.3 226.5,545.4 227.2,544.0 228.4,546.2 228.6,544.5 229.5,543.1 229.7,545.6 231.2,545.7 231.6,543.2 231.8,547.0 232.1,544.5 232.9,548.1 233.8,546.2 234.1,548.0 234.4,545.5 234.5,548.1 235.5,546.9 236.4,548.6 236.7,550.7 236.8,548.2 237.0,550.0 237.6,547.7 237.9,549.2 238.1,546.9 238.7,548.5 238.8,546.1 239.0,548.7 239.4,544.4 239.6,546.4 240.2,544.6 240.8,542.6 241.3,544.2 241.7,585.2 241.9,629.7 242.0,668.3 242.2,694.9 242.3,724.8 242.5,751.5 242.6,772.9 242.8,795.9 242.9,813.0 243.1,825.7 243.2,828.8 243.4,830.9 243.6,835.4 244.0,840.3 244.3,843.7 244.6,845.7 244.8,849.1 245.1,851.3 245.5,853.4 245.8,856.5 246.1,859.5 246.8,862.3 246.9,859.9 247.1,863.7 247.2,861.5 247.5,865.7 247.8,862.9 248.0,864.5 248.9,863.0 249.5,864.8 250.1,863.4 250.3,861.0 250.6,863.7 250.7,865.8 250.9,863.8 251.3,861.2 251.5,864.7 251.8,862.9 251.9,865.4 252.3,868.2 252.4,863.0 252.6,864.7 253.0,866.9 253.9,868.3 254.2,865.4 254.4,869.3 254.5,867.1 255.0,868.7 255.2,867.2 255.3,868.9 255.6,866.4 255.8,863.6 255.9,866.5 256.1,864.5 256.5,862.6 256.7,861.0 257.1,859.5 257.3,857.1 257.7,853.6 257.9,850.6 258.1,852.8 258.2,849.3 258.4,847.5 258.7,844.1 258.8,842.4 259.1,839.6 259.4,837.6 259.7,833.5 259.9,831.9 260.0,829.3 260.3,825.9 260.5,823.3 260.8,817.9 261.0,815.0 261.1,810.3 261.3,806.7 261.4,804.5 261.6,801.5 261.7,796.4 261.9,792.4 262.0,789.8 262.2,783.8 262.3,778.9 262.5,773.8 262.6,767.3 262.8,763.2 262.9,757.3 263.1,750.1 263.2,743.5 263.4,732.7 263.5,728.2 263.7,718.9 263.8,711.5 264.0,700.0 264.2,692.1 264.3,684.0 264.5,674.5 264.6,666.7 264.8,659.8 264.9,654.1 265.1,647.3 265.2,640.5 265.4,637.0 265.5,633.1 265.7,627.3 265.8,624.0 266.0,620.4 266.1,615.6 266.3,612.1 266.4,608.1 266.6,606.1 266.7,603.6 266.9,599.5 267.1,597.8 267.4,593.3 267.7,590.8 267.8,588.4 268.1,586.2 268.3,584.1 268.6,581.8 268.9,579.5 269.2,576.5 269.6,574.5 270.1,571.0 270.4,572.8 270.7,569.5 271.8,568.3 271.9,569.9 272.1,566.3 272.2,568.8 272.7,567.3 273.2,565.8 273.8,562.7 274.1,564.8 274.5,563.0 274.7,565.7 275.1,563.7 276.2,565.3 276.5,563.4 276.8,565.2 277.0,563.2 277.1,565.0 277.4,562.5 277.6,564.3 278.0,561.4 278.2,564.2 279.0,562.0 279.1,563.6 279.7,562.0 280.0,564.1 280.3,561.9 280.5,563.6 280.6,565.9 280.8,562.4 280.9,566.3 281.9,567.6 282.0,564.9 282.5,566.3 283.7,564.3 285.1,561.8 285.2,564.2 285.4,562.6 285.5,564.8 285.8,563.1 286.0,565.3 286.6,563.6 286.7,565.4 286.9,562.6 287.5,564.6 287.8,562.8 288.0,560.5 288.3,563.1 288.6,560.9 289.2,559.4 289.3,562.5 289.5,560.9 290.7,562.2 291.0,560.3 291.2,563.0 292.5,562.3 293.6,561.1 294.5,564.6 294.7,560.9 295.0,563.2 295.1,561.3 295.6,563.4 295.7,561.3 295.9,564.3 296.2,562.6 297.0,561.3 297.1,562.9 297.3,560.5 297.7,562.1 298.2,564.5 298.3,561.8 298.5,563.6 298.6,561.9 300.2,561.7 300.5,565.6 300.8,562.3 301.1,563.9 302.2,562.8 303.2,561.2 303.7,563.2 304.0,559.8 304.3,561.6 304.8,559.8 305.4,561.2 305.8,597.4 306.0,650.6 306.1,692.6 306.3,729.3 306.4,758.5 306.6,783.2 306.7,802.0 306.9,818.5 307.0,831.4 307.2,833.8 307.3,836.4 307.7,839.8 308.0,841.5 308.1,844.1 309.0,846.9 309.5,848.4 309.9,850.1 310.2,852.4 310.7,850.5 310.9,853.5 311.3,855.2 312.1,856.5 312.8,858.0 313.5,859.4 314.2,858.0 314.4,859.9 314.5,857.7 315.9,856.1 316.2,857.6 316.4,854.1 316.5,856.3 317.4,853.7 317.7,855.7 317.9,853.0 318.0,854.5 318.2,856.5 318.3,854.6 318.5,856.4 319.4,855.0 319.6,857.8 319.7,855.9 320.3,858.8 320.8,855.9 322.2,855.0 322.6,857.6 322.8,856.0 323.7,853.1 323.8,855.3 325.4,854.9 326.6,852.6 326.9,854.1 327.0,852.4 327.6,853.9 328.4,856.1 328.6,851.7 328.7,853.6 329.2,851.9 329.3,854.2 329.9,856.4 330.1,854.7 331.3,852.2 331.8,855.8 331.9,853.9 333.1,851.2 333.3,853.1 334.5,854.2 334.7,851.7 335.4,853.2 336.5,854.3 336.6,856.0 336.8,853.9 337.1,856.2 337.6,858.1 337.9,855.6 338.9,853.7 339.4,855.4 340.3,853.3 340.6,851.3 340.8,854.1 340.9,851.7 341.2,853.4 341.8,851.5 342.0,853.7 342.3,855.9 342.4,854.3 343.4,857.0 343.5,854.1 343.7,856.1 343.8,854.1 344.1,856.6 344.6,854.7 344.9,856.5 345.0,853.3 346.6,853.4 347.5,851.2 347.6,852.8 348.6,854.9 348.9,852.5 349.0,854.1 349.9,851.9 350.5,849.4 350.8,846.2 351.0,848.1 351.1,846.2 351.5,844.0 351.6,840.1 351.8,837.7 351.9,832.7 352.1,828.6 352.4,824.1 352.5,820.4 352.7,815.7 352.8,813.4 353.0,809.1 353.1,807.2 353.3,797.9 353.4,795.4 353.6,793.5 353.7,789.4 353.9,784.9 354.0,780.3 354.2,775.7 354.4,773.9 354.5,769.3 354.7,764.4 354.8,760.5 355.0,757.9 355.1,751.3 355.3,747.3 355.4,744.4 355.6,739.6 355.7,737.7 355.9,733.7 356.0,730.1 356.2,725.5 356.3,721.8 356.5,719.7 356.6,714.2 356.8,712.0 356.9,709.8 357.1,706.8 357.4,702.1 357.7,698.3 357.9,694.3 358.0,691.1 358.2,693.1 358.3,689.1 358.5,686.9 358.6,683.6 358.8,680.7 359.1,675.9 359.2,674.3 359.4,672.4 359.5,669.2 359.7,667.3 359.8,665.0 360.0,662.8 360.3,659.0 360.6,653.9 360.8,652.1 360.9,650.1 361.1,647.1 361.4,643.5 361.5,641.9 361.8,639.9 362.0,637.1 362.4,634.6 362.6,632.5 362.7,629.7 363.1,627.0 363.5,624.1 363.8,621.0 364.4,619.4 364.6,616.3 364.7,619.8 364.9,617.7 365.0,615.5 365.2,617.0 365.3,615.2 365.8,612.9 366.4,615.9 366.6,611.7 367.3,609.6 367.5,612.1 367.6,610.0 367.9,608.3 368.7,609.7 369.0,606.0 369.5,604.3 370.1,602.4 371.0,600.9 371.3,603.1 371.4,601.1 371.8,602.8 372.8,604.3 373.1,602.6 373.4,605.1 373.6,603.2 374.8,602.2 375.0,603.7 375.1,602.1 375.6,600.2 375.7,602.0 376.2,600.3 377.4,599.0 377.7,601.0 377.9,598.0 378.2,600.3 378.6,598.7 378.9,600.4 379.1,602.7 379.2,600.7 380.1,602.6 380.3,600.9 380.5,604.0 380.9,602.4 381.4,604.5 382.4,602.1 383.0,598.8 383.2,602.7 383.4,600.4 384.4,598.4 384.6,600.5 384.7,597.4 384.9,599.6 385.2,597.6 385.3,599.6 385.6,597.2 385.8,599.6 386.3,597.6 386.4,600.1 387.5,598.8 387.9,600.3 388.1,602.2 388.4,600.0 389.8,599.0 389.9,600.5 390.1,597.2 391.3,594.9 391.6,598.0 391.7,595.5 392.8,596.7 393.4,594.7 393.7,596.7 393.9,595.0 394.0,597.3 394.2,595.5 394.6,598.4 394.8,594.7 396.3,594.3 397.5,593.4 397.7,596.3 398.2,593.4 398.5,595.9 399.2,593.7 399.4,598.9 399.5,596.0 401.1,595.3 401.7,593.4 402.1,595.0 402.9,596.6 403.2,595.0 403.5,593.1 404.0,595.0 404.3,592.8 405.0,594.1 405.2,591.3 405.3,593.8 405.6,591.8 405.9,594.7 406.1,592.1 406.2,593.7 407.2,596.1 407.3,591.8 407.5,595.0 407.8,592.8 407.9,595.2 408.5,593.0 409.3,591.3 410.2,590.0 410.5,592.3 410.8,589.6 411.1,592.6 412.0,590.7 412.3,593.0 413.3,591.3 414.2,593.6 414.9,591.4 415.4,592.9 415.9,590.5 416.0,593.1 416.2,590.6 417.2,589.5 417.5,591.0 417.7,589.2 418.0,587.6 418.5,589.7 419.2,591.1 420.1,593.0 420.3,589.1 420.4,591.1 421.2,593.0 421.4,590.3 421.8,592.0 422.3,594.2 422.4,592.4 422.7,595.3 423.0,591.4 423.2,593.6 423.9,592.0 424.7,589.2 425.0,591.5 425.2,588.5 425.5,590.1 426.1,588.2 426.5,591.0 426.7,589.1 427.0,587.6 427.2,589.8 427.3,587.6 427.6,590.4 428.2,588.8 428.4,590.6 429.0,592.1 429.3,590.0 430.2,588.5 431.0,586.9 431.3,589.0 431.4,586.3 431.6,588.4 431.7,586.3 432.3,584.9 432.8,586.4 434.0,585.4 434.2,587.9 434.5,584.9 434.6,586.6 434.8,588.4 435.1,586.8 436.0,589.0 436.2,584.4 436.5,587.9 437.4,586.5 437.5,584.8 437.8,587.0 438.1,585.4 438.3,587.3 438.4,585.8 439.5,587.4 439.7,582.9 440.0,584.6 440.9,586.0 441.0,584.5 442.6,583.8 442.9,582.2 443.8,584.0 444.1,582.1 445.2,583.4 446.1,581.4 446.2,583.8 447.6,584.5 447.8,582.9 448.5,584.4 448.7,582.2 448.8,584.4 449.7,585.9 449.9,582.4 450.0,584.0 450.4,582.3 450.5,584.0 451.3,581.2 451.6,584.1 451.9,581.5 452.6,580.2 452.9,582.2 453.1,579.8 453.4,583.3 453.6,580.6 455.1,581.1 455.4,579.3 455.7,577.7 455.8,579.7 456.2,577.9 456.3,580.0 457.1,578.1 457.5,580.1 457.7,581.8 458.3,579.0 458.4,581.4 459.8,580.4 460.0,582.2 460.1,580.5 461.0,578.8 461.3,577.2 462.6,579.3 462.9,575.9 463.0,578.9 463.2,575.8 463.5,577.8 464.4,579.0 464.7,577.1 465.8,578.3 465.9,576.2 466.1,573.2 466.4,575.4 467.3,573.7 468.5,576.0 469.0,574.0 469.6,575.5 470.5,572.0 470.7,576.0 471.6,574.8 472.9,575.6 473.5,574.3 474.5,576.3 474.6,572.6 475.4,571.2 476.0,568.9 476.8,570.5 477.1,568.9 478.3,570.1 479.2,572.8 480.1,574.5 480.3,571.5 480.9,573.4 481.0,571.4 481.3,569.5 481.5,572.1 481.6,570.1 482.4,571.5 482.6,569.2 483.3,570.8 483.6,568.9 485.0,569.7 485.1,567.5 485.3,570.0 485.8,567.7 485.9,571.7 486.1,569.6 486.2,567.9 486.4,570.5 486.7,568.5 486.8,570.1 487.1,567.5 487.6,569.6 487.7,567.3 487.9,569.1 488.2,566.7 488.4,568.8 488.5,566.5 489.1,568.7 489.3,566.7 489.6,570.0 489.9,568.0 490.2,571.1 490.3,568.0 490.5,570.4 491.3,568.4 491.6,570.5 491.7,568.7 492.2,566.7 492.5,569.5 492.9,567.3 493.8,565.9 494.5,569.9 494.6,566.7 494.9,569.2 495.1,566.5 495.4,568.4 496.0,566.7 496.4,568.4 497.2,565.3 497.4,567.7 498.6,568.9 498.9,567.2 499.2,569.2 499.3,567.1 499.5,568.7 499.6,566.9 499.8,570.4 500.3,568.6 500.7,570.9 501.0,568.7 501.2,570.7 501.5,567.9 501.9,569.8 502.1,567.5 502.2,569.6 502.5,565.3 502.9,569.8 503.0,566.1 503.6,564.6 504.2,566.1 504.4,564.2 504.7,566.3 505.0,563.8 505.3,568.6 505.4,565.9 506.4,568.0 506.5,565.3 506.8,567.5 507.0,565.7 508.0,563.7 508.2,565.7 508.5,563.7 508.8,562.2 509.0,565.5 509.3,562.3 509.6,560.8 509.9,564.8 510.3,562.6 510.8,564.3 511.4,562.5 512.3,564.8 512.6,561.7 513.1,563.9 513.8,562.5 515.1,564.4 515.2,562.8 515.8,560.7 516.1,562.5 516.3,560.9 516.4,562.9 516.6,561.2 516.7,559.5 516.9,561.5 517.5,559.4 518.6,560.8 518.7,557.6 518.9,560.1 519.2,557.9 519.3,559.9 519.8,557.9 519.9,560.2 520.4,562.3 520.6,559.3 521.2,561.2 521.3,559.7 521.9,562.1 522.1,560.1 523.2,561.3 523.3,559.6 524.4,561.2 524.5,558.8 524.7,556.6 525.1,558.6 525.6,555.8 525.9,557.3 526.4,558.9 526.5,556.1 526.8,559.0 527.1,557.3 527.4,559.4 527.6,557.9 527.7,559.8 528.2,557.1 528.3,561.4 528.5,559.4 530.0,558.1 530.2,559.7 530.6,558.2 531.1,559.8 532.3,558.0 532.6,559.8 532.8,561.3 534.0,563.0 534.1,575.8 534.3,597.3 534.4,631.3 534.6,674.3 534.8,716.9 534.9,750.9 535.1,775.7 535.2,792.0 535.4,806.4 535.5,820.4 535.7,827.9 535.8,831.6 536.0,834.7 536.1,836.9 536.4,839.0 536.6,840.8 537.0,842.5 537.3,845.6 537.7,849.7 537.8,847.5 538.0,850.4 538.3,853.0 538.6,850.8 538.7,854.8 539.0,856.5 539.5,858.1 539.9,860.2 540.7,863.1 541.3,865.2 542.2,867.3 542.5,865.8 542.7,867.5 544.1,865.2 544.2,867.9 544.8,866.4 545.1,864.9 545.7,866.6 545.9,864.7 546.7,863.1 546.8,866.2 547.0,864.5 547.9,866.0 548.5,867.8 548.8,866.1 549.4,867.9 549.7,865.6 550.0,867.1 551.2,866.2 551.4,868.4 551.7,865.5 552.0,867.1 552.5,864.9 552.8,868.2 552.9,863.8 553.1,866.9 553.2,864.0 554.4,861.4 554.9,863.0 555.5,859.2 555.7,862.4 556.4,860.6 556.7,862.1 556.9,860.5 557.5,862.1 557.9,860.6 559.0,861.9 559.5,860.0 559.6,858.3 559.8,860.1 560.1,857.8 560.7,860.0 561.0,857.5 561.2,859.3 561.8,857.8 562.1,855.8 562.2,858.5 562.8,856.2 563.0,858.4 563.1,856.4 563.6,859.1 564.1,855.5 564.2,857.4 564.7,855.2 564.8,857.8 565.6,854.8 565.7,856.9 566.3,853.9 566.5,855.5 568.0,855.7 569.1,858.2 569.2,856.0 570.5,854.6 570.6,856.6 570.8,855.0 571.2,856.5 571.5,854.1 571.8,855.7 572.3,852.8 572.6,854.5 573.4,852.4 573.7,855.4 573.8,852.2 574.0,856.3 574.3,852.8 574.4,854.5 574.7,852.6 575.0,855.5 575.2,853.6 575.3,852.0 575.5,854.9 576.0,853.3 576.3,851.4 576.4,853.8 576.7,851.3 577.5,854.2 578.2,852.8 578.9,854.4 579.0,852.0 579.3,855.0 579.5,853.1 580.1,854.4 580.4,852.3 580.5,854.3 580.8,852.6 581.5,851.0 581.6,855.5 581.8,853.3 582.2,855.2 582.8,852.4 583.1,855.7 583.6,852.8 583.7,856.2 583.9,853.7 584.4,851.8 584.5,854.2 584.8,852.5 585.0,856.1 585.1,852.8 585.3,854.6 585.6,851.2 585.7,853.0 585.9,851.5 587.1,850.2 587.3,851.7 587.7,848.4 588.2,850.2 588.8,852.1 589.4,849.6 589.7,851.4 590.0,853.9 590.2,849.2 590.3,851.3 590.6,852.9 590.9,850.3 591.2,852.6 592.3,851.2 592.6,853.2 592.7,851.6 593.1,849.5 593.2,851.4 593.5,853.0 594.7,854.8 596.1,855.6 596.9,852.6 597.2,854.5 597.3,852.3 598.7,851.5 599.0,849.3 599.2,851.9 599.6,850.0 600.4,851.3 601.4,853.0 601.6,850.5 601.8,852.1 602.1,849.7 602.4,851.8 603.0,848.6 603.3,850.1 604.0,852.0 604.5,850.5 604.8,852.4 605.0,849.8 605.1,854.0 605.9,852.0 606.2,855.3 606.3,853.0 607.9,854.1 608.0,852.1 608.6,853.6 608.9,851.6 609.4,849.9 609.5,852.5 610.0,851.0 610.8,849.4 612.0,848.3 612.4,849.8 612.6,847.8 613.0,850.7 613.3,848.9 614.4,851.3 614.7,848.4 614.9,850.1 615.6,848.5 616.9,850.3 617.0,848.5 617.5,846.2 618.1,848.4 618.2,846.0 618.5,848.1 618.7,846.2 619.0,847.8 619.1,846.2 619.3,848.1 619.8,846.5 620.1,848.4 620.2,845.7 621.0,844.1 621.4,842.7 622.2,840.4 622.4,842.7 622.5,838.6 622.7,840.7 622.8,838.7 623.1,836.5 623.6,833.8 624.2,831.5 624.8,827.8 625.1,824.2 625.6,822.0 625.9,819.8 626.2,817.1 626.5,813.0 626.8,809.1 626.9,806.8 627.1,803.6 627.2,799.9 627.4,794.7 627.5,791.0 627.7,787.0 627.8,783.9 628.0,780.1 628.2,774.1 628.3,770.9 628.6,765.6 628.9,759.7 629.1,757.8 629.2,754.7 629.4,750.3 629.7,746.9 629.8,743.5 630.0,738.5 630.3,735.9 630.4,734.1 630.6,730.1 630.7,726.1 631.2,721.4 631.5,717.8 631.8,713.0 632.1,711.3 632.3,708.0 632.4,710.9 632.6,707.2 632.7,704.1 633.0,701.8 633.5,699.2 633.8,696.9 634.3,695.3 634.4,692.8 634.9,688.9 635.3,687.0 635.8,685.1 636.4,683.2 636.7,681.2 636.9,682.8 637.0,681.2 637.3,677.6 637.5,680.3 638.5,677.9 639.6,676.8 640.8,675.2 641.3,676.9 641.7,673.9 642.0,675.9 642.3,674.0 643.0,672.4 643.1,670.6 643.7,668.7 643.9,670.9 644.2,668.2 644.6,670.1 644.8,666.7 645.2,669.5 645.4,666.7 645.7,668.8 646.0,667.2 647.5,667.3 648.3,665.9 649.2,663.7 649.4,665.8 650.3,663.7 650.6,666.2 651.4,667.7 651.5,665.0 652.0,667.6 652.9,665.6 653.5,664.1 653.6,665.9 654.1,664.3 654.6,666.2 654.7,663.9 655.5,662.1 655.8,664.0 656.1,662.1 656.2,665.5 656.5,663.2 656.7,664.8 657.2,662.5 657.3,664.6 657.6,662.8 657.8,664.7 657.9,662.9 658.1,664.6 658.4,662.9 658.5,665.3 658.8,663.8 659.0,662.0 660.2,663.3 661.6,664.8 662.5,666.8 662.8,664.5 663.3,668.0 663.4,665.0 663.7,666.6 664.5,664.0 664.6,665.5 665.1,662.4 665.5,660.9 666.2,659.3 666.3,662.1 666.5,659.7 666.6,657.5 668.1,658.0 668.3,655.9 668.6,658.2 669.1,656.6 669.2,658.7 669.5,657.1 670.1,658.8 670.7,657.3 672.1,658.3 672.4,655.7 672.6,657.3 672.7,658.8 673.8,657.0 673.9,658.9 675.2,657.1 675.3,659.1 675.5,657.2 676.4,655.8 676.8,657.3 678.4,657.8 678.5,656.0 678.8,654.4 680.3,653.3 680.7,655.2 681.0,653.2 681.9,656.1 682.0,653.2 682.2,655.7 682.5,653.7 683.1,655.2 683.2,653.1 683.4,656.1 683.7,654.3 684.0,657.0 684.2,653.7 684.3,655.6 684.6,653.9 684.8,656.3 684.9,653.4 685.5,655.7 685.7,652.8 685.8,655.8 686.0,653.8 686.5,652.1 687.1,653.8 687.2,650.6 688.1,652.7 688.3,650.8 688.7,652.9 688.9,650.4 689.4,651.9 690.0,653.4 690.4,651.8 690.9,649.7 691.3,651.5 691.5,649.2 691.6,651.7 691.8,649.9 691.9,648.0 692.1,650.2 692.4,648.6 693.2,650.0 693.3,647.8 693.6,651.1 693.8,647.7 693.9,649.6 694.1,647.9 694.4,649.9 694.5,648.4 694.7,646.8 695.9,645.3 696.4,643.7 697.0,646.1 697.1,642.5 697.3,645.3 697.4,642.7 697.7,645.0 699.1,646.2 699.3,641.3 699.4,645.1 699.7,643.0 699.9,645.1 700.6,646.5 700.8,643.7 701.4,645.3 701.9,641.7 702.0,643.8 703.5,643.8 704.8,645.0 704.9,642.6 706.0,641.3 706.3,643.8 706.4,641.9 707.5,643.7 708.0,642.2 708.6,646.2 708.7,643.6 709.3,641.4 710.7,639.2 711.0,641.3 711.9,639.0 713.2,637.9 714.1,639.7 714.4,636.6 714.7,639.3 715.0,636.1 715.3,637.9 715.8,636.3 716.2,638.0 717.1,636.1 717.9,638.5 718.0,636.4 718.5,634.7 719.4,632.4 719.6,634.6 720.3,632.6 720.8,634.1 721.1,632.6 721.3,635.0 721.6,633.1 721.9,635.7 722.2,634.0 722.3,631.6 722.5,635.0 722.8,632.5 722.9,630.7 723.1,634.7 723.2,632.5 723.7,634.2 724.3,632.6 725.1,630.9 725.5,633.1 725.7,630.8 725.8,634.3 726.0,632.4 726.3,630.8 726.6,633.7 726.7,632.0 726.9,630.1 727.1,632.5 727.4,630.7 727.7,632.3 727.8,627.9 728.0,631.4 728.1,629.2 729.0,627.2 729.8,625.6 730.1,627.4 730.3,624.5 731.3,628.3 731.6,626.1 732.1,628.5 732.2,626.7 733.6,628.1 733.9,625.5 734.1,627.8 734.8,629.8 735.0,625.9 735.1,629.1 735.3,627.4 735.4,629.0 735.8,630.9 736.1,628.9 736.2,630.8 736.7,627.5 736.8,630.4 737.0,627.2 737.1,630.5 737.4,629.0 738.3,627.6 739.0,626.0 739.6,624.5 739.9,622.7 740.9,624.1 741.2,622.2 741.7,624.8 741.9,622.9 742.3,626.5 742.5,622.2 743.1,625.3 743.2,623.4 743.7,624.8 744.3,620.6 744.5,624.9 745.1,621.8 745.2,624.8 745.4,622.7 746.3,621.2 746.4,623.8 746.6,622.2 746.7,624.1 746.9,622.5 747.4,619.7 747.5,621.2 748.0,623.1 748.1,619.6 749.0,620.8 749.2,619.2 749.5,616.2 749.9,618.6 750.1,617.0 750.9,618.5 751.2,617.0 751.6,615.4 752.1,617.8 752.4,614.8 752.5,617.0 752.7,619.6 752.8,616.2 753.5,618.6 753.6,616.6 755.1,616.9 755.6,618.6 756.0,615.1 756.8,616.9 757.0,613.9 757.6,612.2 757.7,616.6 757.9,614.3 758.3,612.8 758.5,615.4 759.6,614.0 759.7,618.1 759.9,614.3 760.0,617.1 760.2,614.9 760.8,616.6 761.5,613.9 762.6,616.3 762.9,614.1 764.1,616.5 764.3,611.7 764.4,614.2 765.2,612.1 765.7,613.6 766.3,610.8 767.2,608.7 767.8,606.4 768.0,608.8 768.3,607.3 768.6,609.1 768.9,606.9 769.2,609.9 769.3,608.3 769.5,610.6 769.6,607.5 769.8,610.4 769.9,608.8 770.7,610.4 771.0,606.7 771.2,609.5 771.6,606.3 771.8,609.9 772.2,608.0 772.7,610.2 772.8,607.8 773.3,610.1 773.4,608.4 773.8,611.8 773.9,609.2 774.4,607.5 774.5,606.0 774.7,608.4 775.1,605.4 775.3,608.3 775.7,606.1 776.5,604.3 776.7,606.0 777.0,603.3 777.1,604.9 777.6,606.7 777.7,604.9 778.9,601.3 779.1,603.4 780.3,601.4 780.6,603.9 780.8,600.2 780.9,602.4 781.4,600.8 781.8,598.9 782.3,596.8 782.5,601.0 782.6,599.3 784.1,599.9 784.6,602.6 784.9,600.6 785.4,602.7 785.8,600.0 786.0,602.3 786.1,600.1 786.3,602.8 786.4,601.0 786.9,598.3 787.0,600.0 787.8,597.5 787.9,599.4 789.3,600.2 789.5,598.0 790.1,600.0 790.5,602.0 790.7,599.2 791.3,597.3 791.6,599.2 792.4,597.2 793.1,599.0 793.4,596.8 793.6,594.4 793.7,596.7 794.7,598.2 795.0,596.4 795.3,598.0 796.8,597.3 797.6,594.0 797.7,595.7 797.9,593.6 798.0,592.1 798.2,594.0 798.3,595.6 798.6,593.9 798.8,592.1 800.2,590.0 800.3,591.7 801.4,590.2 801.5,593.0 802.4,591.4 803.7,590.4 804.1,586.0 804.3,589.7 805.2,587.2 805.3,590.6 805.5,587.6 806.9,585.9 807.2,587.4 807.9,584.4 808.1,586.2 808.6,587.6 809.0,589.6 809.2,586.5 809.9,587.8 810.2,589.8 810.4,587.8 810.7,589.9 811.3,586.7 811.6,588.4 811.9,590.4 812.2,588.0 813.3,589.8 813.4,587.8 814.0,585.6 814.4,587.2 814.7,585.4 815.4,583.0 816.2,581.0 816.5,582.9 816.8,581.4 817.1,583.7 817.3,578.8 817.4,580.4 817.6,583.0 818.8,584.7 818.9,583.1 819.1,585.3 819.7,587.5 819.8,585.6 820.8,584.4 821.5,585.9 822.3,582.1 822.9,583.9 823.2,580.8 823.4,584.7 823.7,582.5 824.1,580.9 824.4,582.4 824.6,579.9 824.7,581.9 825.5,580.1 826.1,577.9 826.7,580.0 827.0,577.9 827.2,579.4 828.4,582.0 828.5,578.4 829.5,580.8 829.8,578.4 830.8,580.4 831.1,577.9 831.7,579.9 832.1,578.2 832.7,575.9 833.0,578.8 833.3,577.0 833.4,579.4 834.0,577.7 834.6,579.2 834.8,576.7 835.4,579.3 835.6,576.2 836.0,578.6 836.3,576.7 836.6,578.4 837.7,579.8 837.9,576.7 838.2,578.1 838.5,576.5 839.5,574.8 839.7,577.2 839.8,575.5 840.6,573.9 840.8,576.4 840.9,574.2 841.5,576.4 841.7,573.4 841.8,575.0 842.0,573.5 842.1,575.5 842.3,573.8 843.8,572.2 844.0,574.2 845.3,575.4 845.9,573.9 846.4,571.6 847.0,574.0 847.2,571.1 847.5,567.9 847.6,571.7 847.9,569.7 848.1,571.8 848.5,573.4 849.9,574.3 850.1,572.4 850.8,570.3 851.1,571.8 851.4,569.7 851.6,571.3 852.0,569.0 852.4,567.5 852.5,570.2 852.8,567.1 853.4,570.0 853.6,568.0 853.7,569.6 854.2,567.3 854.3,569.3 854.6,567.0 854.9,569.9 855.1,567.9 855.3,569.8 856.3,566.8 856.5,569.0 856.6,571.3 856.8,568.9 857.2,572.1 857.4,569.9 857.5,571.6 858.5,570.3 858.9,567.4 859.2,569.1 859.7,567.0 860.0,565.2 860.3,567.0 860.9,564.7 861.8,566.1 862.4,563.3 862.7,565.0 863.5,562.3 863.6,564.6 864.3,563.0 864.7,565.3 865.3,563.1 866.4,564.5 866.7,561.1 866.9,564.5 867.0,566.3 868.5,566.5 869.3,564.3 869.4,566.9 869.6,562.8 869.8,565.0 870.5,563.4 870.8,560.9 871.0,563.0 871.4,564.5 872.0,562.9 872.2,564.9 873.4,564.0 873.7,565.5 874.3,563.3 874.5,565.5 874.6,562.5 874.9,564.8 875.4,562.5 875.6,564.2 876.0,562.2 876.3,565.3 876.6,563.3 877.7,565.5 877.8,563.4 878.9,561.1 879.1,562.9 879.5,561.4 880.6,564.0 880.7,562.4 881.4,559.9 881.5,561.7 881.8,559.9 882.3,561.7 883.3,560.3 883.6,562.8 883.9,564.3 884.1,560.7 884.4,562.5 885.8,564.8 885.9,562.6 886.7,560.8 887.9,559.4 888.5,557.3 888.7,560.9 888.8,557.2 889.1,558.9 889.9,560.9 890.0,559.0 890.7,560.7 890.8,559.2 892.0,558.1 892.2,556.1 892.3,559.2 892.6,556.9 892.8,559.3 892.9,557.0 893.1,559.3 893.6,557.7 893.7,559.2 894.5,561.1 895.1,559.6 895.7,561.6 896.9,560.3 897.2,562.2 897.7,559.1 898.0,561.6 898.4,559.2" fill="none" stroke="#000" stroke-width="1.4"/>
<path d="M157.6 548.5h0M158.7 547.0h0M160.2 545.3h0M160.4 548.0h0M160.5 545.9h0M161.6 547.4h0M161.7 545.8h0M162.1 544.2h0M162.2 545.7h0M162.4 547.3h0M162.7 545.4h0M163.0 547.2h0M163.1 545.1h0M163.4 547.3h0M163.7 545.1h0M164.0 547.8h0M164.2 546.1h0M164.6 547.7h0M165.1 545.5h0M166.5 546.9h0M167.5 545.8h0M168.2 548.4h0M168.3 546.2h0M168.5 548.2h0M168.6 545.0h0M168.9 548.9h0M169.1 546.1h0M169.5 548.5h0M169.8 545.4h0M170.1 543.3h0M170.3 545.6h0M170.4 547.3h0M170.6 543.7h0M170.8 546.8h0M171.2 545.0h0M171.5 547.0h0M172.0 545.5h0M172.9 543.9h0M173.2 546.1h0M174.1 548.2h0M174.4 546.6h0M175.3 548.4h0M175.6 545.9h0M175.8 547.6h0M176.2 549.3h0M176.7 547.4h0M177.0 550.7h0M177.3 547.7h0M177.6 549.2h0M178.2 547.7h0M178.5 549.7h0M179.5 547.7h0M179.8 549.2h0M179.9 547.1h0M180.1 550.5h0M180.2 547.2h0M180.5 549.5h0M181.0 545.7h0M181.1 548.4h0M181.3 546.4h0M181.4 548.1h0M182.7 549.9h0M183.9 548.5h0M184.3 546.5h0M185.1 578.6h0M185.3 643.6h0M185.4 697.8h0M185.6 738.3h0M185.7 768.0h0M185.9 792.1h0M186.0 810.1h0M186.2 826.1h0M186.3 834.3h0M186.5 844.0h0M186.8 845.5h0M187.4 846.9h0M187.5 845.1h0M187.7 847.1h0M188.2 849.0h0M189.1 850.8h0M189.5 852.9h0M190.0 854.7h0M190.3 853.1h0M190.6 855.3h0M191.1 859.0h0M191.2 856.1h0M191.4 859.6h0M191.8 856.9h0M192.0 859.4h0M192.7 862.3h0M193.0 864.7h0M193.2 863.0h0M193.3 864.8h0M193.5 863.1h0M193.8 866.4h0M194.9 868.0h0M195.0 870.3h0M195.9 868.9h0M196.1 870.4h0M196.7 866.6h0M196.8 868.5h0M197.2 865.3h0M197.3 860.4h0M197.5 852.2h0M197.6 846.4h0M197.8 835.1h0M197.9 825.3h0M198.1 809.3h0M198.2 792.0h0M198.4 771.1h0M198.5 747.0h0M198.7 723.5h0M198.8 696.8h0M199.0 672.4h0M199.1 652.4h0M199.3 640.8h0M199.4 628.7h0M199.6 621.7h0M199.7 615.8h0M199.9 608.7h0M200.1 603.5h0M200.4 598.9h0M200.5 596.2h0M200.7 593.2h0M200.8 591.2h0M201.1 588.4h0M201.3 585.2h0M201.4 581.4h0M201.9 578.0h0M202.0 575.8h0M202.5 572.4h0M202.8 570.5h0M203.1 567.8h0M203.6 564.3h0M204.3 560.9h0M204.9 563.1h0M205.2 559.5h0M205.4 561.7h0M205.5 558.2h0M205.9 559.9h0M206.0 557.0h0M206.3 559.0h0M206.5 556.5h0M207.5 553.5h0M207.7 555.0h0M207.8 551.3h0M208.0 553.1h0M208.6 551.1h0M209.8 554.1h0M210.0 549.3h0M210.3 551.7h0M210.9 548.8h0M211.5 546.7h0M212.0 548.3h0M212.1 545.9h0M212.3 548.0h0M212.4 546.1h0M212.9 548.1h0M213.0 545.5h0M213.2 547.1h0M213.8 545.6h0M213.9 547.4h0M214.1 545.6h0M214.4 547.6h0M214.6 549.2h0M214.7 547.5h0M215.8 548.6h0M215.9 546.8h0M216.1 549.6h0M216.2 547.6h0M217.3 548.9h0M217.9 546.8h0M218.2 548.4h0M219.4 547.2h0M219.7 548.7h0M220.2 550.2h0M220.8 547.8h0M221.1 549.6h0M221.3 548.0h0M222.5 549.3h0M222.6 547.1h0M222.8 548.8h0M223.6 544.9h0M223.7 546.4h0M223.9 548.3h0M224.0 545.9h0M224.2 547.5h0M225.1 549.2h0M225.2 546.9h0M225.7 548.9h0M225.8 547.3h0M226.5 545.4h0M227.2 544.0h0M228.4 546.2h0M228.6 544.5h0M229.5 543.1h0M229.7 545.6h0M231.2 545.7h0M231.6 543.2h0M231.8 547.0h0M232.1 544.5h0M232.9 548.1h0M233.8 546.2h0M234.1 548.0h0M234.4 545.5h0M234.5 548.1h0M235.5 546.9h0M236.4 548.6h0M236.7 550.7h0M236.8 548.2h0M237.0 550.0h0M237.6 547.7h0M237.9 549.2h0M238.1 546.9h0M238.7 548.5h0M238.8 546.1h0M239.0 548.7h0M239.4 544.4h0M239.6 546.4h0M240.2 544.6h0M240.8 542.6h0M241.3 544.2h0M241.7 585.2h0M241.9 629.7h0M242.0 668.3h0M242.2 694.9h0M242.3 724.8h0M242.5 751.5h0M242.6 772.9h0M242.8 795.9h0M242.9 813.0h0M243.1 825.7h0M243.2 828.8h0M243.4 830.9h0M243.6 835.4h0M244.0 840.3h0M244.3 843.7h0M244.6 845.7h0M244.8 849.1h0M245.1 851.3h0M245.5 853.4h0M245.8 856.5h0M246.1 859.5h0M246.8 862.3h0M246.9 859.9h0M247.1 863.7h0M247.2 861.5h0M247.5 865.7h0M247.8 862.9h0M248.0 864.5h0M248.9 863.0h0M249.5 864.8h0M250.1 863.4h0M250.3 861.0h0M250.6 863.7h0M250.7 865.8h0M250.9 863.8h0M251.3 861.2h0M251.5 864.7h0M251.8 862.9h0M251.9 865.4h0M252.3 868.2h0M252.4 863.0h0M252.6 864.7h0M253.0 866.9h0M253.9 868.3h0M254.2 865.4h0M254.4 869.3h0M254.5 867.1h0M255.0 868.7h0M255.2 867.2h0M255.3 868.9h0M255.6 866.4h0M255.8 863.6h0M255.9 866.5h0M256.1 864.5h0M256.5 862.6h0M256.7 861.0h0M257.1 859.5h0M257.3 857.1h0M257.7 853.6h0M257.9 850.6h0M258.1 852.8h0M258.2 849.3h0M258.4 847.5h0M258.7 844.1h0M258.8 842.4h0M259.1 839.6h0M259.4 837.6h0M259.7 833.5h0M259.9 831.9h0M260.0 829.3h0M260.3 825.9h0M260.5 823.3h0M260.8 817.9h0M261.0 815.0h0M261.1 810.3h0M261.3 806.7h0M261.4 804.5h0M261.6 801.5h0M261.7 796.4h0M261.9 792.4h0M262.0 789.8h0M262.2 783.8h0M262.3 778.9h0M262.5 773.8h0M262.6 767.3h0M262.8 763.2h0M262.9 757.3h0M263.1 750.1h0M263.2 743.5h0M263.4 732.7h0M263.5 728.2h0M263.7 718.9h0M263.8 711.5h0M264.0 700.0h0M264.2 692.1h0M264.3 684.0h0M264.5 674.5h0M264.6 666.7h0M264.8 659.8h0M264.9 654.1h0M265.1 647.3h0M265.2 640.5h0M265.4 637.0h0M265.5 633.1h0M265.7 627.3h0M265.8 624.0h0M266.0 620.4h0M266.1 615.6h0M266.3 612.1h0M266.4 608.1h0M266.6 606.1h0M266.7 603.6h0M266.9 599.5h0M267.1 597.8h0M267.4 593.3h0M267.7 590.8h0M267.8 588.4h0M268.1 586.2h0M268.3 584.1h0M268.6 581.8h0M268.9 579.5h0M269.2 576.5h0M269.6 574.5h0M270.1 571.0h0M270.4 572.8h0M270.7 569.5h0M271.8 568.3h0M271.9 569.9h0M272.1 566.3h0M272.2 568.8h0M272.7 567.3h0M273.2 565.8h0M273.8 562.7h0M274.1 564.8h0M274.5 563.0h0M274.7 565.7h0M275.1 563.7h0M276.2 565.3h0M276.5 563.4h0M276.8 565.2h0M277.0 563.2h0M277.1 565.0h0M277.4 562.5h0M277.6 564.3h0M278.0 561.4h0M278.2 564.2h0M279.0 562.0h0M279.1 563.6h0M279.7 562.0h0M280.0 564.1h0M280.3 561.9h0M280.5 563.6h0M280.6 565.9h0M280.8 562.4h0M280.9 566.3h0M281.9 567.6h0M282.0 564.9h0M282.5 566.3h0M283.7 564.3h0M285.1 561.8h0M285.2 564.2h0M285.4 562.6h0M285.5 564.8h0M285.8 563.1h0M286.0 565.3h0M286.6 563.6h0M286.7 565.4h0M286.9 562.6h0M287.5 564.6h0M287.8 562.8h0M288.0 560.5h0M288.3 563.1h0M288.6 560.9h0M289.2 559.4h0M289.3 562.5h0M289.5 560.9h0M290.7 562.2h0M291.0 560.3h0M291.2 563.0h0M292.5 562.3h0M293.6 561.1h0M294.5 564.6h0M294.7 560.9h0M295.0 563.2h0M295.1 561.3h0M295.6 563.4h0M295.7 561.3h0M295.9 564.3h0M296.2 562.6h0M297.0 561.3h0M297.1 562.9h0M297.3 560.5h0M297.7 562.1h0M298.2 564.5h0M298.3 561.8h0M298.5 563.6h0M298.6 561.9h0M300.2 561.7h0M300.5 565.6h0M300.8 562.3h0M301.1 563.9h0M302.2 562.8h0M303.2 561.2h0M303.7 563.2h0M304.0 559.8h0M304.3 561.6h0M304.8 559.8h0M305.4 561.2h0M305.8 597.4h0M306.0 650.6h0M306.1 692.6h0M306.3 729.3h0M306.4 758.5h0M306.6 783.2h0M306.7 802.0h0M306.9 818.5h0M307.0 831.4h0M307.2 833.8h0M307.3 836.4h0M307.7 839.8h0M308.0 841.5h0M308.1 844.1h0M309.0 846.9h0M309.5 848.4h0M309.9 850.1h0M310.2 852.4h0M310.7 850.5h0M310.9 853.5h0M311.3 855.2h0M312.1 856.5h0M312.8 858.0h0M313.5 859.4h0M314.2 858.0h0M314.4 859.9h0M314.5 857.7h0M315.9 856.1h0M316.2 857.6h0M316.4 854.1h0M316.5 856.3h0M317.4 853.7h0M317.7 855.7h0M317.9 853.0h0M318.0 854.5h0M318.2 856.5h0M318.3 854.6h0M318.5 856.4h0M319.4 855.0h0M319.6 857.8h0M319.7 855.9h0M320.3 858.8h0M320.8 855.9h0M322.2 855.0h0M322.6 857.6h0M322.8 856.0h0M323.7 853.1h0M323.8 855.3h0M325.4 854.9h0M326.6 852.6h0M326.9 854.1h0M327.0 852.4h0M327.6 853.9h0M328.4 856.1h0M328.6 851.7h0M328.7 853.6h0M329.2 851.9h0M329.3 854.2h0M329.9 856.4h0M330.1 854.7h0M331.3 852.2h0M331.8 855.8h0M331.9 853.9h0M333.1 851.2h0M333.3 853.1h0M334.5 854.2h0M334.7 851.7h0M335.4 853.2h0M336.5 854.3h0M336.6 856.0h0M336.8 853.9h0M337.1 856.2h0M337.6 858.1h0M337.9 855.6h0M338.9 853.7h0M339.4 855.4h0M340.3 853.3h0M340.6 851.3h0M340.8 854.1h0M340.9 851.7h0M341.2 853.4h0M341.8 851.5h0M342.0 853.7h0M342.3 855.9h0M342.4 854.3h0M343.4 857.0h0M343.5 854.1h0M343.7 856.1h0M343.8 854.1h0M344.1 856.6h0M344.6 854.7h0M344.9 856.5h0M345.0 853.3h0M346.6 853.4h0M347.5 851.2h0M347.6 852.8h0M348.6 854.9h0M348.9 852.5h0M349.0 854.1h0M349.9 851.9h0M350.5 849.4h0M350.8 846.2h0M351.0 848.1h0M351.1 846.2h0M351.5 844.0h0M351.6 840.1h0M351.8 837.7h0M351.9 832.7h0M352.1 828.6h0M352.4 824.1h0M352.5 820.4h0M352.7 815.7h0M352.8 813.4h0M353.0 809.1h0M353.1 807.2h0M353.3 797.9h0M353.4 795.4h0M353.6 793.5h0M353.7 789.4h0M353.9 784.9h0M354.0 780.3h0M354.2 775.7h0M354.4 773.9h0M354.5 769.3h0M354.7 764.4h0M354.8 760.5h0M355.0 757.9h0M355.1 751.3h0M355.3 747.3h0M355.4 744.4h0M355.6 739.6h0M355.7 737.7h0M355.9 733.7h0M356.0 730.1h0M356.2 725.5h0M356.3 721.8h0M356.5 719.7h0M356.6 714.2h0M356.8 712.0h0M356.9 709.8h0M357.1 706.8h0M357.4 702.1h0M357.7 698.3h0M357.9 694.3h0M358.0 691.1h0M358.2 693.1h0M358.3 689.1h0M358.5 686.9h0M358.6 683.6h0M358.8 680.7h0M359.1 675.9h0M359.2 674.3h0M359.4 672.4h0M359.5 669.2h0M359.7 667.3h0M359.8 665.0h0M360.0 662.8h0M360.3 659.0h0M360.6 653.9h0M360.8 652.1h0M360.9 650.1h0M361.1 647.1h0M361.4 643.5h0M361.5 641.9h0M361.8 639.9h0M362.0 637.1h0M362.4 634.6h0M362.6 632.5h0M362.7 629.7h0M363.1 627.0h0M363.5 624.1h0M363.8 621.0h0M364.4 619.4h0M364.6 616.3h0M364.7 619.8h0M364.9 617.7h0M365.0 615.5h0M365.2 617.0h0M365.3 615.2h0M365.8 612.9h0M366.4 615.9h0M366.6 611.7h0M367.3 609.6h0M367.5 612.1h0M367.6 610.0h0M367.9 608.3h0M368.7 609.7h0M369.0 606.0h0M369.5 604.3h0M370.1 602.4h0M371.0 600.9h0M371.3 603.1h0M371.4 601.1h0M371.8 602.8h0M372.8 604.3h0M373.1 602.6h0M373.4 605.1h0M373.6 603.2h0M374.8 602.2h0M375.0 603.7h0M375.1 602.1h0M375.6 600.2h0M375.7 602.0h0M376.2 600.3h0M377.4 599.0h0M377.7 601.0h0M377.9 598.0h0M378.2 600.3h0M378.6 598.7h0M378.9 600.4h0M379.1 602.7h0M379.2 600.7h0M380.1 602.6h0M380.3 600.9h0M380.5 604.0h0M380.9 602.4h0M381.4 604.5h0M382.4 602.1h0M383.0 598.8h0M383.2 602.7h0M383.4 600.4h0M384.4 598.4h0M384.6 600.5h0M384.7 597.4h0M384.9 599.6h0M385.2 597.6h0M385.3 599.6h0M385.6 597.2h0M385.8 599.6h0M386.3 597.6h0M386.4 600.1h0M387.5 598.8h0M387.9 600.3h0M388.1 602.2h0M388.4 600.0h0M389.8 599.0h0M389.9 600.5h0M390.1 597.2h0M391.3 594.9h0M391.6 598.0h0M391.7 595.5h0M392.8 596.7h0M393.4 594.7h0M393.7 596.7h0M393.9 595.0h0M394.0 597.3h0M394.2 595.5h0M394.6 598.4h0M394.8 594.7h0M396.3 594.3h0M397.5 593.4h0M397.7 596.3h0M398.2 593.4h0M398.5 595.9h0M399.2 593.7h0M399.4 598.9h0M399.5 596.0h0M401.1 595.3h0M401.7 593.4h0M402.1 595.0h0M402.9 596.6h0M403.2 595.0h0M403.5 593.1h0M404.0 595.0h0M404.3 592.8h0M405.0 594.1h0M405.2 591.3h0M405.3 593.8h0M405.6 591.8h0M405.9 594.7h0M406.1 592.1h0M406.2 593.7h0M407.2 596.1h0M407.3 591.8h0M407.5 595.0h0M407.8 592.8h0M407.9 595.2h0M408.5 593.0h0M409.3 591.3h0M410.2 590.0h0M410.5 592.3h0M410.8 589.6h0M411.1 592.6h0M412.0 590.7h0M412.3 593.0h0M413.3 591.3h0M414.2 593.6h0M414.9 591.4h0M415.4 592.9h0M415.9 590.5h0M416.0 593.1h0M416.2 590.6h0M417.2 589.5h0M417.5 591.0h0M417.7 589.2h0M418.0 587.6h0M418.5 589.7h0M419.2 591.1h0M420.1 593.0h0M420.3 589.1h0M420.4 591.1h0M421.2 593.0h0M421.4 590.3h0M421.8 592.0h0M422.3 594.2h0M422.4 592.4h0M422.7 595.3h0M423.0 591.4h0M423.2 593.6h0M423.9 592.0h0M424.7 589.2h0M425.0 591.5h0M425.2 588.5h0M425.5 590.1h0M426.1 588.2h0M426.5 591.0h0M426.7 589.1h0M427.0 587.6h0M427.2 589.8h0M427.3 587.6h0M427.6 590.4h0M428.2 588.8h0M428.4 590.6h0M429.0 592.1h0M429.3 590.0h0M430.2 588.5h0M431.0 586.9h0M431.3 589.0h0M431.4 586.3h0M431.6 588.4h0M431.7 586.3h0M432.3 584.9h0M432.8 586.4h0M434.0 585.4h0M434.2 587.9h0M434.5 584.9h0M434.6 586.6h0M434.8 588.4h0M435.1 586.8h0M436.0 589.0h0M436.2 584.4h0M436.5 587.9h0M437.4 586.5h0M437.5 584.8h0M437.8 587.0h0M438.1 585.4h0M438.3 587.3h0M438.4 585.8h0M439.5 587.4h0M439.7 582.9h0M440.0 584.6h0M440.9 586.0h0M441.0 584.5h0M442.6 583.8h0M442.9 582.2h0M443.8 584.0h0M444.1 582.1h0M445.2 583.4h0M446.1 581.4h0M446.2 583.8h0M447.6 584.5h0M447.8 582.9h0M448.5 584.4h0M448.7 582.2h0M448.8 584.4h0M449.7 585.9h0M449.9 582.4h0M450.0 584.0h0M450.4 582.3h0M450.5 584.0h0M451.3 581.2h0M451.6 584.1h0M451.9 581.5h0M452.6 580.2h0M452.9 582.2h0M453.1 579.8h0M453.4 583.3h0M453.6 580.6h0M455.1 581.1h0M455.4 579.3h0M455.7 577.7h0M455.8 579.7h0M456.2 577.9h0M456.3 580.0h0M457.1 578.1h0M457.5 580.1h0M457.7 581.8h0M458.3 579.0h0M458.4 581.4h0M459.8 580.4h0M460.0 582.2h0M460.1 580.5h0M461.0 578.8h0M461.3 577.2h0M462.6 579.3h0M462.9 575.9h0M463.0 578.9h0M463.2 575.8h0M463.5 577.8h0M464.4 579.0h0M464.7 577.1h0M465.8 578.3h0M465.9 576.2h0M466.1 573.2h0M466.4 575.4h0M467.3 573.7h0M468.5 576.0h0M469.0 574.0h0M469.6 575.5h0M470.5 572.0h0M470.7 576.0h0M471.6 574.8h0M472.9 575.6h0M473.5 574.3h0M474.5 576.3h0M474.6 572.6h0M475.4 571.2h0M476.0 568.9h0M476.8 570.5h0M477.1 568.9h0M478.3 570.1h0M479.2 572.8h0M480.1 574.5h0M480.3 571.5h0M480.9 573.4h0M481.0 571.4h0M481.3 569.5h0M481.5 572.1h0M481.6 570.1h0M482.4 571.5h0M482.6 569.2h0M483.3 570.8h0M483.6 568.9h0M485.0 569.7h0M485.1 567.5h0M485.3 570.0h0M485.8 567.7h0M485.9 571.7h0M486.1 569.6h0M486.2 567.9h0M486.4 570.5h0M486.7 568.5h0M486.8 570.1h0M487.1 567.5h0M487.6 569.6h0M487.7 567.3h0M487.9 569.1h0M488.2 566.7h0M488.4 568.8h0M488.5 566.5h0M489.1 568.7h0M489.3 566.7h0M489.6 570.0h0M489.9 568.0h0M490.2 571.1h0M490.3 568.0h0M490.5 570.4h0M491.3 568.4h0M491.6 570.5h0M491.7 568.7h0M492.2 566.7h0M492.5 569.5h0M492.9 567.3h0M493.8 565.9h0M494.5 569.9h0M494.6 566.7h0M494.9 569.2h0M495.1 566.5h0M495.4 568.4h0M496.0 566.7h0M496.4 568.4h0M497.2 565.3h0M497.4 567.7h0M498.6 568.9h0M498.9 567.2h0M499.2 569.2h0M499.3 567.1h0M499.5 568.7h0M499.6 566.9h0M499.8 570.4h0M500.3 568.6h0M500.7 570.9h0M501.0 568.7h0M501.2 570.7h0M501.5 567.9h0M501.9 569.8h0M502.1 567.5h0M502.2 569.6h0M502.5 565.3h0M502.9 569.8h0M503.0 566.1h0M503.6 564.6h0M504.2 566.1h0M504.4 564.2h0M504.7 566.3h0M505.0 563.8h0M505.3 568.6h0M505.4 565.9h0M506.4 568.0h0M506.5 565.3h0M506.8 567.5h0M507.0 565.7h0M508.0 563.7h0M508.2 565.7h0M508.5 563.7h0M508.8 562.2h0M509.0 565.5h0M509.3 562.3h0M509.6 560.8h0M509.9 564.8h0M510.3 562.6h0M510.8 564.3h0M511.4 562.5h0M512.3 564.8h0M512.6 561.7h0M513.1 563.9h0M513.8 562.5h0M515.1 564.4h0M515.2 562.8h0M515.8 560.7h0M516.1 562.5h0M516.3 560.9h0M516.4 562.9h0M516.6 561.2h0M516.7 559.5h0M516.9 561.5h0M517.5 559.4h0M518.6 560.8h0M518.7 557.6h0M518.9 560.1h0M519.2 557.9h0M519.3 559.9h0M519.8 557.9h0M519.9 560.2h0M520.4 562.3h0M520.6 559.3h0M521.2 561.2h0M521.3 559.7h0M521.9 562.1h0M522.1 560.1h0M523.2 561.3h0M523.3 559.6h0M524.4 561.2h0M524.5 558.8h0M524.7 556.6h0M525.1 558.6h0M525.6 555.8h0M525.9 557.3h0M526.4 558.9h0M526.5 556.1h0M526.8 559.0h0M527.1 557.3h0M527.4 559.4h0M527.6 557.9h0M527.7 559.8h0M528.2 557.1h0M528.3 561.4h0M528.5 559.4h0M530.0 558.1h0M530.2 559.7h0M530.6 558.2h0M531.1 559.8h0M532.3 558.0h0M532.6 559.8h0M532.8 561.3h0M534.0 563.0h0M534.1 575.8h0M534.3 597.3h0M534.4 631.3h0M534.6 674.3h0M534.8 716.9h0M534.9 750.9h0M535.1 775.7h0M535.2 792.0h0M535.4 806.4h0M535.5 820.4h0M535.7 827.9h0M535.8 831.6h0M536.0 834.7h0M536.1 836.9h0M536.4 839.0h0M536.6 840.8h0M537.0 842.5h0M537.3 845.6h0M537.7 849.7h0M537.8 847.5h0M538.0 850.4h0M538.3 853.0h0M538.6 850.8h0M538.7 854.8h0M539.0 856.5h0M539.5 858.1h0M539.9 860.2h0M540.7 863.1h0M541.3 865.2h0M542.2 867.3h0M542.5 865.8h0M542.7 867.5h0M544.1 865.2h0M544.2 867.9h0M544.8 866.4h0M545.1 864.9h0M545.7 866.6h0M545.9 864.7h0M546.7 863.1h0M546.8 866.2h0M547.0 864.5h0M547.9 866.0h0M548.5 867.8h0M548.8 866.1h0M549.4 867.9h0M549.7 865.6h0M550.0 867.1h0M551.2 866.2h0M551.4 868.4h0M551.7 865.5h0M552.0 867.1h0M552.5 864.9h0M552.8 868.2h0M552.9 863.8h0M553.1 866.9h0M553.2 864.0h0M554.4 861.4h0M554.9 863.0h0M555.5 859.2h0M555.7 862.4h0M556.4 860.6h0M556.7 862.1h0M556.9 860.5h0M557.5 862.1h0M557.9 860.6h0M559.0 861.9h0M559.5 860.0h0M559.6 858.3h0M559.8 860.1h0M560.1 857.8h0M560.7 860.0h0M561.0 857.5h0M561.2 859.3h0M561.8 857.8h0M562.1 855.8h0M562.2 858.5h0M562.8 856.2h0M563.0 858.4h0M563.1 856.4h0M563.6 859.1h0M564.1 855.5h0M564.2 857.4h0M564.7 855.2h0M564.8 857.8h0M565.6 854.8h0M565.7 856.9h0M566.3 853.9h0M566.5 855.5h0M568.0 855.7h0M569.1 858.2h0M569.2 856.0h0M570.5 854.6h0M570.6 856.6h0M570.8 855.0h0M571.2 856.5h0M571.5 854.1h0M571.8 855.7h0M572.3 852.8h0M572.6 854.5h0M573.4 852.4h0M573.7 855.4h0M573.8 852.2h0M574.0 856.3h0M574.3 852.8h0M574.4 854.5h0M574.7 852.6h0M575.0 855.5h0M575.2 853.6h0M575.3 852.0h0M575.5 854.9h0M576.0 853.3h0M576.3 851.4h0M576.4 853.8h0M576.7 851.3h0M577.5 854.2h0M578.2 852.8h0M578.9 854.4h0M579.0 852.0h0M579.3 855.0h0M579.5 853.1h0M580.1 854.4h0M580.4 852.3h0M580.5 854.3h0M580.8 852.6h0M581.5 851.0h0M581.6 855.5h0M581.8 853.3h0M582.2 855.2h0M582.8 852.4h0M583.1 855.7h0M583.6 852.8h0M583.7 856.2h0M583.9 853.7h0M584.4 851.8h0M584.5 854.2h0M584.8 852.5h0M585.0 856.1h0M585.1 852.8h0M585.3 854.6h0M585.6 851.2h0M585.7 853.0h0M585.9 851.5h0M587.1 850.2h0M587.3 851.7h0M587.7 848.4h0M588.2 850.2h0M588.8 852.1h0M589.4 849.6h0M589.7 851.4h0M590.0 853.9h0M590.2 849.2h0M590.3 851.3h0M590.6 852.9h0M590.9 850.3h0M591.2 852.6h0M592.3 851.2h0M592.6 853.2h0M592.7 851.6h0M593.1 849.5h0M593.2 851.4h0M593.5 853.0h0M594.7 854.8h0M596.1 855.6h0M596.9 852.6h0M597.2 854.5h0M597.3 852.3h0M598.7 851.5h0M599.0 849.3h0M599.2 851.9h0M599.6 850.0h0M600.4 851.3h0M601.4 853.0h0M601.6 850.5h0M601.8 852.1h0M602.1 849.7h0M602.4 851.8h0M603.0 848.6h0M603.3 850.1h0M604.0 852.0h0M604.5 850.5h0M604.8 852.4h0M605.0 849.8h0M605.1 854.0h0M605.9 852.0h0M606.2 855.3h0M606.3 853.0h0M607.9 854.1h0M608.0 852.1h0M608.6 853.6h0M608.9 851.6h0M609.4 849.9h0M609.5 852.5h0M610.0 851.0h0M610.8 849.4h0M612.0 848.3h0M612.4 849.8h0M612.6 847.8h0M613.0 850.7h0M613.3 848.9h0M614.4 851.3h0M614.7 848.4h0M614.9 850.1h0M615.6 848.5h0M616.9 850.3h0M617.0 848.5h0M617.5 846.2h0M618.1 848.4h0M618.2 846.0h0M618.5 848.1h0M618.7 846.2h0M619.0 847.8h0M619.1 846.2h0M619.3 848.1h0M619.8 846.5h0M620.1 848.4h0M620.2 845.7h0M621.0 844.1h0M621.4 842.7h0M622.2 840.4h0M622.4 842.7h0M622.5 838.6h0M622.7 840.7h0M622.8 838.7h0M623.1 836.5h0M623.6 833.8h0M624.2 831.5h0M624.8 827.8h0M625.1 824.2h0M625.6 822.0h0M625.9 819.8h0M626.2 817.1h0M626.5 813.0h0M626.8 809.1h0M626.9 806.8h0M627.1 803.6h0M627.2 799.9h0M627.4 794.7h0M627.5 791.0h0M627.7 787.0h0M627.8 783.9h0M628.0 780.1h0M628.2 774.1h0M628.3 770.9h0M628.6 765.6h0M628.9 759.7h0M629.1 757.8h0M629.2 754.7h0M629.4 750.3h0M629.7 746.9h0M629.8 743.5h0M630.0 738.5h0M630.3 735.9h0M630.4 734.1h0M630.6 730.1h0M630.7 726.1h0M631.2 721.4h0M631.5 717.8h0M631.8 713.0h0M632.1 711.3h0M632.3 708.0h0M632.4 710.9h0M632.6 707.2h0M632.7 704.1h0M633.0 701.8h0M633.5 699.2h0M633.8 696.9h0M634.3 695.3h0M634.4 692.8h0M634.9 688.9h0M635.3 687.0h0M635.8 685.1h0M636.4 683.2h0M636.7 681.2h0M636.9 682.8h0M637.0 681.2h0M637.3 677.6h0M637.5 680.3h0M638.5 677.9h0M639.6 676.8h0M640.8 675.2h0M641.3 676.9h0M641.7 673.9h0M642.0 675.9h0M642.3 674.0h0M643.0 672.4h0M643.1 670.6h0M643.7 668.7h0M643.9 670.9h0M644.2 668.2h0M644.6 670.1h0M644.8 666.7h0M645.2 669.5h0M645.4 666.7h0M645.7 668.8h0M646.0 667.2h0M647.5 667.3h0M648.3 665.9h0M649.2 663.7h0M649.4 665.8h0M650.3 663.7h0M650.6 666.2h0M651.4 667.7h0M651.5 665.0h0M652.0 667.6h0M652.9 665.6h0M653.5 664.1h0M653.6 665.9h0M654.1 664.3h0M654.6 666.2h0M654.7 663.9h0M655.5 662.1h0M655.8 664.0h0M656.1 662.1h0M656.2 665.5h0M656.5 663.2h0M656.7 664.8h0M657.2 662.5h0M657.3 664.6h0M657.6 662.8h0M657.8 664.7h0M657.9 662.9h0M658.1 664.6h0M658.4 662.9h0M658.5 665.3h0M658.8 663.8h0M659.0 662.0h0M660.2 663.3h0M661.6 664.8h0M662.5 666.8h0M662.8 664.5h0M663.3 668.0h0M663.4 665.0h0M663.7 666.6h0M664.5 664.0h0M664.6 665.5h0M665.1 662.4h0M665.5 660.9h0M666.2 659.3h0M666.3 662.1h0M666.5 659.7h0M666.6 657.5h0M668.1 658.0h0M668.3 655.9h0M668.6 658.2h0M669.1 656.6h0M669.2 658.7h0M669.5 657.1h0M670.1 658.8h0M670.7 657.3h0M672.1 658.3h0M672.4 655.7h0M672.6 657.3h0M672.7 658.8h0M673.8 657.0h0M673.9 658.9h0M675.2 657.1h0M675.3 659.1h0M675.5 657.2h0M676.4 655.8h0M676.8 657.3h0M678.4 657.8h0M678.5 656.0h0M678.8 654.4h0M680.3 653.3h0M680.7 655.2h0M681.0 653.2h0M681.9 656.1h0M682.0 653.2h0M682.2 655.7h0M682.5 653.7h0M683.1 655.2h0M683.2 653.1h0M683.4 656.1h0M683.7 654.3h0M684.0 657.0h0M684.2 653.7h0M684.3 655.6h0M684.6 653.9h0M684.8 656.3h0M684.9 653.4h0M685.5 655.7h0M685.7 652.8h0M685.8 655.8h0M686.0 653.8h0M686.5 652.1h0M687.1 653.8h0M687.2 650.6h0M688.1 652.7h0M688.3 650.8h0M688.7 652.9h0M688.9 650.4h0M689.4 651.9h0M690.0 653.4h0M690.4 651.8h0M690.9 649.7h0M691.3 651.5h0M691.5 649.2h0M691.6 651.7h0M691.8 649.9h0M691.9 648.0h0M692.1 650.2h0M692.4 648.6h0M693.2 650.0h0M693.3 647.8h0M693.6 651.1h0M693.8 647.7h0M693.9 649.6h0M694.1 647.9h0M694.4 649.9h0M694.5 648.4h0M694.7 646.8h0M695.9 645.3h0M696.4 643.7h0M697.0 646.1h0M697.1 642.5h0M697.3 645.3h0M697.4 642.7h0M697.7 645.0h0M699.1 646.2h0M699.3 641.3h0M699.4 645.1h0M699.7 643.0h0M699.9 645.1h0M700.6 646.5h0M700.8 643.7h0M701.4 645.3h0M701.9 641.7h0M702.0 643.8h0M703.5 643.8h0M704.8 645.0h0M704.9 642.6h0M706.0 641.3h0M706.3 643.8h0M706.4 641.9h0M707.5 643.7h0M708.0 642.2h0M708.6 646.2h0M708.7 643.6h0M709.3 641.4h0M710.7 639.2h0M711.0 641.3h0M711.9 639.0h0M713.2 637.9h0M714.1 639.7h0M714.4 636.6h0M714.7 639.3h0M715.0 636.1h0M715.3 637.9h0M715.8 636.3h0M716.2 638.0h0M717.1 636.1h0M717.9 638.5h0M718.0 636.4h0M718.5 634.7h0M719.4 632.4h0M719.6 634.6h0M720.3 632.6h0M720.8 634.1h0M721.1 632.6h0M721.3 635.0h0M721.6 633.1h0M721.9 635.7h0M722.2 634.0h0M722.3 631.6h0M722.5 635.0h0M722.8 632.5h0M722.9 630.7h0M723.1 634.7h0M723.2 632.5h0M723.7 634.2h0M724.3 632.6h0M725.1 630.9h0M725.5 633.1h0M725.7 630.8h0M725.8 634.3h0M726.0 632.4h0M726.3 630.8h0M726.6 633.7h0M726.7 632.0h0M726.9 630.1h0M727.1 632.5h0M727.4 630.7h0M727.7 632.3h0M727.8 627.9h0M728.0 631.4h0M728.1 629.2h0M729.0 627.2h0M729.8 625.6h0M730.1 627.4h0M730.3 624.5h0M731.3 628.3h0M731.6 626.1h0M732.1 628.5h0M732.2 626.7h0M733.6 628.1h0M733.9 625.5h0M734.1 627.8h0M734.8 629.8h0M735.0 625.9h0M735.1 629.1h0M735.3 627.4h0M735.4 629.0h0M735.8 630.9h0M736.1 628.9h0M736.2 630.8h0M736.7 627.5h0M736.8 630.4h0M737.0 627.2h0M737.1 630.5h0M737.4 629.0h0M738.3 627.6h0M739.0 626.0h0M739.6 624.5h0M739.9 622.7h0M740.9 624.1h0M741.2 622.2h0M741.7 624.8h0M741.9 622.9h0M742.3 626.5h0M742.5 622.2h0M743.1 625.3h0M743.2 623.4h0M743.7 624.8h0M744.3 620.6h0M744.5 624.9h0M745.1 621.8h0M745.2 624.8h0M745.4 622.7h0M746.3 621.2h0M746.4 623.8h0M746.6 622.2h0M746.7 624.1h0M746.9 622.5h0M747.4 619.7h0M747.5 621.2h0M748.0 623.1h0M748.1 619.6h0M749.0 620.8h0M749.2 619.2h0M749.5 616.2h0M749.9 618.6h0M750.1 617.0h0M750.9 618.5h0M751.2 617.0h0M751.6 615.4h0M752.1 617.8h0M752.4 614.8h0M752.5 617.0h0M752.7 619.6h0M752.8 616.2h0M753.5 618.6h0M753.6 616.6h0M755.1 616.9h0M755.6 618.6h0M756.0 615.1h0M756.8 616.9h0M757.0 613.9h0M757.6 612.2h0M757.7 616.6h0M757.9 614.3h0M758.3 612.8h0M758.5 615.4h0M759.6 614.0h0M759.7 618.1h0M759.9 614.3h0M760.0 617.1h0M760.2 614.9h0M760.8 616.6h0M761.5 613.9h0M762.6 616.3h0M762.9 614.1h0M764.1 616.5h0M764.3 611.7h0M764.4 614.2h0M765.2 612.1h0M765.7 613.6h0M766.3 610.8h0M767.2 608.7h0M767.8 606.4h0M768.0 608.8h0M768.3 607.3h0M768.6 609.1h0M768.9 606.9h0M769.2 609.9h0M769.3 608.3h0M769.5 610.6h0M769.6 607.5h0M769.8 610.4h0M769.9 608.8h0M770.7 610.4h0M771.0 606.7h0M771.2 609.5h0M771.6 606.3h0M771.8 609.9h0M772.2 608.0h0M772.7 610.2h0M772.8 607.8h0M773.3 610.1h0M773.4 608.4h0M773.8 611.8h0M773.9 609.2h0M774.4 607.5h0M774.5 606.0h0M774.7 608.4h0M775.1 605.4h0M775.3 608.3h0M775.7 606.1h0M776.5 604.3h0M776.7 606.0h0M777.0 603.3h0M777.1 604.9h0M777.6 606.7h0M777.7 604.9h0M778.9 601.3h0M779.1 603.4h0M780.3 601.4h0M780.6 603.9h0M780.8 600.2h0M780.9 602.4h0M781.4 600.8h0M781.8 598.9h0M782.3 596.8h0M782.5 601.0h0M782.6 599.3h0M784.1 599.9h0M784.6 602.6h0M784.9 600.6h0M785.4 602.7h0M785.8 600.0h0M786.0 602.3h0M786.1 600.1h0M786.3 602.8h0M786.4 601.0h0M786.9 598.3h0M787.0 600.0h0M787.8 597.5h0M787.9 599.4h0M789.3 600.2h0M789.5 598.0h0M790.1 600.0h0M790.5 602.0h0M790.7 599.2h0M791.3 597.3h0M791.6 599.2h0M792.4 597.2h0M793.1 599.0h0M793.4 596.8h0M793.6 594.4h0M793.7 596.7h0M794.7 598.2h0M795.0 596.4h0M795.3 598.0h0M796.8 597.3h0M797.6 594.0h0M797.7 595.7h0M797.9 593.6h0M798.0 592.1h0M798.2 594.0h0M798.3 595.6h0M798.6 593.9h0M798.8 592.1h0M800.2 590.0h0M800.3 591.7h0M801.4 590.2h0M801.5 593.0h0M802.4 591.4h0M803.7 590.4h0M804.1 586.0h0M804.3 589.7h0M805.2 587.2h0M805.3 590.6h0M805.5 587.6h0M806.9 585.9h0M807.2 587.4h0M807.9 584.4h0M808.1 586.2h0M808.6 587.6h0M809.0 589.6h0M809.2 586.5h0M809.9 587.8h0M810.2 589.8h0M810.4 587.8h0M810.7 589.9h0M811.3 586.7h0M811.6 588.4h0M811.9 590.4h0M812.2 588.0h0M813.3 589.8h0M813.4 587.8h0M814.0 585.6h0M814.4 587.2h0M814.7 585.4h0M815.4 583.0h0M816.2 581.0h0M816.5 582.9h0M816.8 581.4h0M817.1 583.7h0M817.3 578.8h0M817.4 580.4h0M817.6 583.0h0M818.8 584.7h0M818.9 583.1h0M819.1 585.3h0M819.7 587.5h0M819.8 585.6h0M820.8 584.4h0M821.5 585.9h0M822.3 582.1h0M822.9 583.9h0M823.2 580.8h0M823.4 584.7h0M823.7 582.5h0M824.1 580.9h0M824.4 582.4h0M824.6 579.9h0M824.7 581.9h0M825.5 580.1h0M826.1 577.9h0M826.7 580.0h0M827.0 577.9h0M827.2 579.4h0M828.4 582.0h0M828.5 578.4h0M829.5 580.8h0M829.8 578.4h0M830.8 580.4h0M831.1 577.9h0M831.7 579.9h0M832.1 578.2h0M832.7 575.9h0M833.0 578.8h0M833.3 577.0h0M833.4 579.4h0M834.0 577.7h0M834.6 579.2h0M834.8 576.7h0M835.4 579.3h0M835.6 576.2h0M836.0 578.6h0M836.3 576.7h0M836.6 578.4h0M837.7 579.8h0M837.9 576.7h0M838.2 578.1h0M838.5 576.5h0M839.5 574.8h0M839.7 577.2h0M839.8 575.5h0M840.6 573.9h0M840.8 576.4h0M840.9 574.2h0M841.5 576.4h0M841.7 573.4h0M841.8 575.0h0M842.0 573.5h0M842.1 575.5h0M842.3 573.8h0M843.8 572.2h0M844.0 574.2h0M845.3 575.4h0M845.9 573.9h0M846.4 571.6h0M847.0 574.0h0M847.2 571.1h0M847.5 567.9h0M847.6 571.7h0M847.9 569.7h0M848.1 571.8h0M848.5 573.4h0M849.9 574.3h0M850.1 572.4h0M850.8 570.3h0M851.1 571.8h0M851.4 569.7h0M851.6 571.3h0M852.0 569.0h0M852.4 567.5h0M852.5 570.2h0M852.8 567.1h0M853.4 570.0h0M853.6 568.0h0M853.7 569.6h0M854.2 567.3h0M854.3 569.3h0M854.6 567.0h0M854.9 569.9h0M855.1 567.9h0M855.3 569.8h0M856.3 566.8h0M856.5 569.0h0M856.6 571.3h0M856.8 568.9h0M857.2 572.1h0M857.4 569.9h0M857.5 571.6h0M858.5 570.3h0M858.9 567.4h0M859.2 569.1h0M859.7 567.0h0M860.0 565.2h0M860.3 567.0h0M860.9 564.7h0M861.8 566.1h0M862.4 563.3h0M862.7 565.0h0M863.5 562.3h0M863.6 564.6h0M864.3 563.0h0M864.7 565.3h0M865.3 563.1h0M866.4 564.5h0M866.7 561.1h0M866.9 564.5h0M867.0 566.3h0M868.5 566.5h0M869.3 564.3h0M869.4 566.9h0M869.6 562.8h0M869.8 565.0h0M870.5 563.4h0M870.8 560.9h0M871.0 563.0h0M871.4 564.5h0M872.0 562.9h0M872.2 564.9h0M873.4 564.0h0M873.7 565.5h0M874.3 563.3h0M874.5 565.5h0M874.6 562.5h0M874.9 564.8h0M875.4 562.5h0M875.6 564.2h0M876.0 562.2h0M876.3 565.3h0M876.6 563.3h0M877.7 565.5h0M877.8 563.4h0M878.9 561.1h0M879.1 562.9h0M879.5 561.4h0M880.6 564.0h0M880.7 562.4h0M881.4 559.9h0M881.5 561.7h0M881.8 559.9h0M882.3 561.7h0M883.3 560.3h0M883.6 562.8h0M883.9 564.3h0M884.1 560.7h0M884.4 562.5h0M885.8 564.8h0M885.9 562.6h0M886.7 560.8h0M887.9 559.4h0M888.5 557.3h0M888.7 560.9h0M888.8 557.2h0M889.1 558.9h0M889.9 560.9h0M890.0 559.0h0M890.7 560.7h0M890.8 559.2h0M892.0 558.1h0M892.2 556.1h0M892.3 559.2h0M892.6 556.9h0M892.8 559.3h0M892.9 557.0h0M893.1 559.3h0M893.6 557.7h0M893.7 559.2h0M894.5 561.1h0M895.1 559.6h0M895.7 561.6h0M896.9 560.3h0M897.2 562.2h0M897.7 559.1h0M898.0 561.6h0M898.4 559.2h0" fill="none" stroke="#000" stroke-width="18.6" stroke-linecap="round"/>
<polyline points="157.6,544.7 157.8,550.4 157.9,542.9 158.1,547.8 158.5,546.0 158.7,547.6 158.8,549.3 159.8,548.1 160.1,549.7 160.2,546.7 160.8,548.9 161.0,545.1 161.4,546.7 161.7,548.2 162.2,546.4 162.7,544.2 162.8,547.5 163.0,544.6 163.1,546.8 163.9,545.4 164.2,547.8 164.3,543.1 164.5,545.0 164.6,543.3 165.1,541.7 165.4,544.9 165.7,542.6 166.0,544.9 166.3,540.6 166.5,542.9 166.6,546.3 166.8,543.4 167.4,544.8 168.8,542.9 169.2,540.9 169.4,544.5 169.5,541.8 170.0,543.2 170.8,544.5 171.1,543.0 171.4,545.2 171.7,542.5 171.8,544.6 172.1,547.0 172.3,544.5 172.6,546.6 172.7,543.6 172.9,546.5 173.2,544.5 173.7,547.7 173.8,544.7 174.4,542.8 174.7,544.3 175.3,542.9 175.5,545.1 175.6,542.7 176.4,544.7 176.7,543.2 177.2,545.3 177.5,543.7 177.8,545.7 177.9,547.6 178.1,544.1 178.2,546.5 178.5,543.4 178.8,545.4 179.1,547.8 179.3,541.7 179.5,544.4 180.2,546.3 180.8,544.1 181.1,547.3 181.3,544.6 182.0,546.2 182.7,543.2 183.1,545.8 183.7,550.1 183.9,544.1 184.0,547.9 184.2,546.1 184.8,549.6 184.9,547.4 185.1,548.9 185.3,545.0 185.4,565.3 185.6,585.8 185.7,611.4 185.9,635.1 186.0,663.6 186.2,689.3 186.3,713.6 186.5,737.2 186.6,757.8 186.8,776.9 186.9,791.1 187.1,807.8 187.2,816.4 187.4,826.7 187.8,835.0 188.2,833.2 188.6,835.1 189.4,837.3 189.5,839.9 190.1,843.2 190.3,840.4 190.4,837.9 190.6,841.0 190.7,838.5 190.9,842.1 191.2,845.0 191.5,843.2 191.8,845.7 192.0,843.6 192.3,848.2 192.4,845.0 192.6,847.2 192.7,850.9 192.9,847.1 193.0,850.8 193.2,846.4 193.5,851.0 194.3,852.9 194.4,848.6 194.7,852.0 194.9,850.3 195.0,852.3 195.2,849.7 195.3,853.3 196.1,850.8 196.2,853.3 196.7,855.8 197.0,854.3 197.6,852.6 198.2,849.4 198.4,851.0 198.7,847.2 198.8,843.2 199.0,838.2 199.1,834.2 199.3,829.8 199.4,822.6 199.6,814.4 199.7,809.4 199.9,799.2 200.1,786.9 200.2,773.9 200.4,762.9 200.5,749.2 200.7,733.9 200.8,719.8 201.0,702.1 201.1,691.4 201.3,677.3 201.4,665.8 201.6,650.9 201.7,640.9 201.9,630.8 202.0,619.1 202.2,616.6 202.3,604.7 202.5,598.5 202.6,591.8 202.8,586.5 203.0,582.7 203.1,576.2 203.4,571.8 203.6,569.4 203.9,565.0 204.2,563.2 204.3,560.8 204.5,559.2 204.6,555.9 204.8,559.4 204.9,557.4 205.1,553.4 205.4,549.0 205.5,551.7 205.7,549.2 206.0,546.1 206.3,544.1 206.6,542.2 206.9,544.0 207.2,537.0 207.4,539.3 207.7,537.5 207.8,539.1 208.0,532.9 208.1,538.8 208.3,534.6 208.4,537.7 209.1,536.2 209.2,540.6 209.4,535.5 209.7,538.1 210.0,540.6 210.1,538.6 211.2,537.4 211.3,539.1 211.5,536.5 212.1,538.2 212.3,535.9 212.4,538.5 212.6,535.1 212.9,533.1 213.0,534.7 213.3,531.8 213.8,533.4 214.1,531.8 214.6,533.7 214.7,531.4 215.2,536.0 215.3,532.9 215.6,534.4 215.8,532.0 215.9,535.8 216.1,533.9 216.4,535.5 216.7,537.9 217.0,536.1 217.1,538.2 217.6,535.8 218.2,538.2 218.5,534.9 218.7,531.4 218.8,533.5 219.9,530.6 220.2,533.6 221.4,535.4 221.9,538.7 222.0,536.6 222.2,539.1 222.3,535.8 222.5,539.2 222.6,536.6 223.1,539.0 223.6,543.3 223.7,541.4 223.9,538.6 224.3,540.1 224.6,537.1 224.8,541.7 225.1,539.2 225.5,536.0 226.3,533.6 226.5,536.1 226.6,534.4 227.7,536.2 228.0,538.0 228.3,536.2 229.1,534.3 229.2,537.7 229.8,535.9 230.0,538.7 230.3,536.5 231.2,538.2 231.3,535.5 231.5,537.8 231.6,541.9 231.8,539.5 232.3,535.6 232.4,540.3 232.9,538.0 233.3,540.5 233.5,538.8 233.9,536.5 234.1,534.9 234.2,538.6 234.4,536.0 234.5,539.5 234.7,537.6 235.0,534.3 235.2,537.9 235.6,535.9 236.1,537.6 236.8,540.2 237.8,538.7 238.1,540.4 239.0,541.6 239.3,539.9 239.4,541.8 239.7,539.9 240.2,542.8 240.3,539.9 240.8,538.3 241.0,541.0 241.1,560.5 241.3,593.5 241.4,633.5 241.6,666.7 241.7,705.2 241.9,738.8 242.0,762.6 242.2,787.1 242.3,808.4 242.5,824.3 242.6,831.9 242.8,836.7 242.9,839.7 243.1,842.3 243.2,839.7 243.4,842.0 243.9,847.4 244.0,845.1 244.2,847.7 244.3,846.1 244.8,847.6 244.9,850.1 246.1,854.0 246.3,851.4 246.9,853.8 247.2,855.7 247.4,854.2 248.7,853.3 249.5,855.9 250.1,857.5 250.4,855.6 251.2,857.6 251.6,856.1 251.9,859.1 252.7,855.9 253.0,857.6 253.5,860.5 253.6,857.8 253.8,854.7 253.9,856.6 254.1,859.0 254.4,857.0 254.5,859.8 255.0,854.7 255.2,858.5 255.8,856.8 256.2,854.0 256.4,857.9 256.5,855.9 256.8,857.6 257.0,854.9 257.4,851.6 257.7,847.4 258.1,844.3 258.4,840.2 258.5,838.4 258.7,833.3 258.8,830.3 259.1,826.8 259.3,822.0 259.4,819.5 259.6,814.1 259.7,810.7 259.9,804.3 260.0,801.6 260.2,795.0 260.3,791.4 260.5,785.2 260.6,780.8 260.8,775.6 261.0,770.4 261.1,766.3 261.3,761.2 261.4,753.4 261.6,744.8 261.7,740.1 261.9,731.8 262.0,727.9 262.2,718.6 262.3,711.0 262.5,704.9 262.6,697.4 262.8,692.6 262.9,686.1 263.1,677.9 263.2,675.0 263.4,667.8 263.5,664.5 263.7,655.4 264.0,648.7 264.2,644.7 264.3,642.8 264.5,636.2 264.8,627.7 265.1,625.7 265.2,621.5 265.4,615.4 265.7,612.4 265.8,608.8 266.0,605.6 266.1,603.6 266.3,600.7 266.4,599.2 266.7,594.1 267.1,589.7 267.2,586.7 267.5,583.0 268.0,575.5 268.3,572.5 268.6,570.5 268.9,572.4 269.0,567.8 269.3,565.1 269.8,561.7 270.1,558.8 270.6,557.1 270.9,553.5 271.0,555.3 271.2,553.6 271.3,550.8 272.4,548.4 272.5,546.8 272.7,549.4 273.0,545.4 273.3,547.9 273.8,545.2 273.9,546.7 274.1,549.0 274.5,545.2 274.8,547.1 275.3,543.9 275.4,546.6 275.8,545.0 275.9,547.0 276.1,549.0 276.2,545.7 276.7,548.1 276.8,545.3 277.3,547.7 277.4,545.9 277.9,543.7 278.2,545.7 278.5,542.7 278.7,545.4 278.8,541.0 279.1,542.7 279.7,541.0 279.9,543.6 280.0,537.7 280.2,542.2 280.5,539.1 280.8,542.8 280.9,536.3 281.1,539.5 282.0,540.7 282.3,537.6 282.6,540.6 282.8,538.5 282.9,540.1 283.2,534.9 283.4,542.0 283.5,540.3 285.1,540.7 285.8,539.1 286.1,541.0 286.4,538.8 286.7,535.7 286.9,537.9 287.8,536.3 288.0,539.6 288.4,537.8 289.2,540.8 289.3,538.8 289.5,537.0 289.6,541.3 290.3,537.9 290.4,543.4 290.6,541.8 291.3,539.5 291.6,537.1 291.8,539.1 292.2,536.7 292.5,534.6 292.7,536.5 293.2,538.5 293.5,537.0 293.9,542.6 294.1,536.9 294.4,538.6 294.5,536.3 294.7,538.5 294.8,535.9 295.0,538.1 295.4,539.9 296.4,538.2 297.3,535.5 297.4,541.1 297.6,537.9 297.7,539.8 298.0,542.8 298.5,539.9 298.8,542.5 299.0,540.6 299.1,544.6 299.3,542.7 300.0,539.7 300.2,541.6 300.3,540.1 300.6,542.1 301.1,538.6 301.4,542.9 301.5,538.8 301.7,537.2 301.9,539.6 302.0,541.6 302.3,539.2 303.2,536.1 303.4,538.0 304.3,539.8 304.6,537.9 304.8,539.7 305.1,541.8 305.2,539.8 305.7,543.1 305.8,576.9 306.0,615.7 306.1,650.0 306.3,686.0 306.4,710.9 306.6,731.9 306.7,756.6 306.9,783.3 307.0,798.1 307.2,812.6 307.3,826.8 307.5,835.5 307.7,838.3 307.8,836.3 308.1,842.3 308.6,839.3 308.7,846.5 309.2,843.7 309.3,847.5 309.6,849.3 309.8,852.1 310.1,850.1 310.4,853.7 311.5,857.2 311.6,855.6 311.9,857.7 312.1,854.6 312.5,853.2 313.0,855.6 313.1,852.4 313.6,854.3 314.4,856.5 315.0,858.0 315.3,859.9 316.4,861.6 316.8,863.2 317.6,865.5 317.7,861.5 317.9,864.6 318.0,861.6 318.2,864.5 318.3,863.0 318.5,861.4 318.6,865.2 318.8,861.1 319.3,862.6 319.4,860.9 319.6,863.2 320.2,861.0 320.9,857.7 321.1,860.2 321.5,864.3 321.7,855.8 321.8,858.3 322.2,861.9 322.5,858.9 322.6,860.5 323.4,858.8 323.8,861.6 324.3,859.7 324.4,861.7 324.6,863.4 324.7,860.5 324.9,864.7 325.2,859.1 325.4,863.6 325.7,865.8 325.8,863.7 326.0,860.4 326.4,864.8 326.6,862.5 326.9,864.3 327.2,861.2 327.3,863.4 327.8,864.8 328.3,861.4 328.4,865.3 328.6,863.1 328.9,861.1 329.5,862.9 329.8,859.1 329.9,861.0 330.2,859.1 330.9,861.3 331.0,859.0 331.2,861.2 331.3,857.7 331.6,861.0 331.8,858.9 332.4,862.1 332.5,858.7 333.0,860.5 333.3,855.7 333.4,857.3 333.9,860.0 334.4,862.0 334.8,860.4 335.1,862.5 335.3,864.2 335.7,861.1 335.9,859.4 336.0,864.0 336.3,862.3 336.6,864.4 337.3,862.3 337.6,865.2 337.9,860.1 338.2,863.0 338.3,860.6 339.1,858.5 340.0,860.9 340.2,856.4 340.3,858.8 340.5,856.4 340.6,858.0 341.1,855.6 341.7,852.6 341.8,857.5 342.0,855.2 342.1,857.1 342.3,855.4 342.4,857.9 342.8,862.0 342.9,859.3 343.4,856.5 343.5,860.4 343.8,858.5 344.1,856.5 344.3,859.7 344.6,856.9 344.7,859.7 344.9,856.9 345.0,860.6 345.2,854.9 345.3,857.6 345.5,859.3 345.7,855.9 346.0,857.6 347.0,858.7 347.6,855.7 347.9,860.6 348.1,854.5 348.2,856.5 348.4,858.3 348.7,856.4 348.9,859.1 349.0,854.6 349.2,857.6 349.3,853.2 349.9,857.2 350.1,853.7 350.5,850.5 350.7,848.2 351.1,843.5 351.3,839.7 351.5,837.0 351.6,829.0 351.8,826.0 351.9,813.9 352.1,811.4 352.2,804.5 352.4,801.6 352.5,797.2 352.7,788.9 352.8,785.4 353.0,779.9 353.1,772.3 353.4,766.0 353.6,760.6 353.7,755.9 353.9,750.3 354.0,744.0 354.2,741.1 354.4,734.7 354.7,727.4 355.0,721.8 355.1,719.9 355.3,717.5 355.4,712.4 355.7,704.3 355.9,706.2 356.2,700.8 356.3,697.6 356.5,695.3 356.6,690.3 357.3,686.1 357.4,682.7 357.6,680.3 357.9,678.6 358.0,673.5 358.2,671.6 358.3,670.0 358.5,668.1 358.6,665.5 358.8,661.0 358.9,658.4 359.5,653.3 359.7,648.9 360.0,644.3 360.5,640.9 360.8,636.5 361.1,633.7 361.2,632.1 361.4,629.9 361.7,627.7 361.8,623.9 362.1,622.2 362.3,619.5 362.4,617.0 362.9,613.2 363.1,611.5 363.2,608.4 363.7,604.5 363.8,606.3 364.1,603.5 364.3,602.0 364.7,597.9 364.9,599.9 365.2,594.9 365.5,593.4 366.0,591.2 366.1,589.2 366.3,591.3 366.4,589.4 366.9,587.8 367.0,584.4 367.8,585.8 367.9,584.0 368.7,582.3 369.3,580.6 369.5,582.2 370.2,577.9 370.4,581.5 370.8,580.1 371.3,576.7 371.8,579.8 371.9,577.8 372.8,576.2 373.4,574.8 374.2,571.2 374.3,573.8 374.5,572.3 375.1,573.7 375.3,571.5 375.9,573.4 376.0,571.9 376.2,574.1 376.3,571.7 376.6,573.3 377.1,571.6 377.7,568.9 377.9,570.9 378.6,569.0 378.9,567.3 379.4,565.7 379.5,570.5 379.7,568.2 379.8,571.4 380.0,569.4 380.6,571.2 380.8,569.7 381.2,571.2 381.5,568.9 381.8,572.1 382.0,574.0 382.1,571.5 382.3,569.9 382.4,572.5 382.6,567.2 382.7,572.1 383.0,574.5 383.2,571.4 383.5,575.9 383.7,572.7 384.1,571.0 384.4,573.3 384.6,571.2 384.7,573.6 385.2,572.0 385.9,568.9 386.1,572.5 386.3,570.2 386.4,575.4 386.6,571.9 386.7,569.3 386.9,571.3 387.8,569.8 388.8,567.3 389.2,569.3 390.4,567.1 390.5,569.3 391.0,571.5 391.1,568.7 391.3,570.9 391.4,572.6 391.6,568.3 392.1,570.3 392.4,567.9 392.5,572.2 392.7,567.5 393.3,566.1 393.7,564.6 393.9,566.5 394.0,562.2 394.6,564.6 394.8,562.8 396.0,564.8 396.2,561.0 396.9,562.6 397.7,565.6 397.9,562.7 398.3,564.5 398.5,561.4 398.6,565.3 399.2,567.3 399.5,563.3 400.0,564.9 400.3,563.2 400.8,566.0 401.5,562.6 401.8,564.3 402.0,561.8 402.1,563.9 402.3,561.5 402.7,563.1 402.9,560.8 403.2,562.7 403.6,559.8 403.8,562.1 404.0,559.9 404.1,562.1 404.3,560.4 404.4,562.1 404.6,560.3 404.9,558.4 405.2,561.1 405.3,559.4 405.6,557.3 405.8,560.6 405.9,556.4 406.1,560.1 406.2,557.1 406.4,554.0 406.5,557.5 406.9,555.5 407.2,557.1 407.6,558.8 407.8,557.0 408.1,555.2 408.2,557.3 408.4,559.1 409.0,560.6 409.1,557.3 409.3,560.0 409.4,564.2 409.6,561.9 410.1,563.7 410.2,561.1 411.0,559.1 411.1,563.3 411.3,559.2 411.6,561.5 411.9,559.8 412.3,554.3 412.5,557.6 412.7,559.5 412.8,557.2 413.0,559.9 413.3,557.4 413.7,559.7 413.9,557.6 414.0,555.5 414.2,558.3 414.3,562.2 414.5,556.9 414.6,558.6 415.1,561.1 415.4,555.3 415.6,557.1 416.2,554.9 416.6,556.6 417.1,558.4 417.2,555.3 417.8,557.9 418.0,553.7 418.3,556.0 418.5,557.6 418.8,554.8 419.4,559.0 419.5,557.4 419.8,555.3 420.0,556.9 420.1,553.5 420.3,556.9 420.6,559.0 420.7,556.4 421.2,559.4 421.4,557.7 421.7,555.0 422.3,557.0 422.4,555.3 423.0,553.7 423.2,556.4 423.3,558.7 423.5,556.0 424.7,553.0 425.2,556.0 425.6,554.3 426.1,556.8 426.2,554.4 427.2,555.7 427.3,554.0 427.5,557.7 427.6,555.1 427.9,552.6 428.1,558.0 428.2,554.8 428.4,556.3 428.7,552.9 428.8,556.1 430.1,554.3 431.0,552.9 431.4,551.1 431.6,554.5 431.7,552.6 432.0,555.3 432.2,552.8 432.8,554.3 433.3,552.8 433.6,555.6 434.0,552.7 434.2,555.0 434.5,556.4 434.8,553.9 435.1,556.2 435.2,553.7 436.0,551.9 436.2,556.1 436.3,551.5 436.8,553.9 437.2,552.3 437.5,550.3 437.8,552.3 438.1,548.6 438.3,551.8 439.1,554.2 439.5,552.3 439.8,556.1 440.3,553.8 440.4,551.7 440.6,555.1 441.0,552.8 441.8,550.5 442.0,553.1 442.1,550.5 442.6,552.6 442.7,554.2 442.9,551.4 443.0,553.0 443.2,550.8 443.3,552.7 444.1,550.2 444.6,553.3 444.7,551.1 444.9,553.7 445.2,551.6 445.3,553.4 445.5,550.9 445.6,548.3 445.8,549.9 446.2,547.9 446.4,550.5 446.5,548.3 446.7,550.7 447.3,548.1 447.5,550.6 447.6,548.3 447.9,550.5 448.7,548.8 449.3,552.1 449.4,550.3 449.9,548.1 450.2,551.1 450.5,552.9 451.0,549.4 451.1,551.3 451.4,547.9 451.6,549.6 451.9,551.4 452.0,549.2 452.2,546.9 452.3,548.9 452.5,552.0 452.6,546.7 452.8,548.4 453.9,549.7 454.2,547.8 454.3,551.7 454.9,553.6 455.8,555.4 456.5,557.2 456.9,555.6 457.5,557.7 457.8,554.9 458.4,552.7 458.9,554.4 459.7,550.2 460.1,548.0 460.3,552.8 460.4,549.1 460.6,555.2 460.7,550.0 460.9,552.1 461.2,554.1 461.3,551.2 462.1,549.5 462.6,552.4 462.7,549.2 462.9,554.3 463.0,549.9 463.2,551.7 463.6,549.2 463.8,551.7 463.9,548.5 464.1,550.3 464.5,551.8 464.7,547.1 464.9,551.4 465.0,548.9 465.2,547.4 465.3,549.8 465.6,547.4 465.9,551.4 466.1,548.8 466.4,552.7 466.5,549.1 467.1,547.2 467.3,549.8 467.8,547.4 468.1,549.9 468.4,547.9 468.7,550.1 469.6,547.8 469.7,554.1 469.9,551.0 470.0,547.8 471.0,549.7 471.3,547.6 472.0,550.5 472.2,547.7 473.1,550.1 473.2,546.9 473.4,550.7 473.5,548.3 473.7,550.2 473.9,548.5 474.6,550.3 474.8,548.8 475.1,545.4 475.2,547.2 475.7,550.5 475.8,545.4 476.4,542.0 476.6,544.1 476.8,546.2 477.2,544.4 477.5,542.5 477.7,544.1 477.8,545.8 478.0,542.9 478.3,545.3 478.4,541.5 478.6,543.3 479.0,541.6 479.7,544.8 479.8,542.8 480.0,541.1 480.1,543.4 480.3,545.3 480.7,543.6 480.9,547.3 481.8,545.8 481.9,547.4 482.9,550.2 483.0,548.1 483.3,546.3 483.5,548.2 483.6,544.9 484.1,546.4 484.2,543.5 484.7,539.8 484.8,544.7 485.0,542.8 485.1,539.7 485.5,542.0 485.8,540.4 485.9,538.4 486.1,541.5 486.4,537.8 486.5,540.1 486.7,542.5 486.8,538.9 487.0,540.6 487.1,542.5 487.3,539.8 487.4,542.1 487.6,539.3 487.7,544.1 488.5,545.4 489.3,546.9 489.7,545.0 490.2,549.1 490.5,544.9 491.4,541.9 491.6,545.5 491.7,542.6 492.8,544.7 492.9,540.9 493.1,543.5 493.2,539.8 493.4,544.8 493.5,538.0 493.7,541.2 493.8,538.5 494.0,541.0 494.3,538.8 494.5,541.0 495.4,538.2 495.5,539.8 495.7,537.2 496.0,539.4 496.4,537.4 496.6,539.3 497.2,537.8 497.5,540.6 497.7,538.4 498.4,541.9 498.6,536.6 498.7,539.7 499.0,541.1 499.6,539.2 500.0,540.7 500.6,539.0 500.7,542.5 501.3,540.9 501.5,543.8 501.6,541.2 501.8,543.6 502.7,546.5 503.0,544.0 503.3,546.0 503.6,544.3 504.7,542.6 505.3,545.2 505.6,538.6 505.8,547.5 505.9,544.7 506.1,540.3 506.2,542.2 506.4,540.1 506.5,544.6 506.7,539.6 506.8,542.5 507.0,540.9 507.4,538.9 507.7,541.0 508.2,543.1 508.3,541.3 508.7,544.6 508.8,542.0 509.9,540.8 510.2,543.1 510.3,539.9 510.5,542.7 511.4,540.1 511.9,542.5 512.2,539.1 512.3,540.7 512.8,535.3 513.5,537.1 513.8,535.0 514.0,531.3 514.1,536.1 514.3,532.0 514.5,535.4 514.6,533.8 514.8,535.4 514.9,533.6 515.4,535.5 515.8,537.3 516.0,534.2 516.1,530.6 516.3,539.3 516.6,537.4 516.7,535.6 517.0,534.1 517.2,536.1 517.5,538.7 517.8,540.5 518.3,538.6 518.6,541.6 518.7,540.0 518.9,541.9 519.0,539.7 519.5,537.9 519.8,541.7 519.9,537.2 520.3,538.8 520.7,537.3 521.2,539.3 521.5,535.4 521.9,538.2 522.2,536.7 522.7,538.4 523.0,541.8 523.2,537.7 523.3,535.4 523.5,542.9 523.8,537.8 524.2,541.7 524.7,538.6 525.0,542.8 525.1,538.7 525.4,542.5 525.6,540.2 525.9,538.7 526.4,543.0 526.5,540.4 527.0,538.7 527.7,540.8 527.9,538.9 528.0,541.1 528.3,539.0 528.8,537.6 529.0,539.9 529.3,535.8 529.4,539.4 529.7,537.0 530.5,538.8 530.6,536.5 530.9,534.6 531.2,537.6 531.4,535.1 531.7,538.1 531.9,533.3 532.0,536.8 532.2,535.1 532.3,538.1 532.5,536.3 532.8,538.7 532.9,535.1 533.1,540.4 533.2,537.2 534.0,539.7 534.3,549.6 534.4,570.8 534.6,596.9 534.8,634.3 534.9,667.7 535.1,692.8 535.2,723.6 535.4,745.5 535.5,767.2 535.7,785.2 535.8,801.7 536.0,813.2 536.1,825.7 536.3,833.8 536.4,842.4 536.6,844.7 536.7,846.6 536.9,843.9 537.0,847.3 537.5,844.3 537.7,849.5 537.8,846.7 538.1,848.4 538.3,852.0 538.4,847.4 538.9,849.9 539.2,852.1 540.5,852.8 540.7,849.0 540.9,851.7 541.5,850.1 541.6,847.9 541.8,849.6 541.9,851.7 542.4,850.1 542.5,852.0 543.8,853.2 544.1,848.9 544.2,852.1 544.4,853.6 544.8,851.3 545.0,854.4 545.6,849.8 545.9,852.8 546.3,850.2 546.5,852.1 547.1,850.3 547.3,854.0 547.4,850.9 547.9,848.3 548.0,853.0 548.3,851.4 548.5,854.2 548.6,850.6 548.8,854.8 548.9,852.5 549.1,855.5 549.2,852.1 549.6,856.4 549.7,853.4 549.9,855.6 550.3,858.5 550.5,856.1 550.6,858.9 550.9,857.4 551.5,855.7 551.8,857.7 552.0,854.7 552.1,851.7 552.3,855.1 552.5,852.7 552.8,855.1 552.9,850.1 553.1,853.7 553.5,849.7 554.0,851.6 554.1,849.0 554.3,850.8 554.4,847.1 554.6,850.1 554.7,846.9 555.0,848.7 555.8,851.8 556.0,848.0 556.1,845.8 556.3,850.5 556.6,849.0 557.0,850.6 557.5,848.0 557.6,849.8 557.8,848.2 557.9,851.0 559.2,853.1 559.3,848.4 559.5,850.2 559.6,847.3 559.8,851.8 560.4,850.0 560.5,851.5 560.8,849.2 561.2,851.4 561.3,848.3 561.6,844.7 561.8,848.7 561.9,850.5 562.1,848.8 562.2,844.4 562.4,847.0 562.5,849.3 563.1,847.1 563.4,850.6 563.6,847.6 563.9,850.5 564.4,848.3 564.5,850.4 564.8,847.6 565.0,849.6 565.1,845.2 565.3,848.1 566.0,849.5 567.3,848.0 567.4,849.8 567.6,851.7 567.7,849.2 568.2,850.6 568.3,848.5 568.6,845.8 568.8,847.3 568.9,851.1 569.4,846.7 569.9,849.0 570.0,846.2 570.9,844.4 571.1,847.7 571.4,845.1 571.5,848.5 571.7,846.1 571.8,849.0 572.3,847.3 572.4,848.8 573.1,845.3 573.2,847.1 573.4,848.7 573.5,847.1 573.8,845.6 574.0,843.9 574.1,848.1 574.6,844.3 575.5,846.0 575.7,848.4 575.8,843.9 576.0,842.2 576.3,845.3 576.4,841.3 576.6,843.9 576.9,846.4 577.2,844.1 577.8,845.9 578.2,842.0 578.4,844.7 578.9,841.9 579.0,843.7 579.5,846.9 579.6,843.1 580.2,846.4 580.5,847.8 581.0,846.0 581.9,847.6 582.2,845.7 582.5,843.4 582.8,845.0 583.7,847.4 583.9,842.9 584.7,840.6 585.7,839.3 585.9,841.3 586.2,838.8 586.5,840.7 587.1,838.5 588.2,839.9 588.3,841.7 588.5,836.7 588.6,838.7 589.1,836.9 589.2,839.7 590.5,837.4 591.2,842.7 591.4,840.4 592.1,838.5 592.6,841.2 593.5,843.3 593.7,841.1 594.0,842.7 594.1,844.5 595.0,846.7 595.2,843.8 595.8,841.9 596.0,839.7 596.1,841.9 596.4,839.4 596.6,843.0 596.7,841.0 596.9,839.1 597.0,837.5 597.2,840.1 597.3,838.3 597.6,840.4 598.1,836.7 598.5,840.9 598.7,838.7 599.0,835.5 599.3,838.9 599.5,836.3 599.6,838.0 599.9,839.5 600.1,836.8 600.5,839.1 600.8,837.3 601.3,839.5 601.9,843.1 602.1,840.8 602.4,845.2 602.5,842.5 603.0,846.3 603.1,843.7 604.5,846.3 604.8,841.3 605.0,844.2 605.3,842.2 605.6,845.5 605.7,842.0 605.9,843.7 606.0,841.7 606.3,839.7 606.5,841.5 606.8,838.3 607.6,836.1 607.9,837.8 608.0,835.2 608.2,838.3 608.3,833.5 608.6,836.1 608.8,834.2 609.2,836.8 609.8,834.7 610.4,836.9 610.6,834.6 611.2,830.8 611.4,835.3 611.5,831.5 611.7,835.1 612.1,831.9 612.3,835.2 612.6,832.6 612.7,835.1 612.9,838.3 613.2,836.0 614.1,838.0 614.3,836.1 615.3,837.9 615.5,833.3 616.1,830.8 616.4,833.2 616.9,831.0 617.0,834.9 617.3,838.8 617.5,834.1 617.8,836.1 617.9,838.6 618.1,836.9 618.8,841.7 619.0,839.4 619.6,837.7 620.2,835.2 620.4,838.6 620.5,836.1 621.0,833.5 621.1,836.0 621.6,832.0 621.7,836.7 622.0,833.8 622.2,837.3 622.4,833.6 622.7,837.0 623.0,834.4 623.4,832.6 623.7,835.5 624.0,833.4 624.2,836.6 624.3,833.4 624.5,831.2 624.9,828.4 625.3,831.7 625.4,827.3 625.7,829.5 626.0,825.8 626.2,821.7 626.3,824.3 626.6,821.6 626.8,818.0 627.4,813.4 627.7,808.8 627.8,806.2 628.0,799.9 628.2,796.3 628.3,790.0 628.5,788.2 628.6,781.1 628.8,777.8 628.9,772.0 629.1,766.0 629.2,764.4 629.4,758.6 629.7,754.0 629.8,747.9 630.0,743.3 630.3,737.1 630.4,735.6 630.6,732.6 630.7,727.9 631.1,722.9 631.2,720.5 631.4,716.7 631.5,712.2 631.8,707.6 632.1,701.5 632.4,698.0 632.7,690.9 632.9,689.2 633.0,685.1 633.2,682.2 633.3,680.2 633.6,677.1 633.8,672.9 634.0,669.0 634.3,665.5 634.4,663.2 634.6,660.9 634.9,656.4 635.0,653.3 635.2,650.9 635.3,649.2 635.5,647.3 635.6,644.4 635.8,642.7 635.9,644.8 636.1,642.2 636.2,638.1 636.5,635.4 636.9,632.5 637.2,631.0 637.5,628.0 637.8,624.5 638.2,622.0 638.4,619.3 639.1,616.1 639.8,614.0 639.9,611.7 640.2,607.8 640.4,605.4 640.5,610.2 640.7,607.0 640.8,604.3 641.0,607.5 641.3,604.9 641.4,602.8 641.6,606.1 641.7,601.6 642.3,598.2 642.7,600.8 642.8,602.6 643.0,599.2 643.6,601.0 643.7,598.4 643.9,596.5 644.2,600.9 644.3,599.0 644.9,601.0 645.1,598.5 645.4,596.9 645.6,598.5 645.7,596.9 646.0,595.4 646.2,597.9 646.5,599.5 646.6,597.0 647.2,598.7 647.5,594.0 647.7,598.2 647.8,595.6 648.0,597.4 648.1,594.8 648.3,598.4 648.5,594.0 648.8,596.7 648.9,594.5 649.1,596.8 649.2,594.2 649.4,596.6 649.7,592.0 649.8,596.5 650.1,593.5 650.3,595.0 650.6,597.6 650.7,594.0 651.5,592.4 652.1,591.0 652.7,587.8 653.0,589.8 653.3,586.9 653.5,590.4 653.6,592.2 653.8,588.6 654.1,586.9 654.9,585.2 655.0,588.6 655.3,585.7 655.5,588.8 655.8,585.8 655.9,587.7 656.1,586.0 656.5,583.8 656.7,586.4 657.3,584.7 657.5,587.5 657.6,585.6 657.8,587.7 657.9,583.7 658.5,585.5 658.8,588.2 659.0,584.2 659.1,585.7 659.4,584.2 659.9,587.8 660.1,585.1 660.8,583.4 661.3,585.6 661.4,582.7 662.2,579.7 662.3,581.2 662.5,582.9 663.3,580.1 663.4,583.2 663.7,581.7 664.3,578.2 664.5,580.9 664.9,578.0 665.5,581.1 665.7,577.7 666.0,573.8 666.3,575.5 666.5,573.8 667.7,575.9 667.8,569.4 668.0,573.4 668.1,576.7 668.3,573.9 668.8,575.6 669.2,577.1 669.4,575.2 669.5,577.3 670.1,579.8 670.3,576.9 670.4,572.4 670.6,579.1 670.9,577.6 671.2,575.7 671.3,577.2 672.0,574.7 672.1,577.5 672.6,573.2 672.7,578.0 672.9,573.5 673.0,577.0 673.2,572.1 673.3,574.1 673.5,576.3 674.4,573.6 674.6,575.2 674.7,579.0 674.9,575.5 675.0,573.2 675.2,577.1 675.3,575.5 675.6,577.5 675.9,575.2 676.1,577.1 676.2,574.7 677.1,573.4 677.5,575.9 677.6,572.9 678.2,571.3 678.4,574.7 678.5,572.2 678.8,576.6 679.0,569.5 679.1,571.6 679.7,568.8 680.0,570.7 680.2,568.6 680.7,570.5 681.1,566.3 681.3,569.4 681.9,571.1 682.0,567.3 682.2,572.3 682.3,569.8 682.9,571.4 683.1,569.9 683.2,572.2 683.9,570.0 684.2,568.3 684.5,571.2 684.6,567.5 684.8,569.4 685.1,567.4 685.5,565.9 686.0,570.1 686.3,566.9 686.5,569.4 686.8,567.3 686.9,569.5 687.1,566.0 687.7,569.7 688.0,565.4 688.1,567.1 688.3,569.2 688.6,565.1 688.7,568.6 689.0,566.5 689.4,564.2 689.5,565.9 690.0,564.2 690.3,566.5 690.4,563.9 691.0,562.2 691.5,559.6 691.6,561.8 692.3,560.3 692.6,562.6 692.9,559.6 693.0,563.1 693.2,560.5 693.5,563.5 694.2,561.8 694.5,563.3 695.0,566.8 695.2,563.8 695.9,562.3 696.5,563.7 696.7,560.4 697.1,562.7 697.6,560.7 697.9,563.2 698.4,560.7 698.7,562.3 698.8,560.6 699.0,566.2 699.1,562.0 699.3,565.6 699.6,562.9 700.0,564.8 700.2,561.5 700.6,563.3 700.8,561.1 701.7,564.4 701.9,562.1 702.0,559.1 702.2,563.4 702.3,561.4 702.6,563.2 702.8,558.8 703.2,562.0 703.4,560.5 703.5,562.3 703.9,559.9 704.2,562.3 704.6,560.4 705.2,558.9 705.7,556.9 705.8,561.9 706.0,555.9 706.9,553.7 707.1,555.6 707.2,553.6 707.8,555.8 708.1,553.8 708.9,556.5 709.0,554.4 709.5,556.6 709.7,555.0 710.1,557.0 710.3,559.9 710.6,555.3 710.7,560.0 710.9,556.7 711.3,560.7 711.5,555.0 711.6,557.4 711.9,555.3 712.2,553.7 712.4,558.4 712.6,556.3 712.7,552.3 712.9,554.8 713.0,552.7 713.2,554.8 713.5,556.6 713.8,552.2 713.9,553.8 714.1,552.1 714.2,555.1 714.8,553.7 715.1,550.9 715.3,555.0 715.8,553.5 715.9,557.8 716.1,552.4 716.5,555.0 717.0,550.8 717.1,553.9 717.4,550.6 717.6,547.6 717.7,552.8 718.0,547.8 718.2,553.2 718.5,548.7 718.7,552.7 719.0,550.5 719.4,554.0 719.6,551.3 720.3,549.8 720.8,552.9 720.9,555.1 721.1,552.2 721.7,550.7 722.0,552.8 722.2,550.9 722.6,553.1 722.8,551.3 723.5,552.8 724.0,550.7 724.6,548.7 724.8,552.0 725.2,549.5 725.5,551.0 725.7,548.7 726.9,549.9 727.1,546.6 727.2,551.0 727.5,548.3 727.8,551.0 728.0,549.4 728.3,551.2 729.5,550.2 729.6,552.5 729.8,550.5 730.4,553.5 730.6,548.5 730.7,551.2 731.0,549.3 731.2,552.2 731.6,549.8 731.8,551.6 731.9,546.3 732.1,551.9 732.2,549.7 732.9,547.9 733.2,549.5 733.5,547.1 733.6,550.0 733.9,551.8 734.1,549.8 734.5,551.5 735.0,553.6 735.4,550.9 735.6,552.7 735.8,551.1 735.9,554.4 736.2,557.2 736.4,553.7 736.7,555.5 737.0,550.6 737.6,548.8 737.9,552.2 738.3,548.3 738.5,550.1 738.8,547.9 739.0,550.4 739.3,548.2 740.0,545.2 740.3,548.3 740.8,546.4 741.4,544.1 741.7,547.4 742.6,546.0 742.8,548.0 743.1,545.3 743.2,547.6 743.5,544.6 743.7,547.1 743.8,548.7 744.0,546.8 744.1,543.3 744.3,546.1 745.1,544.6 745.8,543.0 746.3,547.1 746.4,542.7 746.6,545.9 746.7,541.2 746.9,548.4 747.8,550.3 748.0,547.4 748.1,550.0 748.4,552.5 748.7,554.4 749.8,553.0 749.9,551.5 750.1,554.1 750.6,551.8 750.9,547.9 751.0,549.6 751.5,547.5 751.9,545.2 752.4,547.0 752.5,543.3 753.0,541.8 753.1,543.8 753.3,541.1 753.5,546.1 753.8,541.9 753.9,544.5 754.7,541.8 754.8,548.1 755.1,545.3 755.3,543.1 755.4,545.1 755.6,542.4 755.7,546.9 756.4,549.4 756.5,545.9 757.0,543.1 757.1,549.3 757.6,547.1 757.7,550.1 757.9,547.7 758.5,545.2 758.6,546.7 758.8,549.3 758.9,544.2 759.1,545.8 759.9,543.7 760.0,546.9 760.3,544.2 761.4,547.3 761.7,544.6 761.8,546.7 762.3,545.2 762.6,549.8 762.8,544.5 763.1,546.6 763.4,545.1 763.7,548.9 764.0,546.8 764.6,545.0 764.7,547.8 764.9,545.4 765.4,548.9 765.5,545.3 766.1,547.1 766.4,548.7 766.6,546.4 767.0,548.6 767.3,545.6 767.6,549.1 768.0,551.0 768.1,549.5 768.3,545.3 768.4,550.1 768.6,547.1 769.0,544.8 769.2,548.7 769.3,544.5 769.9,546.7 770.1,542.5 770.2,544.5 770.5,542.0 770.9,546.1 771.0,541.6 771.2,543.6 771.3,541.0 771.5,543.1 771.8,540.1 771.9,543.0 772.1,546.2 772.2,543.5 772.5,541.4 772.7,543.3 773.0,545.0 773.1,543.0 773.6,541.1 773.8,543.2 774.5,544.8 774.8,542.4 775.0,540.2 775.1,545.9 775.7,547.4 775.9,544.3 776.2,550.8 776.3,545.9 776.5,547.9 777.1,549.5 777.4,547.4 777.6,545.3 777.7,550.0 777.9,545.8 778.0,549.8 778.8,547.8 778.9,545.1 779.1,548.9 779.4,547.0 779.9,543.7 780.2,545.3 780.3,547.7 780.5,545.1 780.6,539.1 780.8,542.7 780.9,540.4 781.4,542.9 782.3,544.9 782.5,542.4 782.8,544.2 782.9,541.1 783.1,545.6 783.2,543.2 783.7,545.4 783.8,542.6 785.2,541.4 785.4,539.5 785.5,541.1 785.7,542.7 786.4,538.9 786.7,537.1 786.9,539.0 787.0,541.0 787.2,539.1 787.3,544.4 787.5,541.2 787.8,543.0 788.7,544.5 789.2,541.3 789.5,544.0 789.6,542.0 790.1,544.7 790.4,542.9 790.7,541.0 791.2,544.8 791.3,543.1 792.1,538.6 792.2,543.2 792.7,541.5 793.0,545.2 793.3,542.0 793.4,544.2 793.6,547.1 793.7,542.9 794.4,546.0 794.5,542.7 795.3,540.4 795.7,542.1 795.9,544.4 796.2,538.8 796.3,543.7 796.5,537.5 796.6,542.7 796.8,539.1 797.1,540.9 797.4,537.2 797.6,543.8 797.9,542.0 798.0,538.8 798.2,541.3 798.5,542.8 798.8,545.4 798.9,541.8 800.0,539.8 800.2,541.8 800.5,543.4 800.6,541.0 801.1,538.8 801.2,541.2 801.4,538.1 801.5,540.0 802.3,538.6 802.4,540.6 802.9,536.3 803.1,539.2 803.2,535.8 803.8,538.2 804.0,534.6 804.1,536.4 804.4,537.9 805.0,539.5 805.7,537.8 806.3,535.8 806.4,539.6 806.9,537.1 807.6,538.6 807.8,536.2 807.9,538.7 808.1,536.7 808.6,539.4 808.7,537.7 808.9,540.3 809.0,535.3 809.2,539.2 809.8,534.3 809.9,539.0 810.5,534.6 810.7,538.6 810.8,540.4 811.0,537.9 811.3,535.4 811.5,539.8 811.6,537.4 812.5,539.5 812.7,537.7 812.8,536.1 813.0,539.1 813.1,541.2 813.4,539.1 813.9,537.6 814.2,541.8 814.4,538.9 814.5,541.4 814.8,543.5 815.1,540.9 815.3,537.7 815.4,540.9 815.9,543.7 816.0,540.1 816.2,542.0 816.3,544.2 816.5,540.8 817.1,543.4 817.3,539.4 817.4,541.4 818.2,543.7 818.3,539.8 818.6,537.8 818.8,541.7 818.9,539.2 819.1,535.6 819.2,540.8 819.4,536.1 819.5,538.3 819.7,535.3 819.8,536.9 820.0,534.7 820.1,538.4 820.5,536.4 820.6,538.6 820.8,536.2 820.9,537.8 821.8,536.0 822.1,538.4 822.9,536.4 823.0,538.1 823.4,534.7 823.5,538.0 823.7,535.5 823.8,533.5 824.0,535.7 824.7,538.0 824.9,534.1 825.0,536.4 825.2,533.2 825.3,538.6 825.6,534.9 825.9,538.3 826.1,535.6 826.3,537.6 826.4,540.4 826.6,538.6 826.7,540.6 826.9,537.4 827.2,539.9 827.3,535.1 827.5,539.1 827.6,537.5 827.8,539.2 827.9,536.0 828.1,537.7 828.2,533.6 828.4,538.6 828.7,536.2 828.8,537.8 829.5,535.3 829.8,539.3 829.9,536.7 830.4,535.0 830.5,536.7 830.7,535.0 830.8,537.2 831.0,539.0 831.1,541.9 831.3,539.8 831.4,535.5 831.6,538.1 832.2,536.6 833.1,532.9 833.3,537.0 833.4,534.8 833.7,538.5 834.0,534.1 834.5,532.5 835.0,535.5 835.1,532.5 835.4,535.4 835.6,531.2 835.7,536.6 836.0,531.7 836.2,535.8 836.3,532.4 836.5,534.1 836.6,536.0 836.8,533.5 836.9,535.0 837.2,533.4 837.5,535.1 837.9,537.4 838.0,539.6 838.2,536.1 838.5,533.6 838.6,536.4 838.9,533.9 839.2,537.7 839.4,535.4 839.5,540.5 839.7,537.5 840.0,533.1 840.3,536.7 840.6,539.1 840.8,533.2 840.9,535.4 841.4,536.9 841.8,533.3 842.0,530.6 842.1,535.5 842.3,532.5 842.4,535.1 842.6,533.2 842.9,535.3 843.2,532.0 843.5,534.9 843.7,531.6 843.8,533.4 844.0,530.9 844.1,533.0 844.6,535.6 844.9,533.6 845.5,536.5 845.6,533.5 846.4,535.8 846.9,534.2 847.0,537.2 847.3,539.2 847.5,536.7 847.6,534.4 848.1,536.6 849.0,538.9 849.1,534.1 849.5,536.7 849.8,533.7 849.9,537.6 850.1,534.5 850.4,536.5 850.5,538.2 850.7,535.6 850.8,531.7 851.0,536.0 851.3,538.9 851.6,537.2 851.7,534.3 853.3,533.5 853.6,535.1 853.7,533.4 853.9,537.2 854.3,534.6 854.9,536.4 855.3,533.4 855.6,535.4 856.3,532.7 856.5,537.0 856.6,535.2 857.7,536.3 858.0,534.1 858.2,536.9 858.3,532.4 858.5,535.0 859.5,536.2 859.7,534.4 859.8,537.5 860.0,534.9 860.1,536.5 860.4,534.2 861.2,535.5 861.7,533.4 861.8,535.3 862.4,533.7 862.7,536.0 863.5,537.6 863.6,534.6 863.8,539.6 864.0,537.0 864.1,538.8 864.4,540.3 864.6,538.2 864.7,533.5 864.9,537.5 865.0,541.4 865.2,537.5 865.5,535.7 865.6,539.9 865.8,542.2 865.9,537.8 866.2,539.8 866.5,536.4 866.9,538.3 867.0,536.6 867.3,534.9 867.6,533.1 867.8,538.0 867.9,536.3 868.5,538.3 868.7,534.9 869.0,536.8 869.3,542.1 869.4,537.8 869.9,540.6 870.1,538.8 871.4,536.0 871.6,538.2 871.7,535.6 872.2,537.0 872.7,534.8 872.8,537.3 873.1,534.4 873.3,537.4 873.7,535.8 873.9,538.4 874.2,540.6 874.5,537.0 874.8,538.6 874.9,536.9 875.7,542.0 875.9,540.1 876.0,537.1 876.2,539.2 876.5,537.6 876.6,536.1 877.4,533.9 877.5,532.1 877.8,534.9 878.0,532.1 878.5,528.8 878.6,533.5 879.2,531.4 879.7,533.3 879.8,530.8 880.0,534.9 880.1,532.9 880.3,535.2 880.4,529.8 880.6,532.1 880.7,533.7 881.2,535.8 881.4,533.0 881.5,534.7 881.8,532.5 882.3,534.7 882.6,537.0 882.7,534.5 883.3,537.8 883.5,536.2 883.9,532.6 884.1,537.3 884.4,535.5 885.2,533.4 885.9,532.1 886.2,534.1 886.7,532.1 887.0,533.8 887.3,535.7 887.5,533.8 887.9,535.7 888.5,537.1 888.7,538.7 889.9,537.6 890.4,540.1 890.5,536.5 890.7,538.8 890.8,540.7 891.0,536.6 891.9,538.0 892.0,534.4 892.2,538.6 892.6,536.0 892.9,540.0 893.1,542.3 893.4,538.0 894.2,540.0 894.3,537.6 894.6,539.3 895.1,534.9 895.2,538.4 895.8,536.4 896.2,534.7 896.8,536.2 896.9,533.6 897.2,530.2 897.4,532.3 897.5,534.9 897.7,531.8 898.0,534.0 898.1,531.3" fill="none" stroke="#000" stroke-width="1.4"/>
<path d="M157.6 544.7h0M157.8 550.4h0M157.9 542.9h0M158.1 547.8h0M158.5 546.0h0M158.7 547.6h0M158.8 549.3h0M159.8 548.1h0M160.1 549.7h0M160.2 546.7h0M160.8 548.9h0M161.0 545.1h0M161.4 546.7h0M161.7 548.2h0M162.2 546.4h0M162.7 544.2h0M162.8 547.5h0M163.0 544.6h0M163.1 546.8h0M163.9 545.4h0M164.2 547.8h0M164.3 543.1h0M164.5 545.0h0M164.6 543.3h0M165.1 541.7h0M165.4 544.9h0M165.7 542.6h0M166.0 544.9h0M166.3 540.6h0M166.5 542.9h0M166.6 546.3h0M166.8 543.4h0M167.4 544.8h0M168.8 542.9h0M169.2 540.9h0M169.4 544.5h0M169.5 541.8h0M170.0 543.2h0M170.8 544.5h0M171.1 543.0h0M171.4 545.2h0M171.7 542.5h0M171.8 544.6h0M172.1 547.0h0M172.3 544.5h0M172.6 546.6h0M172.7 543.6h0M172.9 546.5h0M173.2 544.5h0M173.7 547.7h0M173.8 544.7h0M174.4 542.8h0M174.7 544.3h0M175.3 542.9h0M175.5 545.1h0M175.6 542.7h0M176.4 544.7h0M176.7 543.2h0M177.2 545.3h0M177.5 543.7h0M177.8 545.7h0M177.9 547.6h0M178.1 544.1h0M178.2 546.5h0M178.5 543.4h0M178.8 545.4h0M179.1 547.8h0M179.3 541.7h0M179.5 544.4h0M180.2 546.3h0M180.8 544.1h0M181.1 547.3h0M181.3 544.6h0M182.0 546.2h0M182.7 543.2h0M183.1 545.8h0M183.7 550.1h0M183.9 544.1h0M184.0 547.9h0M184.2 546.1h0M184.8 549.6h0M184.9 547.4h0M185.1 548.9h0M185.3 545.0h0M185.4 565.3h0M185.6 585.8h0M185.7 611.4h0M185.9 635.1h0M186.0 663.6h0M186.2 689.3h0M186.3 713.6h0M186.5 737.2h0M186.6 757.8h0M186.8 776.9h0M186.9 791.1h0M187.1 807.8h0M187.2 816.4h0M187.4 826.7h0M187.8 835.0h0M188.2 833.2h0M188.6 835.1h0M189.4 837.3h0M189.5 839.9h0M190.1 843.2h0M190.3 840.4h0M190.4 837.9h0M190.6 841.0h0M190.7 838.5h0M190.9 842.1h0M191.2 845.0h0M191.5 843.2h0M191.8 845.7h0M192.0 843.6h0M192.3 848.2h0M192.4 845.0h0M192.6 847.2h0M192.7 850.9h0M192.9 847.1h0M193.0 850.8h0M193.2 846.4h0M193.5 851.0h0M194.3 852.9h0M194.4 848.6h0M194.7 852.0h0M194.9 850.3h0M195.0 852.3h0M195.2 849.7h0M195.3 853.3h0M196.1 850.8h0M196.2 853.3h0M196.7 855.8h0M197.0 854.3h0M197.6 852.6h0M198.2 849.4h0M198.4 851.0h0M198.7 847.2h0M198.8 843.2h0M199.0 838.2h0M199.1 834.2h0M199.3 829.8h0M199.4 822.6h0M199.6 814.4h0M199.7 809.4h0M199.9 799.2h0M200.1 786.9h0M200.2 773.9h0M200.4 762.9h0M200.5 749.2h0M200.7 733.9h0M200.8 719.8h0M201.0 702.1h0M201.1 691.4h0M201.3 677.3h0M201.4 665.8h0M201.6 650.9h0M201.7 640.9h0M201.9 630.8h0M202.0 619.1h0M202.2 616.6h0M202.3 604.7h0M202.5 598.5h0M202.6 591.8h0M202.8 586.5h0M203.0 582.7h0M203.1 576.2h0M203.4 571.8h0M203.6 569.4h0M203.9 565.0h0M204.2 563.2h0M204.3 560.8h0M204.5 559.2h0M204.6 555.9h0M204.8 559.4h0M204.9 557.4h0M205.1 553.4h0M205.4 549.0h0M205.5 551.7h0M205.7 549.2h0M206.0 546.1h0M206.3 544.1h0M206.6 542.2h0M206.9 544.0h0M207.2 537.0h0M207.4 539.3h0M207.7 537.5h0M207.8 539.1h0M208.0 532.9h0M208.1 538.8h0M208.3 534.6h0M208.4 537.7h0M209.1 536.2h0M209.2 540.6h0M209.4 535.5h0M209.7 538.1h0M210.0 540.6h0M210.1 538.6h0M211.2 537.4h0M211.3 539.1h0M211.5 536.5h0M212.1 538.2h0M212.3 535.9h0M212.4 538.5h0M212.6 535.1h0M212.9 533.1h0M213.0 534.7h0M213.3 531.8h0M213.8 533.4h0M214.1 531.8h0M214.6 533.7h0M214.7 531.4h0M215.2 536.0h0M215.3 532.9h0M215.6 534.4h0M215.8 532.0h0M215.9 535.8h0M216.1 533.9h0M216.4 535.5h0M216.7 537.9h0M217.0 536.1h0M217.1 538.2h0M217.6 535.8h0M218.2 538.2h0M218.5 534.9h0M218.7 531.4h0M218.8 533.5h0M219.9 530.6h0M220.2 533.6h0M221.4 535.4h0M221.9 538.7h0M222.0 536.6h0M222.2 539.1h0M222.3 535.8h0M222.5 539.2h0M222.6 536.6h0M223.1 539.0h0M223.6 543.3h0M223.7 541.4h0M223.9 538.6h0M224.3 540.1h0M224.6 537.1h0M224.8 541.7h0M225.1 539.2h0M225.5 536.0h0M226.3 533.6h0M226.5 536.1h0M226.6 534.4h0M227.7 536.2h0M228.0 538.0h0M228.3 536.2h0M229.1 534.3h0M229.2 537.7h0M229.8 535.9h0M230.0 538.7h0M230.3 536.5h0M231.2 538.2h0M231.3 535.5h0M231.5 537.8h0M231.6 541.9h0M231.8 539.5h0M232.3 535.6h0M232.4 540.3h0M232.9 538.0h0M233.3 540.5h0M233.5 538.8h0M233.9 536.5h0M234.1 534.9h0M234.2 538.6h0M234.4 536.0h0M234.5 539.5h0M234.7 537.6h0M235.0 534.3h0M235.2 537.9h0M235.6 535.9h0M236.1 537.6h0M236.8 540.2h0M237.8 538.7h0M238.1 540.4h0M239.0 541.6h0M239.3 539.9h0M239.4 541.8h0M239.7 539.9h0M240.2 542.8h0M240.3 539.9h0M240.8 538.3h0M241.0 541.0h0M241.1 560.5h0M241.3 593.5h0M241.4 633.5h0M241.6 666.7h0M241.7 705.2h0M241.9 738.8h0M242.0 762.6h0M242.2 787.1h0M242.3 808.4h0M242.5 824.3h0M242.6 831.9h0M242.8 836.7h0M242.9 839.7h0M243.1 842.3h0M243.2 839.7h0M243.4 842.0h0M243.9 847.4h0M244.0 845.1h0M244.2 847.7h0M244.3 846.1h0M244.8 847.6h0M244.9 850.1h0M246.1 854.0h0M246.3 851.4h0M246.9 853.8h0M247.2 855.7h0M247.4 854.2h0M248.7 853.3h0M249.5 855.9h0M250.1 857.5h0M250.4 855.6h0M251.2 857.6h0M251.6 856.1h0M251.9 859.1h0M252.7 855.9h0M253.0 857.6h0M253.5 860.5h0M253.6 857.8h0M253.8 854.7h0M253.9 856.6h0M254.1 859.0h0M254.4 857.0h0M254.5 859.8h0M255.0 854.7h0M255.2 858.5h0M255.8 856.8h0M256.2 854.0h0M256.4 857.9h0M256.5 855.9h0M256.8 857.6h0M257.0 854.9h0M257.4 851.6h0M257.7 847.4h0M258.1 844.3h0M258.4 840.2h0M258.5 838.4h0M258.7 833.3h0M258.8 830.3h0M259.1 826.8h0M259.3 822.0h0M259.4 819.5h0M259.6 814.1h0M259.7 810.7h0M259.9 804.3h0M260.0 801.6h0M260.2 795.0h0M260.3 791.4h0M260.5 785.2h0M260.6 780.8h0M260.8 775.6h0M261.0 770.4h0M261.1 766.3h0M261.3 761.2h0M261.4 753.4h0M261.6 744.8h0M261.7 740.1h0M261.9 731.8h0M262.0 727.9h0M262.2 718.6h0M262.3 711.0h0M262.5 704.9h0M262.6 697.4h0M262.8 692.6h0M262.9 686.1h0M263.1 677.9h0M263.2 675.0h0M263.4 667.8h0M263.5 664.5h0M263.7 655.4h0M264.0 648.7h0M264.2 644.7h0M264.3 642.8h0M264.5 636.2h0M264.8 627.7h0M265.1 625.7h0M265.2 621.5h0M265.4 615.4h0M265.7 612.4h0M265.8 608.8h0M266.0 605.6h0M266.1 603.6h0M266.3 600.7h0M266.4 599.2h0M266.7 594.1h0M267.1 589.7h0M267.2 586.7h0M267.5 583.0h0M268.0 575.5h0M268.3 572.5h0M268.6 570.5h0M268.9 572.4h0M269.0 567.8h0M269.3 565.1h0M269.8 561.7h0M270.1 558.8h0M270.6 557.1h0M270.9 553.5h0M271.0 555.3h0M271.2 553.6h0M271.3 550.8h0M272.4 548.4h0M272.5 546.8h0M272.7 549.4h0M273.0 545.4h0M273.3 547.9h0M273.8 545.2h0M273.9 546.7h0M274.1 549.0h0M274.5 545.2h0M274.8 547.1h0M275.3 543.9h0M275.4 546.6h0M275.8 545.0h0M275.9 547.0h0M276.1 549.0h0M276.2 545.7h0M276.7 548.1h0M276.8 545.3h0M277.3 547.7h0M277.4 545.9h0M277.9 543.7h0M278.2 545.7h0M278.5 542.7h0M278.7 545.4h0M278.8 541.0h0M279.1 542.7h0M279.7 541.0h0M279.9 543.6h0M280.0 537.7h0M280.2 542.2h0M280.5 539.1h0M280.8 542.8h0M280.9 536.3h0M281.1 539.5h0M282.0 540.7h0M282.3 537.6h0M282.6 540.6h0M282.8 538.5h0M282.9 540.1h0M283.2 534.9h0M283.4 542.0h0M283.5 540.3h0M285.1 540.7h0M285.8 539.1h0M286.1 541.0h0M286.4 538.8h0M286.7 535.7h0M286.9 537.9h0M287.8 536.3h0M288.0 539.6h0M288.4 537.8h0M289.2 540.8h0M289.3 538.8h0M289.5 537.0h0M289.6 541.3h0M290.3 537.9h0M290.4 543.4h0M290.6 541.8h0M291.3 539.5h0M291.6 537.1h0M291.8 539.1h0M292.2 536.7h0M292.5 534.6h0M292.7 536.5h0M293.2 538.5h0M293.5 537.0h0M293.9 542.6h0M294.1 536.9h0M294.4 538.6h0M294.5 536.3h0M294.7 538.5h0M294.8 535.9h0M295.0 538.1h0M295.4 539.9h0M296.4 538.2h0M297.3 535.5h0M297.4 541.1h0M297.6 537.9h0M297.7 539.8h0M298.0 542.8h0M298.5 539.9h0M298.8 542.5h0M299.0 540.6h0M299.1 544.6h0M299.3 542.7h0M300.0 539.7h0M300.2 541.6h0M300.3 540.1h0M300.6 542.1h0M301.1 538.6h0M301.4 542.9h0M301.5 538.8h0M301.7 537.2h0M301.9 539.6h0M302.0 541.6h0M302.3 539.2h0M303.2 536.1h0M303.4 538.0h0M304.3 539.8h0M304.6 537.9h0M304.8 539.7h0M305.1 541.8h0M305.2 539.8h0M305.7 543.1h0M305.8 576.9h0M306.0 615.7h0M306.1 650.0h0M306.3 686.0h0M306.4 710.9h0M306.6 731.9h0M306.7 756.6h0M306.9 783.3h0M307.0 798.1h0M307.2 812.6h0M307.3 826.8h0M307.5 835.5h0M307.7 838.3h0M307.8 836.3h0M308.1 842.3h0M308.6 839.3h0M308.7 846.5h0M309.2 843.7h0M309.3 847.5h0M309.6 849.3h0M309.8 852.1h0M310.1 850.1h0M310.4 853.7h0M311.5 857.2h0M311.6 855.6h0M311.9 857.7h0M312.1 854.6h0M312.5 853.2h0M313.0 855.6h0M313.1 852.4h0M313.6 854.3h0M314.4 856.5h0M315.0 858.0h0M315.3 859.9h0M316.4 861.6h0M316.8 863.2h0M317.6 865.5h0M317.7 861.5h0M317.9 864.6h0M318.0 861.6h0M318.2 864.5h0M318.3 863.0h0M318.5 861.4h0M318.6 865.2h0M318.8 861.1h0M319.3 862.6h0M319.4 860.9h0M319.6 863.2h0M320.2 861.0h0M320.9 857.7h0M321.1 860.2h0M321.5 864.3h0M321.7 855.8h0M321.8 858.3h0M322.2 861.9h0M322.5 858.9h0M322.6 860.5h0M323.4 858.8h0M323.8 861.6h0M324.3 859.7h0M324.4 861.7h0M324.6 863.4h0M324.7 860.5h0M324.9 864.7h0M325.2 859.1h0M325.4 863.6h0M325.7 865.8h0M325.8 863.7h0M326.0 860.4h0M326.4 864.8h0M326.6 862.5h0M326.9 864.3h0M327.2 861.2h0M327.3 863.4h0M327.8 864.8h0M328.3 861.4h0M328.4 865.3h0M328.6 863.1h0M328.9 861.1h0M329.5 862.9h0M329.8 859.1h0M329.9 861.0h0M330.2 859.1h0M330.9 861.3h0M331.0 859.0h0M331.2 861.2h0M331.3 857.7h0M331.6 861.0h0M331.8 858.9h0M332.4 862.1h0M332.5 858.7h0M333.0 860.5h0M333.3 855.7h0M333.4 857.3h0M333.9 860.0h0M334.4 862.0h0M334.8 860.4h0M335.1 862.5h0M335.3 864.2h0M335.7 861.1h0M335.9 859.4h0M336.0 864.0h0M336.3 862.3h0M336.6 864.4h0M337.3 862.3h0M337.6 865.2h0M337.9 860.1h0M338.2 863.0h0M338.3 860.6h0M339.1 858.5h0M340.0 860.9h0M340.2 856.4h0M340.3 858.8h0M340.5 856.4h0M340.6 858.0h0M341.1 855.6h0M341.7 852.6h0M341.8 857.5h0M342.0 855.2h0M342.1 857.1h0M342.3 855.4h0M342.4 857.9h0M342.8 862.0h0M342.9 859.3h0M343.4 856.5h0M343.5 860.4h0M343.8 858.5h0M344.1 856.5h0M344.3 859.7h0M344.6 856.9h0M344.7 859.7h0M344.9 856.9h0M345.0 860.6h0M345.2 854.9h0M345.3 857.6h0M345.5 859.3h0M345.7 855.9h0M346.0 857.6h0M347.0 858.7h0M347.6 855.7h0M347.9 860.6h0M348.1 854.5h0M348.2 856.5h0M348.4 858.3h0M348.7 856.4h0M348.9 859.1h0M349.0 854.6h0M349.2 857.6h0M349.3 853.2h0M349.9 857.2h0M350.1 853.7h0M350.5 850.5h0M350.7 848.2h0M351.1 843.5h0M351.3 839.7h0M351.5 837.0h0M351.6 829.0h0M351.8 826.0h0M351.9 813.9h0M352.1 811.4h0M352.2 804.5h0M352.4 801.6h0M352.5 797.2h0M352.7 788.9h0M352.8 785.4h0M353.0 779.9h0M353.1 772.3h0M353.4 766.0h0M353.6 760.6h0M353.7 755.9h0M353.9 750.3h0M354.0 744.0h0M354.2 741.1h0M354.4 734.7h0M354.7 727.4h0M355.0 721.8h0M355.1 719.9h0M355.3 717.5h0M355.4 712.4h0M355.7 704.3h0M355.9 706.2h0M356.2 700.8h0M356.3 697.6h0M356.5 695.3h0M356.6 690.3h0M357.3 686.1h0M357.4 682.7h0M357.6 680.3h0M357.9 678.6h0M358.0 673.5h0M358.2 671.6h0M358.3 670.0h0M358.5 668.1h0M358.6 665.5h0M358.8 661.0h0M358.9 658.4h0M359.5 653.3h0M359.7 648.9h0M360.0 644.3h0M360.5 640.9h0M360.8 636.5h0M361.1 633.7h0M361.2 632.1h0M361.4 629.9h0M361.7 627.7h0M361.8 623.9h0M362.1 622.2h0M362.3 619.5h0M362.4 617.0h0M362.9 613.2h0M363.1 611.5h0M363.2 608.4h0M363.7 604.5h0M363.8 606.3h0M364.1 603.5h0M364.3 602.0h0M364.7 597.9h0M364.9 599.9h0M365.2 594.9h0M365.5 593.4h0M366.0 591.2h0M366.1 589.2h0M366.3 591.3h0M366.4 589.4h0M366.9 587.8h0M367.0 584.4h0M367.8 585.8h0M367.9 584.0h0M368.7 582.3h0M369.3 580.6h0M369.5 582.2h0M370.2 577.9h0M370.4 581.5h0M370.8 580.1h0M371.3 576.7h0M371.8 579.8h0M371.9 577.8h0M372.8 576.2h0M373.4 574.8h0M374.2 571.2h0M374.3 573.8h0M374.5 572.3h0M375.1 573.7h0M375.3 571.5h0M375.9 573.4h0M376.0 571.9h0M376.2 574.1h0M376.3 571.7h0M376.6 573.3h0M377.1 571.6h0M377.7 568.9h0M377.9 570.9h0M378.6 569.0h0M378.9 567.3h0M379.4 565.7h0M379.5 570.5h0M379.7 568.2h0M379.8 571.4h0M380.0 569.4h0M380.6 571.2h0M380.8 569.7h0M381.2 571.2h0M381.5 568.9h0M381.8 572.1h0M382.0 574.0h0M382.1 571.5h0M382.3 569.9h0M382.4 572.5h0M382.6 567.2h0M382.7 572.1h0M383.0 574.5h0M383.2 571.4h0M383.5 575.9h0M383.7 572.7h0M384.1 571.0h0M384.4 573.3h0M384.6 571.2h0M384.7 573.6h0M385.2 572.0h0M385.9 568.9h0M386.1 572.5h0M386.3 570.2h0M386.4 575.4h0M386.6 571.9h0M386.7 569.3h0M386.9 571.3h0M387.8 569.8h0M388.8 567.3h0M389.2 569.3h0M390.4 567.1h0M390.5 569.3h0M391.0 571.5h0M391.1 568.7h0M391.3 570.9h0M391.4 572.6h0M391.6 568.3h0M392.1 570.3h0M392.4 567.9h0M392.5 572.2h0M392.7 567.5h0M393.3 566.1h0M393.7 564.6h0M393.9 566.5h0M394.0 562.2h0M394.6 564.6h0M394.8 562.8h0M396.0 564.8h0M396.2 561.0h0M396.9 562.6h0M397.7 565.6h0M397.9 562.7h0M398.3 564.5h0M398.5 561.4h0M398.6 565.3h0M399.2 567.3h0M399.5 563.3h0M400.0 564.9h0M400.3 563.2h0M400.8 566.0h0M401.5 562.6h0M401.8 564.3h0M402.0 561.8h0M402.1 563.9h0M402.3 561.5h0M402.7 563.1h0M402.9 560.8h0M403.2 562.7h0M403.6 559.8h0M403.8 562.1h0M404.0 559.9h0M404.1 562.1h0M404.3 560.4h0M404.4 562.1h0M404.6 560.3h0M404.9 558.4h0M405.2 561.1h0M405.3 559.4h0M405.6 557.3h0M405.8 560.6h0M405.9 556.4h0M406.1 560.1h0M406.2 557.1h0M406.4 554.0h0M406.5 557.5h0M406.9 555.5h0M407.2 557.1h0M407.6 558.8h0M407.8 557.0h0M408.1 555.2h0M408.2 557.3h0M408.4 559.1h0M409.0 560.6h0M409.1 557.3h0M409.3 560.0h0M409.4 564.2h0M409.6 561.9h0M410.1 563.7h0M410.2 561.1h0M411.0 559.1h0M411.1 563.3h0M411.3 559.2h0M411.6 561.5h0M411.9 559.8h0M412.3 554.3h0M412.5 557.6h0M412.7 559.5h0M412.8 557.2h0M413.0 559.9h0M413.3 557.4h0M413.7 559.7h0M413.9 557.6h0M414.0 555.5h0M414.2 558.3h0M414.3 562.2h0M414.5 556.9h0M414.6 558.6h0M415.1 561.1h0M415.4 555.3h0M415.6 557.1h0M416.2 554.9h0M416.6 556.6h0M417.1 558.4h0M417.2 555.3h0M417.8 557.9h0M418.0 553.7h0M418.3 556.0h0M418.5 557.6h0M418.8 554.8h0M419.4 559.0h0M419.5 557.4h0M419.8 555.3h0M420.0 556.9h0M420.1 553.5h0M420.3 556.9h0M420.6 559.0h0M420.7 556.4h0M421.2 559.4h0M421.4 557.7h0M421.7 555.0h0M422.3 557.0h0M422.4 555.3h0M423.0 553.7h0M423.2 556.4h0M423.3 558.7h0M423.5 556.0h0M424.7 553.0h0M425.2 556.0h0M425.6 554.3h0M426.1 556.8h0M426.2 554.4h0M427.2 555.7h0M427.3 554.0h0M427.5 557.7h0M427.6 555.1h0M427.9 552.6h0M428.1 558.0h0M428.2 554.8h0M428.4 556.3h0M428.7 552.9h0M428.8 556.1h0M430.1 554.3h0M431.0 552.9h0M431.4 551.1h0M431.6 554.5h0M431.7 552.6h0M432.0 555.3h0M432.2 552.8h0M432.8 554.3h0M433.3 552.8h0M433.6 555.6h0M434.0 552.7h0M434.2 555.0h0M434.5 556.4h0M434.8 553.9h0M435.1 556.2h0M435.2 553.7h0M436.0 551.9h0M436.2 556.1h0M436.3 551.5h0M436.8 553.9h0M437.2 552.3h0M437.5 550.3h0M437.8 552.3h0M438.1 548.6h0M438.3 551.8h0M439.1 554.2h0M439.5 552.3h0M439.8 556.1h0M440.3 553.8h0M440.4 551.7h0M440.6 555.1h0M441.0 552.8h0M441.8 550.5h0M442.0 553.1h0M442.1 550.5h0M442.6 552.6h0M442.7 554.2h0M442.9 551.4h0M443.0 553.0h0M443.2 550.8h0M443.3 552.7h0M444.1 550.2h0M444.6 553.3h0M444.7 551.1h0M444.9 553.7h0M445.2 551.6h0M445.3 553.4h0M445.5 550.9h0M445.6 548.3h0M445.8 549.9h0M446.2 547.9h0M446.4 550.5h0M446.5 548.3h0M446.7 550.7h0M447.3 548.1h0M447.5 550.6h0M447.6 548.3h0M447.9 550.5h0M448.7 548.8h0M449.3 552.1h0M449.4 550.3h0M449.9 548.1h0M450.2 551.1h0M450.5 552.9h0M451.0 549.4h0M451.1 551.3h0M451.4 547.9h0M451.6 549.6h0M451.9 551.4h0M452.0 549.2h0M452.2 546.9h0M452.3 548.9h0M452.5 552.0h0M452.6 546.7h0M452.8 548.4h0M453.9 549.7h0M454.2 547.8h0M454.3 551.7h0M454.9 553.6h0M455.8 555.4h0M456.5 557.2h0M456.9 555.6h0M457.5 557.7h0M457.8 554.9h0M458.4 552.7h0M458.9 554.4h0M459.7 550.2h0M460.1 548.0h0M460.3 552.8h0M460.4 549.1h0M460.6 555.2h0M460.7 550.0h0M460.9 552.1h0M461.2 554.1h0M461.3 551.2h0M462.1 549.5h0M462.6 552.4h0M462.7 549.2h0M462.9 554.3h0M463.0 549.9h0M463.2 551.7h0M463.6 549.2h0M463.8 551.7h0M463.9 548.5h0M464.1 550.3h0M464.5 551.8h0M464.7 547.1h0M464.9 551.4h0M465.0 548.9h0M465.2 547.4h0M465.3 549.8h0M465.6 547.4h0M465.9 551.4h0M466.1 548.8h0M466.4 552.7h0M466.5 549.1h0M467.1 547.2h0M467.3 549.8h0M467.8 547.4h0M468.1 549.9h0M468.4 547.9h0M468.7 550.1h0M469.6 547.8h0M469.7 554.1h0M469.9 551.0h0M470.0 547.8h0M471.0 549.7h0M471.3 547.6h0M472.0 550.5h0M472.2 547.7h0M473.1 550.1h0M473.2 546.9h0M473.4 550.7h0M473.5 548.3h0M473.7 550.2h0M473.9 548.5h0M474.6 550.3h0M474.8 548.8h0M475.1 545.4h0M475.2 547.2h0M475.7 550.5h0M475.8 545.4h0M476.4 542.0h0M476.6 544.1h0M476.8 546.2h0M477.2 544.4h0M477.5 542.5h0M477.7 544.1h0M477.8 545.8h0M478.0 542.9h0M478.3 545.3h0M478.4 541.5h0M478.6 543.3h0M479.0 541.6h0M479.7 544.8h0M479.8 542.8h0M480.0 541.1h0M480.1 543.4h0M480.3 545.3h0M480.7 543.6h0M480.9 547.3h0M481.8 545.8h0M481.9 547.4h0M482.9 550.2h0M483.0 548.1h0M483.3 546.3h0M483.5 548.2h0M483.6 544.9h0M484.1 546.4h0M484.2 543.5h0M484.7 539.8h0M484.8 544.7h0M485.0 542.8h0M485.1 539.7h0M485.5 542.0h0M485.8 540.4h0M485.9 538.4h0M486.1 541.5h0M486.4 537.8h0M486.5 540.1h0M486.7 542.5h0M486.8 538.9h0M487.0 540.6h0M487.1 542.5h0M487.3 539.8h0M487.4 542.1h0M487.6 539.3h0M487.7 544.1h0M488.5 545.4h0M489.3 546.9h0M489.7 545.0h0M490.2 549.1h0M490.5 544.9h0M491.4 541.9h0M491.6 545.5h0M491.7 542.6h0M492.8 544.7h0M492.9 540.9h0M493.1 543.5h0M493.2 539.8h0M493.4 544.8h0M493.5 538.0h0M493.7 541.2h0M493.8 538.5h0M494.0 541.0h0M494.3 538.8h0M494.5 541.0h0M495.4 538.2h0M495.5 539.8h0M495.7 537.2h0M496.0 539.4h0M496.4 537.4h0M496.6 539.3h0M497.2 537.8h0M497.5 540.6h0M497.7 538.4h0M498.4 541.9h0M498.6 536.6h0M498.7 539.7h0M499.0 541.1h0M499.6 539.2h0M500.0 540.7h0M500.6 539.0h0M500.7 542.5h0M501.3 540.9h0M501.5 543.8h0M501.6 541.2h0M501.8 543.6h0M502.7 546.5h0M503.0 544.0h0M503.3 546.0h0M503.6 544.3h0M504.7 542.6h0M505.3 545.2h0M505.6 538.6h0M505.8 547.5h0M505.9 544.7h0M506.1 540.3h0M506.2 542.2h0M506.4 540.1h0M506.5 544.6h0M506.7 539.6h0M506.8 542.5h0M507.0 540.9h0M507.4 538.9h0M507.7 541.0h0M508.2 543.1h0M508.3 541.3h0M508.7 544.6h0M508.8 542.0h0M509.9 540.8h0M510.2 543.1h0M510.3 539.9h0M510.5 542.7h0M511.4 540.1h0M511.9 542.5h0M512.2 539.1h0M512.3 540.7h0M512.8 535.3h0M513.5 537.1h0M513.8 535.0h0M514.0 531.3h0M514.1 536.1h0M514.3 532.0h0M514.5 535.4h0M514.6 533.8h0M514.8 535.4h0M514.9 533.6h0M515.4 535.5h0M515.8 537.3h0M516.0 534.2h0M516.1 530.6h0M516.3 539.3h0M516.6 537.4h0M516.7 535.6h0M517.0 534.1h0M517.2 536.1h0M517.5 538.7h0M517.8 540.5h0M518.3 538.6h0M518.6 541.6h0M518.7 540.0h0M518.9 541.9h0M519.0 539.7h0M519.5 537.9h0M519.8 541.7h0M519.9 537.2h0M520.3 538.8h0M520.7 537.3h0M521.2 539.3h0M521.5 535.4h0M521.9 538.2h0M522.2 536.7h0M522.7 538.4h0M523.0 541.8h0M523.2 537.7h0M523.3 535.4h0M523.5 542.9h0M523.8 537.8h0M524.2 541.7h0M524.7 538.6h0M525.0 542.8h0M525.1 538.7h0M525.4 542.5h0M525.6 540.2h0M525.9 538.7h0M526.4 543.0h0M526.5 540.4h0M527.0 538.7h0M527.7 540.8h0M527.9 538.9h0M528.0 541.1h0M528.3 539.0h0M528.8 537.6h0M529.0 539.9h0M529.3 535.8h0M529.4 539.4h0M529.7 537.0h0M530.5 538.8h0M530.6 536.5h0M530.9 534.6h0M531.2 537.6h0M531.4 535.1h0M531.7 538.1h0M531.9 533.3h0M532.0 536.8h0M532.2 535.1h0M532.3 538.1h0M532.5 536.3h0M532.8 538.7h0M532.9 535.1h0M533.1 540.4h0M533.2 537.2h0M534.0 539.7h0M534.3 549.6h0M534.4 570.8h0M534.6 596.9h0M534.8 634.3h0M534.9 667.7h0M535.1 692.8h0M535.2 723.6h0M535.4 745.5h0M535.5 767.2h0M535.7 785.2h0M535.8 801.7h0M536.0 813.2h0M536.1 825.7h0M536.3 833.8h0M536.4 842.4h0M536.6 844.7h0M536.7 846.6h0M536.9 843.9h0M537.0 847.3h0M537.5 844.3h0M537.7 849.5h0M537.8 846.7h0M538.1 848.4h0M538.3 852.0h0M538.4 847.4h0M538.9 849.9h0M539.2 852.1h0M540.5 852.8h0M540.7 849.0h0M540.9 851.7h0M541.5 850.1h0M541.6 847.9h0M541.8 849.6h0M541.9 851.7h0M542.4 850.1h0M542.5 852.0h0M543.8 853.2h0M544.1 848.9h0M544.2 852.1h0M544.4 853.6h0M544.8 851.3h0M545.0 854.4h0M545.6 849.8h0M545.9 852.8h0M546.3 850.2h0M546.5 852.1h0M547.1 850.3h0M547.3 854.0h0M547.4 850.9h0M547.9 848.3h0M548.0 853.0h0M548.3 851.4h0M548.5 854.2h0M548.6 850.6h0M548.8 854.8h0M548.9 852.5h0M549.1 855.5h0M549.2 852.1h0M549.6 856.4h0M549.7 853.4h0M549.9 855.6h0M550.3 858.5h0M550.5 856.1h0M550.6 858.9h0M550.9 857.4h0M551.5 855.7h0M551.8 857.7h0M552.0 854.7h0M552.1 851.7h0M552.3 855.1h0M552.5 852.7h0M552.8 855.1h0M552.9 850.1h0M553.1 853.7h0M553.5 849.7h0M554.0 851.6h0M554.1 849.0h0M554.3 850.8h0M554.4 847.1h0M554.6 850.1h0M554.7 846.9h0M555.0 848.7h0M555.8 851.8h0M556.0 848.0h0M556.1 845.8h0M556.3 850.5h0M556.6 849.0h0M557.0 850.6h0M557.5 848.0h0M557.6 849.8h0M557.8 848.2h0M557.9 851.0h0M559.2 853.1h0M559.3 848.4h0M559.5 850.2h0M559.6 847.3h0M559.8 851.8h0M560.4 850.0h0M560.5 851.5h0M560.8 849.2h0M561.2 851.4h0M561.3 848.3h0M561.6 844.7h0M561.8 848.7h0M561.9 850.5h0M562.1 848.8h0M562.2 844.4h0M562.4 847.0h0M562.5 849.3h0M563.1 847.1h0M563.4 850.6h0M563.6 847.6h0M563.9 850.5h0M564.4 848.3h0M564.5 850.4h0M564.8 847.6h0M565.0 849.6h0M565.1 845.2h0M565.3 848.1h0M566.0 849.5h0M567.3 848.0h0M567.4 849.8h0M567.6 851.7h0M567.7 849.2h0M568.2 850.6h0M568.3 848.5h0M568.6 845.8h0M568.8 847.3h0M568.9 851.1h0M569.4 846.7h0M569.9 849.0h0M570.0 846.2h0M570.9 844.4h0M571.1 847.7h0M571.4 845.1h0M571.5 848.5h0M571.7 846.1h0M571.8 849.0h0M572.3 847.3h0M572.4 848.8h0M573.1 845.3h0M573.2 847.1h0M573.4 848.7h0M573.5 847.1h0M573.8 845.6h0M574.0 843.9h0M574.1 848.1h0M574.6 844.3h0M575.5 846.0h0M575.7 848.4h0M575.8 843.9h0M576.0 842.2h0M576.3 845.3h0M576.4 841.3h0M576.6 843.9h0M576.9 846.4h0M577.2 844.1h0M577.8 845.9h0M578.2 842.0h0M578.4 844.7h0M578.9 841.9h0M579.0 843.7h0M579.5 846.9h0M579.6 843.1h0M580.2 846.4h0M580.5 847.8h0M581.0 846.0h0M581.9 847.6h0M582.2 845.7h0M582.5 843.4h0M582.8 845.0h0M583.7 847.4h0M583.9 842.9h0M584.7 840.6h0M585.7 839.3h0M585.9 841.3h0M586.2 838.8h0M586.5 840.7h0M587.1 838.5h0M588.2 839.9h0M588.3 841.7h0M588.5 836.7h0M588.6 838.7h0M589.1 836.9h0M589.2 839.7h0M590.5 837.4h0M591.2 842.7h0M591.4 840.4h0M592.1 838.5h0M592.6 841.2h0M593.5 843.3h0M593.7 841.1h0M594.0 842.7h0M594.1 844.5h0M595.0 846.7h0M595.2 843.8h0M595.8 841.9h0M596.0 839.7h0M596.1 841.9h0M596.4 839.4h0M596.6 843.0h0M596.7 841.0h0M596.9 839.1h0M597.0 837.5h0M597.2 840.1h0M597.3 838.3h0M597.6 840.4h0M598.1 836.7h0M598.5 840.9h0M598.7 838.7h0M599.0 835.5h0M599.3 838.9h0M599.5 836.3h0M599.6 838.0h0M599.9 839.5h0M600.1 836.8h0M600.5 839.1h0M600.8 837.3h0M601.3 839.5h0M601.9 843.1h0M602.1 840.8h0M602.4 845.2h0M602.5 842.5h0M603.0 846.3h0M603.1 843.7h0M604.5 846.3h0M604.8 841.3h0M605.0 844.2h0M605.3 842.2h0M605.6 845.5h0M605.7 842.0h0M605.9 843.7h0M606.0 841.7h0M606.3 839.7h0M606.5 841.5h0M606.8 838.3h0M607.6 836.1h0M607.9 837.8h0M608.0 835.2h0M608.2 838.3h0M608.3 833.5h0M608.6 836.1h0M608.8 834.2h0M609.2 836.8h0M609.8 834.7h0M610.4 836.9h0M610.6 834.6h0M611.2 830.8h0M611.4 835.3h0M611.5 831.5h0M611.7 835.1h0M612.1 831.9h0M612.3 835.2h0M612.6 832.6h0M612.7 835.1h0M612.9 838.3h0M613.2 836.0h0M614.1 838.0h0M614.3 836.1h0M615.3 837.9h0M615.5 833.3h0M616.1 830.8h0M616.4 833.2h0M616.9 831.0h0M617.0 834.9h0M617.3 838.8h0M617.5 834.1h0M617.8 836.1h0M617.9 838.6h0M618.1 836.9h0M618.8 841.7h0M619.0 839.4h0M619.6 837.7h0M620.2 835.2h0M620.4 838.6h0M620.5 836.1h0M621.0 833.5h0M621.1 836.0h0M621.6 832.0h0M621.7 836.7h0M622.0 833.8h0M622.2 837.3h0M622.4 833.6h0M622.7 837.0h0M623.0 834.4h0M623.4 832.6h0M623.7 835.5h0M624.0 833.4h0M624.2 836.6h0M624.3 833.4h0M624.5 831.2h0M624.9 828.4h0M625.3 831.7h0M625.4 827.3h0M625.7 829.5h0M626.0 825.8h0M626.2 821.7h0M626.3 824.3h0M626.6 821.6h0M626.8 818.0h0M627.4 813.4h0M627.7 808.8h0M627.8 806.2h0M628.0 799.9h0M628.2 796.3h0M628.3 790.0h0M628.5 788.2h0M628.6 781.1h0M628.8 777.8h0M628.9 772.0h0M629.1 766.0h0M629.2 764.4h0M629.4 758.6h0M629.7 754.0h0M629.8 747.9h0M630.0 743.3h0M630.3 737.1h0M630.4 735.6h0M630.6 732.6h0M630.7 727.9h0M631.1 722.9h0M631.2 720.5h0M631.4 716.7h0M631.5 712.2h0M631.8 707.6h0M632.1 701.5h0M632.4 698.0h0M632.7 690.9h0M632.9 689.2h0M633.0 685.1h0M633.2 682.2h0M633.3 680.2h0M633.6 677.1h0M633.8 672.9h0M634.0 669.0h0M634.3 665.5h0M634.4 663.2h0M634.6 660.9h0M634.9 656.4h0M635.0 653.3h0M635.2 650.9h0M635.3 649.2h0M635.5 647.3h0M635.6 644.4h0M635.8 642.7h0M635.9 644.8h0M636.1 642.2h0M636.2 638.1h0M636.5 635.4h0M636.9 632.5h0M637.2 631.0h0M637.5 628.0h0M637.8 624.5h0M638.2 622.0h0M638.4 619.3h0M639.1 616.1h0M639.8 614.0h0M639.9 611.7h0M640.2 607.8h0M640.4 605.4h0M640.5 610.2h0M640.7 607.0h0M640.8 604.3h0M641.0 607.5h0M641.3 604.9h0M641.4 602.8h0M641.6 606.1h0M641.7 601.6h0M642.3 598.2h0M642.7 600.8h0M642.8 602.6h0M643.0 599.2h0M643.6 601.0h0M643.7 598.4h0M643.9 596.5h0M644.2 600.9h0M644.3 599.0h0M644.9 601.0h0M645.1 598.5h0M645.4 596.9h0M645.6 598.5h0M645.7 596.9h0M646.0 595.4h0M646.2 597.9h0M646.5 599.5h0M646.6 597.0h0M647.2 598.7h0M647.5 594.0h0M647.7 598.2h0M647.8 595.6h0M648.0 597.4h0M648.1 594.8h0M648.3 598.4h0M648.5 594.0h0M648.8 596.7h0M648.9 594.5h0M649.1 596.8h0M649.2 594.2h0M649.4 596.6h0M649.7 592.0h0M649.8 596.5h0M650.1 593.5h0M650.3 595.0h0M650.6 597.6h0M650.7 594.0h0M651.5 592.4h0M652.1 591.0h0M652.7 587.8h0M653.0 589.8h0M653.3 586.9h0M653.5 590.4h0M653.6 592.2h0M653.8 588.6h0M654.1 586.9h0M654.9 585.2h0M655.0 588.6h0M655.3 585.7h0M655.5 588.8h0M655.8 585.8h0M655.9 587.7h0M656.1 586.0h0M656.5 583.8h0M656.7 586.4h0M657.3 584.7h0M657.5 587.5h0M657.6 585.6h0M657.8 587.7h0M657.9 583.7h0M658.5 585.5h0M658.8 588.2h0M659.0 584.2h0M659.1 585.7h0M659.4 584.2h0M659.9 587.8h0M660.1 585.1h0M660.8 583.4h0M661.3 585.6h0M661.4 582.7h0M662.2 579.7h0M662.3 581.2h0M662.5 582.9h0M663.3 580.1h0M663.4 583.2h0M663.7 581.7h0M664.3 578.2h0M664.5 580.9h0M664.9 578.0h0M665.5 581.1h0M665.7 577.7h0M666.0 573.8h0M666.3 575.5h0M666.5 573.8h0M667.7 575.9h0M667.8 569.4h0M668.0 573.4h0M668.1 576.7h0M668.3 573.9h0M668.8 575.6h0M669.2 577.1h0M669.4 575.2h0M669.5 577.3h0M670.1 579.8h0M670.3 576.9h0M670.4 572.4h0M670.6 579.1h0M670.9 577.6h0M671.2 575.7h0M671.3 577.2h0M672.0 574.7h0M672.1 577.5h0M672.6 573.2h0M672.7 578.0h0M672.9 573.5h0M673.0 577.0h0M673.2 572.1h0M673.3 574.1h0M673.5 576.3h0M674.4 573.6h0M674.6 575.2h0M674.7 579.0h0M674.9 575.5h0M675.0 573.2h0M675.2 577.1h0M675.3 575.5h0M675.6 577.5h0M675.9 575.2h0M676.1 577.1h0M676.2 574.7h0M677.1 573.4h0M677.5 575.9h0M677.6 572.9h0M678.2 571.3h0M678.4 574.7h0M678.5 572.2h0M678.8 576.6h0M679.0 569.5h0M679.1 571.6h0M679.7 568.8h0M680.0 570.7h0M680.2 568.6h0M680.7 570.5h0M681.1 566.3h0M681.3 569.4h0M681.9 571.1h0M682.0 567.3h0M682.2 572.3h0M682.3 569.8h0M682.9 571.4h0M683.1 569.9h0M683.2 572.2h0M683.9 570.0h0M684.2 568.3h0M684.5 571.2h0M684.6 567.5h0M684.8 569.4h0M685.1 567.4h0M685.5 565.9h0M686.0 570.1h0M686.3 566.9h0M686.5 569.4h0M686.8 567.3h0M686.9 569.5h0M687.1 566.0h0M687.7 569.7h0M688.0 565.4h0M688.1 567.1h0M688.3 569.2h0M688.6 565.1h0M688.7 568.6h0M689.0 566.5h0M689.4 564.2h0M689.5 565.9h0M690.0 564.2h0M690.3 566.5h0M690.4 563.9h0M691.0 562.2h0M691.5 559.6h0M691.6 561.8h0M692.3 560.3h0M692.6 562.6h0M692.9 559.6h0M693.0 563.1h0M693.2 560.5h0M693.5 563.5h0M694.2 561.8h0M694.5 563.3h0M695.0 566.8h0M695.2 563.8h0M695.9 562.3h0M696.5 563.7h0M696.7 560.4h0M697.1 562.7h0M697.6 560.7h0M697.9 563.2h0M698.4 560.7h0M698.7 562.3h0M698.8 560.6h0M699.0 566.2h0M699.1 562.0h0M699.3 565.6h0M699.6 562.9h0M700.0 564.8h0M700.2 561.5h0M700.6 563.3h0M700.8 561.1h0M701.7 564.4h0M701.9 562.1h0M702.0 559.1h0M702.2 563.4h0M702.3 561.4h0M702.6 563.2h0M702.8 558.8h0M703.2 562.0h0M703.4 560.5h0M703.5 562.3h0M703.9 559.9h0M704.2 562.3h0M704.6 560.4h0M705.2 558.9h0M705.7 556.9h0M705.8 561.9h0M706.0 555.9h0M706.9 553.7h0M707.1 555.6h0M707.2 553.6h0M707.8 555.8h0M708.1 553.8h0M708.9 556.5h0M709.0 554.4h0M709.5 556.6h0M709.7 555.0h0M710.1 557.0h0M710.3 559.9h0M710.6 555.3h0M710.7 560.0h0M710.9 556.7h0M711.3 560.7h0M711.5 555.0h0M711.6 557.4h0M711.9 555.3h0M712.2 553.7h0M712.4 558.4h0M712.6 556.3h0M712.7 552.3h0M712.9 554.8h0M713.0 552.7h0M713.2 554.8h0M713.5 556.6h0M713.8 552.2h0M713.9 553.8h0M714.1 552.1h0M714.2 555.1h0M714.8 553.7h0M715.1 550.9h0M715.3 555.0h0M715.8 553.5h0M715.9 557.8h0M716.1 552.4h0M716.5 555.0h0M717.0 550.8h0M717.1 553.9h0M717.4 550.6h0M717.6 547.6h0M717.7 552.8h0M718.0 547.8h0M718.2 553.2h0M718.5 548.7h0M718.7 552.7h0M719.0 550.5h0M719.4 554.0h0M719.6 551.3h0M720.3 549.8h0M720.8 552.9h0M720.9 555.1h0M721.1 552.2h0M721.7 550.7h0M722.0 552.8h0M722.2 550.9h0M722.6 553.1h0M722.8 551.3h0M723.5 552.8h0M724.0 550.7h0M724.6 548.7h0M724.8 552.0h0M725.2 549.5h0M725.5 551.0h0M725.7 548.7h0M726.9 549.9h0M727.1 546.6h0M727.2 551.0h0M727.5 548.3h0M727.8 551.0h0M728.0 549.4h0M728.3 551.2h0M729.5 550.2h0M729.6 552.5h0M729.8 550.5h0M730.4 553.5h0M730.6 548.5h0M730.7 551.2h0M731.0 549.3h0M731.2 552.2h0M731.6 549.8h0M731.8 551.6h0M731.9 546.3h0M732.1 551.9h0M732.2 549.7h0M732.9 547.9h0M733.2 549.5h0M733.5 547.1h0M733.6 550.0h0M733.9 551.8h0M734.1 549.8h0M734.5 551.5h0M735.0 553.6h0M735.4 550.9h0M735.6 552.7h0M735.8 551.1h0M735.9 554.4h0M736.2 557.2h0M736.4 553.7h0M736.7 555.5h0M737.0 550.6h0M737.6 548.8h0M737.9 552.2h0M738.3 548.3h0M738.5 550.1h0M738.8 547.9h0M739.0 550.4h0M739.3 548.2h0M740.0 545.2h0M740.3 548.3h0M740.8 546.4h0M741.4 544.1h0M741.7 547.4h0M742.6 546.0h0M742.8 548.0h0M743.1 545.3h0M743.2 547.6h0M743.5 544.6h0M743.7 547.1h0M743.8 548.7h0M744.0 546.8h0M744.1 543.3h0M744.3 546.1h0M745.1 544.6h0M745.8 543.0h0M746.3 547.1h0M746.4 542.7h0M746.6 545.9h0M746.7 541.2h0M746.9 548.4h0M747.8 550.3h0M748.0 547.4h0M748.1 550.0h0M748.4 552.5h0M748.7 554.4h0M749.8 553.0h0M749.9 551.5h0M750.1 554.1h0M750.6 551.8h0M750.9 547.9h0M751.0 549.6h0M751.5 547.5h0M751.9 545.2h0M752.4 547.0h0M752.5 543.3h0M753.0 541.8h0M753.1 543.8h0M753.3 541.1h0M753.5 546.1h0M753.8 541.9h0M753.9 544.5h0M754.7 541.8h0M754.8 548.1h0M755.1 545.3h0M755.3 543.1h0M755.4 545.1h0M755.6 542.4h0M755.7 546.9h0M756.4 549.4h0M756.5 545.9h0M757.0 543.1h0M757.1 549.3h0M757.6 547.1h0M757.7 550.1h0M757.9 547.7h0M758.5 545.2h0M758.6 546.7h0M758.8 549.3h0M758.9 544.2h0M759.1 545.8h0M759.9 543.7h0M760.0 546.9h0M760.3 544.2h0M761.4 547.3h0M761.7 544.6h0M761.8 546.7h0M762.3 545.2h0M762.6 549.8h0M762.8 544.5h0M763.1 546.6h0M763.4 545.1h0M763.7 548.9h0M764.0 546.8h0M764.6 545.0h0M764.7 547.8h0M764.9 545.4h0M765.4 548.9h0M765.5 545.3h0M766.1 547.1h0M766.4 548.7h0M766.6 546.4h0M767.0 548.6h0M767.3 545.6h0M767.6 549.1h0M768.0 551.0h0M768.1 549.5h0M768.3 545.3h0M768.4 550.1h0M768.6 547.1h0M769.0 544.8h0M769.2 548.7h0M769.3 544.5h0M769.9 546.7h0M770.1 542.5h0M770.2 544.5h0M770.5 542.0h0M770.9 546.1h0M771.0 541.6h0M771.2 543.6h0M771.3 541.0h0M771.5 543.1h0M771.8 540.1h0M771.9 543.0h0M772.1 546.2h0M772.2 543.5h0M772.5 541.4h0M772.7 543.3h0M773.0 545.0h0M773.1 543.0h0M773.6 541.1h0M773.8 543.2h0M774.5 544.8h0M774.8 542.4h0M775.0 540.2h0M775.1 545.9h0M775.7 547.4h0M775.9 544.3h0M776.2 550.8h0M776.3 545.9h0M776.5 547.9h0M777.1 549.5h0M777.4 547.4h0M777.6 545.3h0M777.7 550.0h0M777.9 545.8h0M778.0 549.8h0M778.8 547.8h0M778.9 545.1h0M779.1 548.9h0M779.4 547.0h0M779.9 543.7h0M780.2 545.3h0M780.3 547.7h0M780.5 545.1h0M780.6 539.1h0M780.8 542.7h0M780.9 540.4h0M781.4 542.9h0M782.3 544.9h0M782.5 542.4h0M782.8 544.2h0M782.9 541.1h0M783.1 545.6h0M783.2 543.2h0M783.7 545.4h0M783.8 542.6h0M785.2 541.4h0M785.4 539.5h0M785.5 541.1h0M785.7 542.7h0M786.4 538.9h0M786.7 537.1h0M786.9 539.0h0M787.0 541.0h0M787.2 539.1h0M787.3 544.4h0M787.5 541.2h0M787.8 543.0h0M788.7 544.5h0M789.2 541.3h0M789.5 544.0h0M789.6 542.0h0M790.1 544.7h0M790.4 542.9h0M790.7 541.0h0M791.2 544.8h0M791.3 543.1h0M792.1 538.6h0M792.2 543.2h0M792.7 541.5h0M793.0 545.2h0M793.3 542.0h0M793.4 544.2h0M793.6 547.1h0M793.7 542.9h0M794.4 546.0h0M794.5 542.7h0M795.3 540.4h0M795.7 542.1h0M795.9 544.4h0M796.2 538.8h0M796.3 543.7h0M796.5 537.5h0M796.6 542.7h0M796.8 539.1h0M797.1 540.9h0M797.4 537.2h0M797.6 543.8h0M797.9 542.0h0M798.0 538.8h0M798.2 541.3h0M798.5 542.8h0M798.8 545.4h0M798.9 541.8h0M800.0 539.8h0M800.2 541.8h0M800.5 543.4h0M800.6 541.0h0M801.1 538.8h0M801.2 541.2h0M801.4 538.1h0M801.5 540.0h0M802.3 538.6h0M802.4 540.6h0M802.9 536.3h0M803.1 539.2h0M803.2 535.8h0M803.8 538.2h0M804.0 534.6h0M804.1 536.4h0M804.4 537.9h0M805.0 539.5h0M805.7 537.8h0M806.3 535.8h0M806.4 539.6h0M806.9 537.1h0M807.6 538.6h0M807.8 536.2h0M807.9 538.7h0M808.1 536.7h0M808.6 539.4h0M808.7 537.7h0M808.9 540.3h0M809.0 535.3h0M809.2 539.2h0M809.8 534.3h0M809.9 539.0h0M810.5 534.6h0M810.7 538.6h0M810.8 540.4h0M811.0 537.9h0M811.3 535.4h0M811.5 539.8h0M811.6 537.4h0M812.5 539.5h0M812.7 537.7h0M812.8 536.1h0M813.0 539.1h0M813.1 541.2h0M813.4 539.1h0M813.9 537.6h0M814.2 541.8h0M814.4 538.9h0M814.5 541.4h0M814.8 543.5h0M815.1 540.9h0M815.3 537.7h0M815.4 540.9h0M815.9 543.7h0M816.0 540.1h0M816.2 542.0h0M816.3 544.2h0M816.5 540.8h0M817.1 543.4h0M817.3 539.4h0M817.4 541.4h0M818.2 543.7h0M818.3 539.8h0M818.6 537.8h0M818.8 541.7h0M818.9 539.2h0M819.1 535.6h0M819.2 540.8h0M819.4 536.1h0M819.5 538.3h0M819.7 535.3h0M819.8 536.9h0M820.0 534.7h0M820.1 538.4h0M820.5 536.4h0M820.6 538.6h0M820.8 536.2h0M820.9 537.8h0M821.8 536.0h0M822.1 538.4h0M822.9 536.4h0M823.0 538.1h0M823.4 534.7h0M823.5 538.0h0M823.7 535.5h0M823.8 533.5h0M824.0 535.7h0M824.7 538.0h0M824.9 534.1h0M825.0 536.4h0M825.2 533.2h0M825.3 538.6h0M825.6 534.9h0M825.9 538.3h0M826.1 535.6h0M826.3 537.6h0M826.4 540.4h0M826.6 538.6h0M826.7 540.6h0M826.9 537.4h0M827.2 539.9h0M827.3 535.1h0M827.5 539.1h0M827.6 537.5h0M827.8 539.2h0M827.9 536.0h0M828.1 537.7h0M828.2 533.6h0M828.4 538.6h0M828.7 536.2h0M828.8 537.8h0M829.5 535.3h0M829.8 539.3h0M829.9 536.7h0M830.4 535.0h0M830.5 536.7h0M830.7 535.0h0M830.8 537.2h0M831.0 539.0h0M831.1 541.9h0M831.3 539.8h0M831.4 535.5h0M831.6 538.1h0M832.2 536.6h0M833.1 532.9h0M833.3 537.0h0M833.4 534.8h0M833.7 538.5h0M834.0 534.1h0M834.5 532.5h0M835.0 535.5h0M835.1 532.5h0M835.4 535.4h0M835.6 531.2h0M835.7 536.6h0M836.0 531.7h0M836.2 535.8h0M836.3 532.4h0M836.5 534.1h0M836.6 536.0h0M836.8 533.5h0M836.9 535.0h0M837.2 533.4h0M837.5 535.1h0M837.9 537.4h0M838.0 539.6h0M838.2 536.1h0M838.5 533.6h0M838.6 536.4h0M838.9 533.9h0M839.2 537.7h0M839.4 535.4h0M839.5 540.5h0M839.7 537.5h0M840.0 533.1h0M840.3 536.7h0M840.6 539.1h0M840.8 533.2h0M840.9 535.4h0M841.4 536.9h0M841.8 533.3h0M842.0 530.6h0M842.1 535.5h0M842.3 532.5h0M842.4 535.1h0M842.6 533.2h0M842.9 535.3h0M843.2 532.0h0M843.5 534.9h0M843.7 531.6h0M843.8 533.4h0M844.0 530.9h0M844.1 533.0h0M844.6 535.6h0M844.9 533.6h0M845.5 536.5h0M845.6 533.5h0M846.4 535.8h0M846.9 534.2h0M847.0 537.2h0M847.3 539.2h0M847.5 536.7h0M847.6 534.4h0M848.1 536.6h0M849.0 538.9h0M849.1 534.1h0M849.5 536.7h0M849.8 533.7h0M849.9 537.6h0M850.1 534.5h0M850.4 536.5h0M850.5 538.2h0M850.7 535.6h0M850.8 531.7h0M851.0 536.0h0M851.3 538.9h0M851.6 537.2h0M851.7 534.3h0M853.3 533.5h0M853.6 535.1h0M853.7 533.4h0M853.9 537.2h0M854.3 534.6h0M854.9 536.4h0M855.3 533.4h0M855.6 535.4h0M856.3 532.7h0M856.5 537.0h0M856.6 535.2h0M857.7 536.3h0M858.0 534.1h0M858.2 536.9h0M858.3 532.4h0M858.5 535.0h0M859.5 536.2h0M859.7 534.4h0M859.8 537.5h0M860.0 534.9h0M860.1 536.5h0M860.4 534.2h0M861.2 535.5h0M861.7 533.4h0M861.8 535.3h0M862.4 533.7h0M862.7 536.0h0M863.5 537.6h0M863.6 534.6h0M863.8 539.6h0M864.0 537.0h0M864.1 538.8h0M864.4 540.3h0M864.6 538.2h0M864.7 533.5h0M864.9 537.5h0M865.0 541.4h0M865.2 537.5h0M865.5 535.7h0M865.6 539.9h0M865.8 542.2h0M865.9 537.8h0M866.2 539.8h0M866.5 536.4h0M866.9 538.3h0M867.0 536.6h0M867.3 534.9h0M867.6 533.1h0M867.8 538.0h0M867.9 536.3h0M868.5 538.3h0M868.7 534.9h0M869.0 536.8h0M869.3 542.1h0M869.4 537.8h0M869.9 540.6h0M870.1 538.8h0M871.4 536.0h0M871.6 538.2h0M871.7 535.6h0M872.2 537.0h0M872.7 534.8h0M872.8 537.3h0M873.1 534.4h0M873.3 537.4h0M873.7 535.8h0M873.9 538.4h0M874.2 540.6h0M874.5 537.0h0M874.8 538.6h0M874.9 536.9h0M875.7 542.0h0M875.9 540.1h0M876.0 537.1h0M876.2 539.2h0M876.5 537.6h0M876.6 536.1h0M877.4 533.9h0M877.5 532.1h0M877.8 534.9h0M878.0 532.1h0M878.5 528.8h0M878.6 533.5h0M879.2 531.4h0M879.7 533.3h0M879.8 530.8h0M880.0 534.9h0M880.1 532.9h0M880.3 535.2h0M880.4 529.8h0M880.6 532.1h0M880.7 533.7h0M881.2 535.8h0M881.4 533.0h0M881.5 534.7h0M881.8 532.5h0M882.3 534.7h0M882.6 537.0h0M882.7 534.5h0M883.3 537.8h0M883.5 536.2h0M883.9 532.6h0M884.1 537.3h0M884.4 535.5h0M885.2 533.4h0M885.9 532.1h0M886.2 534.1h0M886.7 532.1h0M887.0 533.8h0M887.3 535.7h0M887.5 533.8h0M887.9 535.7h0M888.5 537.1h0M888.7 538.7h0M889.9 537.6h0M890.4 540.1h0M890.5 536.5h0M890.7 538.8h0M890.8 540.7h0M891.0 536.6h0M891.9 538.0h0M892.0 534.4h0M892.2 538.6h0M892.6 536.0h0M892.9 540.0h0M893.1 542.3h0M893.4 538.0h0M894.2 540.0h0M894.3 537.6h0M894.6 539.3h0M895.1 534.9h0M895.2 538.4h0M895.8 536.4h0M896.2 534.7h0M896.8 536.2h0M896.9 533.6h0M897.2 530.2h0M897.4 532.3h0M897.5 534.9h0M897.7 531.8h0M898.0 534.0h0M898.1 531.3h0" fill="none" stroke="#c0c0c0" stroke-width="18.6" stroke-linecap="round"/>
<rect x="129" y="2" width="824" height="892.5" fill="none" stroke-width="2.0"/>
<line x1="129.0" y1="72.8" x2="953.0" y2="72.8" stroke-width="2.0"/>
<line x1="129.0" y1="485.4" x2="953.0" y2="485.4" stroke-width="2.0"/>
<line x1="129.0" y1="463.4" x2="143.0" y2="463.4" stroke-width="1.8"/>
<line x1="129.0" y1="398.3" x2="143.0" y2="398.3" stroke-width="1.8"/>
<line x1="129.0" y1="333.3" x2="143.0" y2="333.3" stroke-width="1.8"/>
<line x1="129.0" y1="268.2" x2="143.0" y2="268.2" stroke-width="1.8"/>
<line x1="129.0" y1="203.1" x2="143.0" y2="203.1" stroke-width="1.8"/>
<line x1="129.0" y1="138.0" x2="143.0" y2="138.0" stroke-width="1.8"/>
<text transform="translate(111.8,474.2) scale(1,1.03)" text-anchor="end" font-size="34">0</text>
<text transform="translate(111.8,409.1) scale(1,1.03)" text-anchor="end" font-size="34">3</text>
<text transform="translate(111.8,344.1) scale(1,1.03)" text-anchor="end" font-size="34">6</text>
<text transform="translate(111.8,279.0) scale(1,1.03)" text-anchor="end" font-size="34">9</text>
<text transform="translate(111.8,213.9) scale(1,1.03)" text-anchor="end" font-size="34">12</text>
<text transform="translate(111.8,148.8) scale(1,1.03)" text-anchor="end" font-size="34">15</text>
<text transform="translate(111.8,83.8) scale(1,1.03)" text-anchor="end" font-size="34">18</text>
<line x1="159.0" y1="485.4" x2="159.0" y2="471.4" stroke-width="1.8"/>
<line x1="159.0" y1="894.5" x2="159.0" y2="880.5" stroke-width="1.8"/>
<text transform="translate(159.0,941.8) scale(1,1.03)" text-anchor="middle" font-size="34">0</text>
<line x1="311.6" y1="485.4" x2="311.6" y2="471.4" stroke-width="1.8"/>
<line x1="311.6" y1="894.5" x2="311.6" y2="880.5" stroke-width="1.8"/>
<text transform="translate(311.6,941.8) scale(1,1.03)" text-anchor="middle" font-size="34">1000</text>
<line x1="464.2" y1="485.4" x2="464.2" y2="471.4" stroke-width="1.8"/>
<line x1="464.2" y1="894.5" x2="464.2" y2="880.5" stroke-width="1.8"/>
<text transform="translate(464.2,941.8) scale(1,1.03)" text-anchor="middle" font-size="34">2000</text>
<line x1="616.9" y1="485.4" x2="616.9" y2="471.4" stroke-width="1.8"/>
<line x1="616.9" y1="894.5" x2="616.9" y2="880.5" stroke-width="1.8"/>
<text transform="translate(616.9,941.8) scale(1,1.03)" text-anchor="middle" font-size="34">3000</text>
<line x1="769.5" y1="485.4" x2="769.5" y2="471.4" stroke-width="1.8"/>
<line x1="769.5" y1="894.5" x2="769.5" y2="880.5" stroke-width="1.8"/>
<text transform="translate(769.5,941.8) scale(1,1.03)" text-anchor="middle" font-size="34">4000</text>
<line x1="922.1" y1="485.4" x2="922.1" y2="471.4" stroke-width="1.8"/>
<line x1="922.1" y1="894.5" x2="922.1" y2="880.5" stroke-width="1.8"/>
<text transform="translate(922.1,941.8) scale(1,1.03)" text-anchor="middle" font-size="34">5000</text>
<line x1="129.0" y1="878.4" x2="143.0" y2="878.4" stroke-width="1.8"/>
<text transform="translate(111.8,889.2) scale(1,1.03)" text-anchor="end" font-size="34">0.0</text>
<line x1="129.0" y1="812.3" x2="143.0" y2="812.3" stroke-width="1.8"/>
<text transform="translate(111.8,823.1) scale(1,1.03)" text-anchor="end" font-size="34">0.2</text>
<line x1="129.0" y1="746.2" x2="143.0" y2="746.2" stroke-width="1.8"/>
<text transform="translate(111.8,757.0) scale(1,1.03)" text-anchor="end" font-size="34">0.4</text>
<line x1="129.0" y1="680.1" x2="143.0" y2="680.1" stroke-width="1.8"/>
<text transform="translate(111.8,690.9) scale(1,1.03)" text-anchor="end" font-size="34">0.6</text>
<line x1="129.0" y1="614.0" x2="143.0" y2="614.0" stroke-width="1.8"/>
<text transform="translate(111.8,624.8) scale(1,1.03)" text-anchor="end" font-size="34">0.8</text>
<line x1="129.0" y1="547.9" x2="143.0" y2="547.9" stroke-width="1.8"/>
<text transform="translate(111.8,558.7) scale(1,1.03)" text-anchor="end" font-size="34">1.0</text>
<text transform="translate(133.0,112.0) scale(1,1.03)" font-size="34">a</text>
<text transform="translate(133.8,517.0) scale(1,1.03)" font-size="34">b</text>
<circle cx="773.9" cy="373.2" r="9.6" fill="#000" stroke="none"/>
<circle cx="773.9" cy="414.6" r="9.6" fill="#c0c0c0" stroke="none"/>
<text transform="translate(830.4,385.0) scale(1,1.03)" font-size="34">HN</text>
<text transform="translate(830.4,426.0) scale(1,1.03)" font-size="34">LN</text>
<circle cx="770.9" cy="784.7" r="9.6" fill="#000" stroke="none"/>
<circle cx="770.9" cy="825.9" r="9.6" fill="#c0c0c0" stroke="none"/>
<text transform="translate(827.3,796.0) scale(1,1.03)" font-size="34">HN</text>
<text transform="translate(827.3,837.0) scale(1,1.03)" font-size="34">LN</text>
<text transform="translate(479.3,1001.9) scale(1,1.03)" font-size="34">Time (s)</text>
<text transform="translate(46,403.9) rotate(-90) scale(1,1.03)" font-size="34">Pn (<tspan font-family="Liberation Serif, serif">&#956;</tspan>mol m<tspan dy="-17.5" font-size="22">-2</tspan><tspan dy="17.5"> s</tspan><tspan dy="-17.5" font-size="22">-1</tspan><tspan dy="17.5">)</tspan></text>
<text transform="translate(36.3,824.6) rotate(-90) scale(1,1.03)" font-size="34">Pn (relative value)</text>
<rect x="1090.1" y="483" width="309.4000000000001" height="411.6" fill="none" stroke-width="2.0"/>
<line x1="1090.1" y1="812.3" x2="1104.1" y2="812.3" stroke-width="1.8"/>
<line x1="1090.1" y1="730.0" x2="1104.1" y2="730.0" stroke-width="1.8"/>
<line x1="1090.1" y1="647.6" x2="1104.1" y2="647.6" stroke-width="1.8"/>
<line x1="1090.1" y1="565.3" x2="1104.1" y2="565.3" stroke-width="1.8"/>
<text transform="translate(1072.2,905.3) scale(1,1.03)" text-anchor="end" font-size="34">0</text>
<text transform="translate(1072.2,823.0) scale(1,1.03)" text-anchor="end" font-size="34">20</text>
<text transform="translate(1072.2,740.7) scale(1,1.03)" text-anchor="end" font-size="34">40</text>
<text transform="translate(1072.2,658.3) scale(1,1.03)" text-anchor="end" font-size="34">60</text>
<text transform="translate(1072.2,576.0) scale(1,1.03)" text-anchor="end" font-size="34">80</text>
<text transform="translate(1072.2,493.7) scale(1,1.03)" text-anchor="end" font-size="34">100</text>
<line x1="1166.9" y1="894.6" x2="1166.9" y2="880.6" stroke-width="1.8"/>
<line x1="1243.7" y1="894.6" x2="1243.7" y2="880.6" stroke-width="1.8"/>
<line x1="1320.5" y1="894.6" x2="1320.5" y2="880.6" stroke-width="1.8"/>
<text transform="translate(1166.9,941.9) scale(1,1.03)" text-anchor="middle" font-size="34">3</text>
<text transform="translate(1243.7,941.9) scale(1,1.03)" text-anchor="middle" font-size="34">6</text>
<text transform="translate(1320.5,941.9) scale(1,1.03)" text-anchor="middle" font-size="34">9</text>
<text transform="translate(1397.3,941.9) scale(1,1.03)" text-anchor="middle" font-size="34">12</text>
<text transform="translate(1093.0,514.7) scale(1,1.03)" font-size="34">c</text>
<text transform="translate(1073.3,986.2) scale(1,1.03)" font-size="34">Duration of LL interval</text>
<text transform="translate(1205.0,1023.8) scale(1,1.03)" font-size="34">(min)</text>
<text transform="translate(1018,735.9) rotate(-90) scale(1,1.03)" font-size="34">IS (%)</text>
<path d="M1115.7,536.5L1141.3,591.7L1218.1,692.9L1346.1,758.4" fill="none" stroke-width="1.9"/>
<path d="M1115.7,541.4V531.6M1109.8,541.4h11.8M1109.8,531.6h11.8" fill="none" stroke-width="2.0"/>
<path d="M1141.3,606.1V577.3M1135.4,606.1h11.8M1135.4,577.3h11.8" fill="none" stroke-width="2.0"/>
<path d="M1218.1,704.9V681.0M1212.2,704.9h11.8M1212.2,681.0h11.8" fill="none" stroke-width="2.0"/>
<path d="M1346.1,776.9V739.8M1340.2,776.9h11.8M1340.2,739.8h11.8" fill="none" stroke-width="2.0"/>
<circle cx="1115.7" cy="536.5" r="9.3" fill="#000" stroke="none"/>
<circle cx="1141.3" cy="591.7" r="9.3" fill="#000" stroke="none"/>
<circle cx="1218.1" cy="692.9" r="9.3" fill="#000" stroke="none"/>
<circle cx="1346.1" cy="758.4" r="9.3" fill="#000" stroke="none"/>
<path d="M1115.7,544.7L1141.3,605.7L1218.1,668.6L1346.1,689.6" fill="none" stroke-width="1.9"/>
<path d="M1115.7,550.9V538.6M1109.8,550.9h11.8M1109.8,538.6h11.8" fill="none" stroke-width="2.0"/>
<path d="M1141.3,623.4V588.0M1135.4,623.4h11.8M1135.4,588.0h11.8" fill="none" stroke-width="2.0"/>
<path d="M1218.1,684.3V653.0M1212.2,684.3h11.8M1212.2,653.0h11.8" fill="none" stroke-width="2.0"/>
<path d="M1346.1,710.2V669.0M1340.2,710.2h11.8M1340.2,669.0h11.8" fill="none" stroke-width="2.0"/>
<circle cx="1115.7" cy="544.7" r="8.1" fill="#fff" stroke-width="2.0"/>
<circle cx="1141.3" cy="605.7" r="8.1" fill="#fff" stroke-width="2.0"/>
<circle cx="1218.1" cy="668.6" r="8.1" fill="#fff" stroke-width="2.0"/>
<circle cx="1346.1" cy="689.6" r="8.1" fill="#fff" stroke-width="2.0"/>
<text x="1220.4" y="660.1" text-anchor="middle" font-size="44">*</text>
<text x="1347.4" y="677.1" text-anchor="middle" font-size="44">*</text>
<rect x="127.9" y="1041" width="1271.1" height="411.70000000000005" fill="none" stroke-width="2.0"/>
<line x1="445.7" y1="1041.0" x2="445.7" y2="1452.7" stroke-width="2.0"/>
<line x1="763.9" y1="1041.0" x2="763.9" y2="1452.7" stroke-width="2.0"/>
<line x1="1080.9" y1="1041.0" x2="1080.9" y2="1452.7" stroke-width="2.0"/>
<line x1="127.9" y1="1384.1" x2="141.9" y2="1384.1" stroke-width="1.8"/>
<line x1="127.9" y1="1315.5" x2="141.9" y2="1315.5" stroke-width="1.8"/>
<line x1="127.9" y1="1246.9" x2="141.9" y2="1246.9" stroke-width="1.8"/>
<line x1="127.9" y1="1178.3" x2="141.9" y2="1178.3" stroke-width="1.8"/>
<line x1="127.9" y1="1109.7" x2="141.9" y2="1109.7" stroke-width="1.8"/>
<line x1="445.7" y1="1384.1" x2="459.7" y2="1384.1" stroke-width="1.8"/>
<line x1="445.7" y1="1315.5" x2="459.7" y2="1315.5" stroke-width="1.8"/>
<line x1="445.7" y1="1246.9" x2="459.7" y2="1246.9" stroke-width="1.8"/>
<line x1="445.7" y1="1178.3" x2="459.7" y2="1178.3" stroke-width="1.8"/>
<line x1="445.7" y1="1109.7" x2="459.7" y2="1109.7" stroke-width="1.8"/>
<line x1="763.9" y1="1384.1" x2="777.9" y2="1384.1" stroke-width="1.8"/>
<line x1="763.9" y1="1315.5" x2="777.9" y2="1315.5" stroke-width="1.8"/>
<line x1="763.9" y1="1246.9" x2="777.9" y2="1246.9" stroke-width="1.8"/>
<line x1="763.9" y1="1178.3" x2="777.9" y2="1178.3" stroke-width="1.8"/>
<line x1="763.9" y1="1109.7" x2="777.9" y2="1109.7" stroke-width="1.8"/>
<line x1="1080.9" y1="1384.1" x2="1094.9" y2="1384.1" stroke-width="1.8"/>
<line x1="1080.9" y1="1315.5" x2="1094.9" y2="1315.5" stroke-width="1.8"/>
<line x1="1080.9" y1="1246.9" x2="1094.9" y2="1246.9" stroke-width="1.8"/>
<line x1="1080.9" y1="1178.3" x2="1094.9" y2="1178.3" stroke-width="1.8"/>
<line x1="1080.9" y1="1109.7" x2="1094.9" y2="1109.7" stroke-width="1.8"/>
<text transform="translate(110.7,1463.2) scale(1,1.03)" text-anchor="end" font-size="34">0</text>
<text transform="translate(110.7,1394.6) scale(1,1.03)" text-anchor="end" font-size="34">20</text>
<text transform="translate(110.7,1326.0) scale(1,1.03)" text-anchor="end" font-size="34">40</text>
<text transform="translate(110.7,1257.4) scale(1,1.03)" text-anchor="end" font-size="34">60</text>
<text transform="translate(110.7,1188.8) scale(1,1.03)" text-anchor="end" font-size="34">80</text>
<text transform="translate(110.7,1120.2) scale(1,1.03)" text-anchor="end" font-size="34">100</text>
<text transform="translate(110.7,1051.6) scale(1,1.03)" text-anchor="end" font-size="34">120</text>
<line x1="180.9" y1="1452.7" x2="180.9" y2="1438.7" stroke-width="1.8"/>
<line x1="233.8" y1="1452.7" x2="233.8" y2="1438.7" stroke-width="1.8"/>
<line x1="286.8" y1="1452.7" x2="286.8" y2="1438.7" stroke-width="1.8"/>
<line x1="339.8" y1="1452.7" x2="339.8" y2="1438.7" stroke-width="1.8"/>
<line x1="392.8" y1="1452.7" x2="392.8" y2="1438.7" stroke-width="1.8"/>
<text transform="translate(127.9,1499.7) scale(1,1.03)" text-anchor="middle" font-size="34">0</text>
<text transform="translate(180.9,1499.7) scale(1,1.03)" text-anchor="middle" font-size="34">1</text>
<text transform="translate(233.8,1499.7) scale(1,1.03)" text-anchor="middle" font-size="34">2</text>
<text transform="translate(286.8,1499.7) scale(1,1.03)" text-anchor="middle" font-size="34">3</text>
<text transform="translate(339.8,1499.7) scale(1,1.03)" text-anchor="middle" font-size="34">4</text>
<text transform="translate(392.8,1499.7) scale(1,1.03)" text-anchor="middle" font-size="34">5</text>
<line x1="498.7" y1="1452.7" x2="498.7" y2="1438.7" stroke-width="1.8"/>
<line x1="551.8" y1="1452.7" x2="551.8" y2="1438.7" stroke-width="1.8"/>
<line x1="604.8" y1="1452.7" x2="604.8" y2="1438.7" stroke-width="1.8"/>
<line x1="657.8" y1="1452.7" x2="657.8" y2="1438.7" stroke-width="1.8"/>
<line x1="710.8" y1="1452.7" x2="710.8" y2="1438.7" stroke-width="1.8"/>
<text transform="translate(498.7,1499.7) scale(1,1.03)" text-anchor="middle" font-size="34">1</text>
<text transform="translate(551.8,1499.7) scale(1,1.03)" text-anchor="middle" font-size="34">2</text>
<text transform="translate(604.8,1499.7) scale(1,1.03)" text-anchor="middle" font-size="34">3</text>
<text transform="translate(657.8,1499.7) scale(1,1.03)" text-anchor="middle" font-size="34">4</text>
<text transform="translate(710.8,1499.7) scale(1,1.03)" text-anchor="middle" font-size="34">5</text>
<line x1="787.4" y1="1452.7" x2="787.4" y2="1438.7" stroke-width="1.8"/>
<line x1="846.1" y1="1452.7" x2="846.1" y2="1438.7" stroke-width="1.8"/>
<line x1="904.8" y1="1452.7" x2="904.8" y2="1438.7" stroke-width="1.8"/>
<line x1="963.5" y1="1452.7" x2="963.5" y2="1438.7" stroke-width="1.8"/>
<line x1="1022.2" y1="1452.7" x2="1022.2" y2="1438.7" stroke-width="1.8"/>
<text transform="translate(787.4,1499.7) scale(1,1.03)" text-anchor="middle" font-size="34">0</text>
<text transform="translate(846.1,1499.7) scale(1,1.03)" text-anchor="middle" font-size="34">5</text>
<text transform="translate(904.8,1499.7) scale(1,1.03)" text-anchor="middle" font-size="34">10</text>
<text transform="translate(963.5,1499.7) scale(1,1.03)" text-anchor="middle" font-size="34">15</text>
<text transform="translate(1022.2,1499.7) scale(1,1.03)" text-anchor="middle" font-size="34">20</text>
<line x1="1116.2" y1="1452.7" x2="1116.2" y2="1438.7" stroke-width="1.8"/>
<line x1="1186.9" y1="1452.7" x2="1186.9" y2="1438.7" stroke-width="1.8"/>
<line x1="1257.6" y1="1452.7" x2="1257.6" y2="1438.7" stroke-width="1.8"/>
<line x1="1328.3" y1="1452.7" x2="1328.3" y2="1438.7" stroke-width="1.8"/>
<text transform="translate(1116.2,1499.7) scale(1,1.03)" text-anchor="middle" font-size="34">0</text>
<text transform="translate(1186.9,1499.7) scale(1,1.03)" text-anchor="middle" font-size="34">10</text>
<text transform="translate(1257.6,1499.7) scale(1,1.03)" text-anchor="middle" font-size="34">20</text>
<text transform="translate(1328.3,1499.7) scale(1,1.03)" text-anchor="middle" font-size="34">30</text>
<text transform="translate(1399.0,1499.7) scale(1,1.03)" text-anchor="middle" font-size="34">40</text>
<text transform="translate(136.3,1084.6) scale(1,1.03)" font-size="34">d</text>
<text transform="translate(185.5,1082.7) scale(1,1.03)" font-size="34">1 min LL interval</text>
<text transform="translate(451.2,1082.5) scale(1,1.03)" font-size="34">e</text>
<text transform="translate(505.0,1082.6) scale(1,1.03)" font-size="34">2 min LL interval</text>
<text transform="translate(772.3,1087.0) scale(1,1.03)" font-size="34">f</text>
<text transform="translate(819.4,1086.4) scale(1,1.03)" font-size="34">5 min LL interval</text>
<text transform="translate(1083.5,1082.7) scale(1,1.03)" font-size="34">g</text>
<text transform="translate(1124.0,1082.7) scale(1,1.03)" font-size="34">10 min LL interval</text>
<text transform="translate(605.9,1559.2) scale(1,1.03)" font-size="34">Time under HL (min)</text>
<text transform="translate(26.2,1490.9) rotate(-90) scale(1,1.03)" font-size="34">Integrated Pn (% of potential Pn)</text>
<path d="M180.9,1187.2L233.8,1145.4L286.8,1131.3L339.8,1123.8L392.8,1119.3" fill="none" stroke-width="1.9"/>
<path d="M180.9,1190.6V1183.8M175.0,1190.6h11.8M175.0,1183.8h11.8" fill="none" stroke-width="2.0"/>
<path d="M233.8,1148.8V1141.9M227.9,1148.8h11.8M227.9,1141.9h11.8" fill="none" stroke-width="2.0"/>
<path d="M286.8,1146.1V1116.6M280.9,1146.1h11.8M280.9,1116.6h11.8" fill="none" stroke-width="2.0"/>
<path d="M339.8,1133.0V1114.5M333.9,1133.0h11.8M333.9,1114.5h11.8" fill="none" stroke-width="2.0"/>
<path d="M392.8,1126.8V1111.8M386.9,1126.8h11.8M386.9,1111.8h11.8" fill="none" stroke-width="2.0"/>
<circle cx="180.9" cy="1187.2" r="9.3" fill="#000" stroke="none"/>
<circle cx="233.8" cy="1145.4" r="9.3" fill="#000" stroke="none"/>
<circle cx="286.8" cy="1131.3" r="9.3" fill="#000" stroke="none"/>
<circle cx="339.8" cy="1123.8" r="9.3" fill="#000" stroke="none"/>
<circle cx="392.8" cy="1119.3" r="9.3" fill="#000" stroke="none"/>
<path d="M180.9,1193.4L233.8,1153.3L286.8,1140.2L339.8,1132.0L392.8,1126.2" fill="none" stroke-width="1.9"/>
<path d="M180.9,1203.0V1183.8M175.0,1203.0h11.8M175.0,1183.8h11.8" fill="none" stroke-width="2.0"/>
<path d="M233.8,1161.8V1144.7M227.9,1161.8h11.8M227.9,1144.7h11.8" fill="none" stroke-width="2.0"/>
<path d="M286.8,1143.7V1136.8M280.9,1143.7h11.8M280.9,1136.8h11.8" fill="none" stroke-width="2.0"/>
<path d="M339.8,1143.3V1120.7M333.9,1143.3h11.8M333.9,1120.7h11.8" fill="none" stroke-width="2.0"/>
<path d="M392.8,1139.2V1113.1M386.9,1139.2h11.8M386.9,1113.1h11.8" fill="none" stroke-width="2.0"/>
<circle cx="180.9" cy="1193.4" r="8.1" fill="#fff" stroke-width="2.0"/>
<circle cx="233.8" cy="1153.3" r="8.1" fill="#fff" stroke-width="2.0"/>
<circle cx="286.8" cy="1140.2" r="8.1" fill="#fff" stroke-width="2.0"/>
<circle cx="339.8" cy="1132.0" r="8.1" fill="#fff" stroke-width="2.0"/>
<circle cx="392.8" cy="1126.2" r="8.1" fill="#fff" stroke-width="2.0"/>
<path d="M498.7,1223.2L551.8,1171.4L604.8,1153.9L657.8,1144.3L710.8,1140.9" fill="none" stroke-width="1.9"/>
<path d="M498.7,1232.8V1213.6M492.8,1232.8h11.8M492.8,1213.6h11.8" fill="none" stroke-width="2.0"/>
<path d="M551.8,1174.9V1168.0M545.9,1174.9h11.8M545.9,1168.0h11.8" fill="none" stroke-width="2.0"/>
<path d="M604.8,1157.4V1150.5M598.9,1157.4h11.8M598.9,1150.5h11.8" fill="none" stroke-width="2.0"/>
<path d="M657.8,1153.3V1135.4M651.9,1153.3h11.8M651.9,1135.4h11.8" fill="none" stroke-width="2.0"/>
<path d="M710.8,1144.3V1137.5M704.9,1144.3h11.8M704.9,1137.5h11.8" fill="none" stroke-width="2.0"/>
<circle cx="498.7" cy="1223.2" r="9.3" fill="#000" stroke="none"/>
<circle cx="551.8" cy="1171.4" r="9.3" fill="#000" stroke="none"/>
<circle cx="604.8" cy="1153.9" r="9.3" fill="#000" stroke="none"/>
<circle cx="657.8" cy="1144.3" r="9.3" fill="#000" stroke="none"/>
<circle cx="710.8" cy="1140.9" r="9.3" fill="#000" stroke="none"/>
<path d="M498.7,1231.8L551.8,1181.0L604.8,1162.9L657.8,1148.8L710.8,1141.6" fill="none" stroke-width="1.9"/>
<path d="M498.7,1235.2V1228.4M492.8,1235.2h11.8M492.8,1228.4h11.8" fill="none" stroke-width="2.0"/>
<path d="M551.8,1191.0V1171.1M545.9,1191.0h11.8M545.9,1171.1h11.8" fill="none" stroke-width="2.0"/>
<path d="M604.8,1166.3V1159.4M598.9,1166.3h11.8M598.9,1159.4h11.8" fill="none" stroke-width="2.0"/>
<path d="M657.8,1161.8V1135.8M651.9,1161.8h11.8M651.9,1135.8h11.8" fill="none" stroke-width="2.0"/>
<path d="M710.8,1152.9V1130.3M704.9,1152.9h11.8M704.9,1130.3h11.8" fill="none" stroke-width="2.0"/>
<circle cx="498.7" cy="1231.8" r="8.1" fill="#fff" stroke-width="2.0"/>
<circle cx="551.8" cy="1181.0" r="8.1" fill="#fff" stroke-width="2.0"/>
<circle cx="604.8" cy="1162.9" r="8.1" fill="#fff" stroke-width="2.0"/>
<circle cx="657.8" cy="1148.8" r="8.1" fill="#fff" stroke-width="2.0"/>
<circle cx="710.8" cy="1141.6" r="8.1" fill="#fff" stroke-width="2.0"/>
<path d="M799.1,1294.9L810.9,1240.0L822.6,1213.6L834.3,1200.3L846.1,1191.7L904.8,1171.4L963.5,1160.1L1022.2,1150.5" fill="none" stroke-width="1.9"/>
<path d="M799.1,1298.4V1291.5M793.2,1298.4h11.8M793.2,1291.5h11.8" fill="none" stroke-width="2.0"/>
<path d="M810.9,1243.5V1236.6M805.0,1243.5h11.8M805.0,1236.6h11.8" fill="none" stroke-width="2.0"/>
<path d="M822.6,1218.8V1208.5M816.7,1218.8h11.8M816.7,1208.5h11.8" fill="none" stroke-width="2.0"/>
<path d="M834.3,1207.1V1193.4M828.4,1207.1h11.8M828.4,1193.4h11.8" fill="none" stroke-width="2.0"/>
<path d="M846.1,1201.3V1182.1M840.2,1201.3h11.8M840.2,1182.1h11.8" fill="none" stroke-width="2.0"/>
<path d="M904.8,1179.3V1163.6M898.9,1179.3h11.8M898.9,1163.6h11.8" fill="none" stroke-width="2.0"/>
<path d="M963.5,1170.1V1150.2M957.6,1170.1h11.8M957.6,1150.2h11.8" fill="none" stroke-width="2.0"/>
<path d="M1022.2,1158.4V1142.6M1016.3,1158.4h11.8M1016.3,1142.6h11.8" fill="none" stroke-width="2.0"/>
<circle cx="799.1" cy="1294.9" r="9.3" fill="#000" stroke="none"/>
<circle cx="810.9" cy="1240.0" r="9.3" fill="#000" stroke="none"/>
<circle cx="822.6" cy="1213.6" r="9.3" fill="#000" stroke="none"/>
<circle cx="834.3" cy="1200.3" r="9.3" fill="#000" stroke="none"/>
<circle cx="846.1" cy="1191.7" r="9.3" fill="#000" stroke="none"/>
<circle cx="904.8" cy="1171.4" r="9.3" fill="#000" stroke="none"/>
<circle cx="963.5" cy="1160.1" r="9.3" fill="#000" stroke="none"/>
<circle cx="1022.2" cy="1150.5" r="9.3" fill="#000" stroke="none"/>
<path d="M799.1,1292.5L810.9,1238.7L822.6,1208.1L834.3,1190.6L846.1,1177.6L904.8,1150.2L963.5,1138.2L1022.2,1129.6" fill="none" stroke-width="1.9"/>
<path d="M799.1,1295.9V1289.1M793.2,1295.9h11.8M793.2,1289.1h11.8" fill="none" stroke-width="2.0"/>
<path d="M810.9,1248.3V1229.1M805.0,1248.3h11.8M805.0,1229.1h11.8" fill="none" stroke-width="2.0"/>
<path d="M822.6,1218.4V1197.9M816.7,1218.4h11.8M816.7,1197.9h11.8" fill="none" stroke-width="2.0"/>
<path d="M834.3,1205.4V1175.9M828.4,1205.4h11.8M828.4,1175.9h11.8" fill="none" stroke-width="2.0"/>
<path d="M846.1,1190.6V1164.6M840.2,1190.6h11.8M840.2,1164.6h11.8" fill="none" stroke-width="2.0"/>
<path d="M904.8,1160.1V1140.2M898.9,1160.1h11.8M898.9,1140.2h11.8" fill="none" stroke-width="2.0"/>
<path d="M963.5,1143.3V1133.0M957.6,1143.3h11.8M957.6,1133.0h11.8" fill="none" stroke-width="2.0"/>
<path d="M1022.2,1134.7V1124.4M1016.3,1134.7h11.8M1016.3,1124.4h11.8" fill="none" stroke-width="2.0"/>
<circle cx="799.1" cy="1292.5" r="8.1" fill="#fff" stroke-width="2.0"/>
<circle cx="810.9" cy="1238.7" r="8.1" fill="#fff" stroke-width="2.0"/>
<circle cx="822.6" cy="1208.1" r="8.1" fill="#fff" stroke-width="2.0"/>
<circle cx="834.3" cy="1190.6" r="8.1" fill="#fff" stroke-width="2.0"/>
<circle cx="846.1" cy="1177.6" r="8.1" fill="#fff" stroke-width="2.0"/>
<circle cx="904.8" cy="1150.2" r="8.1" fill="#fff" stroke-width="2.0"/>
<circle cx="963.5" cy="1138.2" r="8.1" fill="#fff" stroke-width="2.0"/>
<circle cx="1022.2" cy="1129.6" r="8.1" fill="#fff" stroke-width="2.0"/>
<path d="M1123.3,1342.9L1130.4,1300.8L1137.5,1279.1L1144.5,1266.8L1151.6,1258.9L1186.9,1234.9L1222.3,1218.8L1257.6,1204.0L1293.0,1190.3L1328.3,1179.7" fill="none" stroke-width="1.9"/>
<path d="M1123.3,1364.5V1321.3M1117.4,1364.5h11.8M1117.4,1321.3h11.8" fill="none" stroke-width="2.0"/>
<path d="M1130.4,1319.6V1281.9M1124.5,1319.6h11.8M1124.5,1281.9h11.8" fill="none" stroke-width="2.0"/>
<path d="M1137.5,1296.3V1262.0M1131.6,1296.3h11.8M1131.6,1262.0h11.8" fill="none" stroke-width="2.0"/>
<path d="M1144.5,1283.9V1249.6M1138.6,1283.9h11.8M1138.6,1249.6h11.8" fill="none" stroke-width="2.0"/>
<path d="M1151.6,1274.0V1243.8M1145.7,1274.0h11.8M1145.7,1243.8h11.8" fill="none" stroke-width="2.0"/>
<path d="M1186.9,1253.4V1216.4M1181.0,1253.4h11.8M1181.0,1216.4h11.8" fill="none" stroke-width="2.0"/>
<path d="M1222.3,1237.3V1200.3M1216.4,1237.3h11.8M1216.4,1200.3h11.8" fill="none" stroke-width="2.0"/>
<path d="M1257.6,1221.2V1186.9M1251.7,1221.2h11.8M1251.7,1186.9h11.8" fill="none" stroke-width="2.0"/>
<path d="M1293.0,1204.7V1175.9M1287.1,1204.7h11.8M1287.1,1175.9h11.8" fill="none" stroke-width="2.0"/>
<path d="M1328.3,1201.6V1157.7M1322.4,1201.6h11.8M1322.4,1157.7h11.8" fill="none" stroke-width="2.0"/>
<circle cx="1123.3" cy="1342.9" r="9.3" fill="#000" stroke="none"/>
<circle cx="1130.4" cy="1300.8" r="9.3" fill="#000" stroke="none"/>
<circle cx="1137.5" cy="1279.1" r="9.3" fill="#000" stroke="none"/>
<circle cx="1144.5" cy="1266.8" r="9.3" fill="#000" stroke="none"/>
<circle cx="1151.6" cy="1258.9" r="9.3" fill="#000" stroke="none"/>
<circle cx="1186.9" cy="1234.9" r="9.3" fill="#000" stroke="none"/>
<circle cx="1222.3" cy="1218.8" r="9.3" fill="#000" stroke="none"/>
<circle cx="1257.6" cy="1204.0" r="9.3" fill="#000" stroke="none"/>
<circle cx="1293.0" cy="1190.3" r="9.3" fill="#000" stroke="none"/>
<circle cx="1328.3" cy="1179.7" r="9.3" fill="#000" stroke="none"/>
<path d="M1123.3,1307.3L1130.4,1257.2L1137.5,1226.7L1144.5,1208.1L1151.6,1194.8L1186.9,1161.2L1222.3,1145.7L1257.6,1135.4L1293.0,1127.5L1328.3,1123.1" fill="none" stroke-width="1.9"/>
<path d="M1123.3,1324.4V1290.1M1117.4,1324.4h11.8M1117.4,1290.1h11.8" fill="none" stroke-width="2.0"/>
<path d="M1130.4,1277.8V1236.6M1124.5,1277.8h11.8M1124.5,1236.6h11.8" fill="none" stroke-width="2.0"/>
<path d="M1137.5,1247.2V1206.1M1131.6,1247.2h11.8M1131.6,1206.1h11.8" fill="none" stroke-width="2.0"/>
<path d="M1144.5,1232.2V1184.1M1138.6,1232.2h11.8M1138.6,1184.1h11.8" fill="none" stroke-width="2.0"/>
<path d="M1151.6,1223.9V1165.6M1145.7,1223.9h11.8M1145.7,1165.6h11.8" fill="none" stroke-width="2.0"/>
<path d="M1186.9,1182.4V1139.9M1181.0,1182.4h11.8M1181.0,1139.9h11.8" fill="none" stroke-width="2.0"/>
<path d="M1222.3,1168.7V1122.7M1216.4,1168.7h11.8M1216.4,1122.7h11.8" fill="none" stroke-width="2.0"/>
<path d="M1257.6,1156.7V1114.2M1251.7,1156.7h11.8M1251.7,1114.2h11.8" fill="none" stroke-width="2.0"/>
<path d="M1293.0,1147.8V1107.3M1287.1,1147.8h11.8M1287.1,1107.3h11.8" fill="none" stroke-width="2.0"/>
<path d="M1328.3,1141.6V1104.6M1322.4,1141.6h11.8M1322.4,1104.6h11.8" fill="none" stroke-width="2.0"/>
<circle cx="1123.3" cy="1307.3" r="8.1" fill="#fff" stroke-width="2.0"/>
<circle cx="1130.4" cy="1257.2" r="8.1" fill="#fff" stroke-width="2.0"/>
<circle cx="1137.5" cy="1226.7" r="8.1" fill="#fff" stroke-width="2.0"/>
<circle cx="1144.5" cy="1208.1" r="8.1" fill="#fff" stroke-width="2.0"/>
<circle cx="1151.6" cy="1194.8" r="8.1" fill="#fff" stroke-width="2.0"/>
<circle cx="1186.9" cy="1161.2" r="8.1" fill="#fff" stroke-width="2.0"/>
<circle cx="1222.3" cy="1145.7" r="8.1" fill="#fff" stroke-width="2.0"/>
<circle cx="1257.6" cy="1135.4" r="8.1" fill="#fff" stroke-width="2.0"/>
<circle cx="1293.0" cy="1127.5" r="8.1" fill="#fff" stroke-width="2.0"/>
<circle cx="1328.3" cy="1123.1" r="8.1" fill="#fff" stroke-width="2.0"/>
<text x="842.5" y="1166.0" text-anchor="middle" font-size="44">*</text>
<text x="902.3" y="1144.3" text-anchor="middle" font-size="44">*</text>
<text x="961.7" y="1136.5" text-anchor="middle" font-size="44">*</text>
<text x="1021.0" y="1130.8" text-anchor="middle" font-size="44">*</text>
<text x="1115.7" y="1303.5" text-anchor="middle" font-size="44">*</text>
<text x="1119.7" y="1250.1" text-anchor="middle" font-size="44">*</text>
<text x="1129.8" y="1222.0" text-anchor="middle" font-size="44">*</text>
<text x="1144.3" y="1196.8" text-anchor="middle" font-size="44">*</text>
<text x="1150.1" y="1171.3" text-anchor="middle" font-size="44">*</text>
<text x="1185.4" y="1146.5" text-anchor="middle" font-size="44">*</text>
<text x="1220.6" y="1131.2" text-anchor="middle" font-size="44">*</text>
<text x="1257.6" y="1125.0" text-anchor="middle" font-size="44">*</text>
<text x="1293.4" y="1117.0" text-anchor="middle" font-size="44">*</text>
<text x="1328.2" y="1117.5" text-anchor="middle" font-size="44">*</text>
<circle cx="1261.4" cy="1334.2" r="9.3" fill="#000" stroke="none"/>
<circle cx="1261.4" cy="1375.5" r="8.1" fill="#fff" stroke-width="2.0"/>
<text transform="translate(1318.3,1346.3) scale(1,1.03)" font-size="34">HN</text>
<text transform="translate(1318.3,1388.3) scale(1,1.03)" font-size="34">LN</text>
</svg></body></html>
